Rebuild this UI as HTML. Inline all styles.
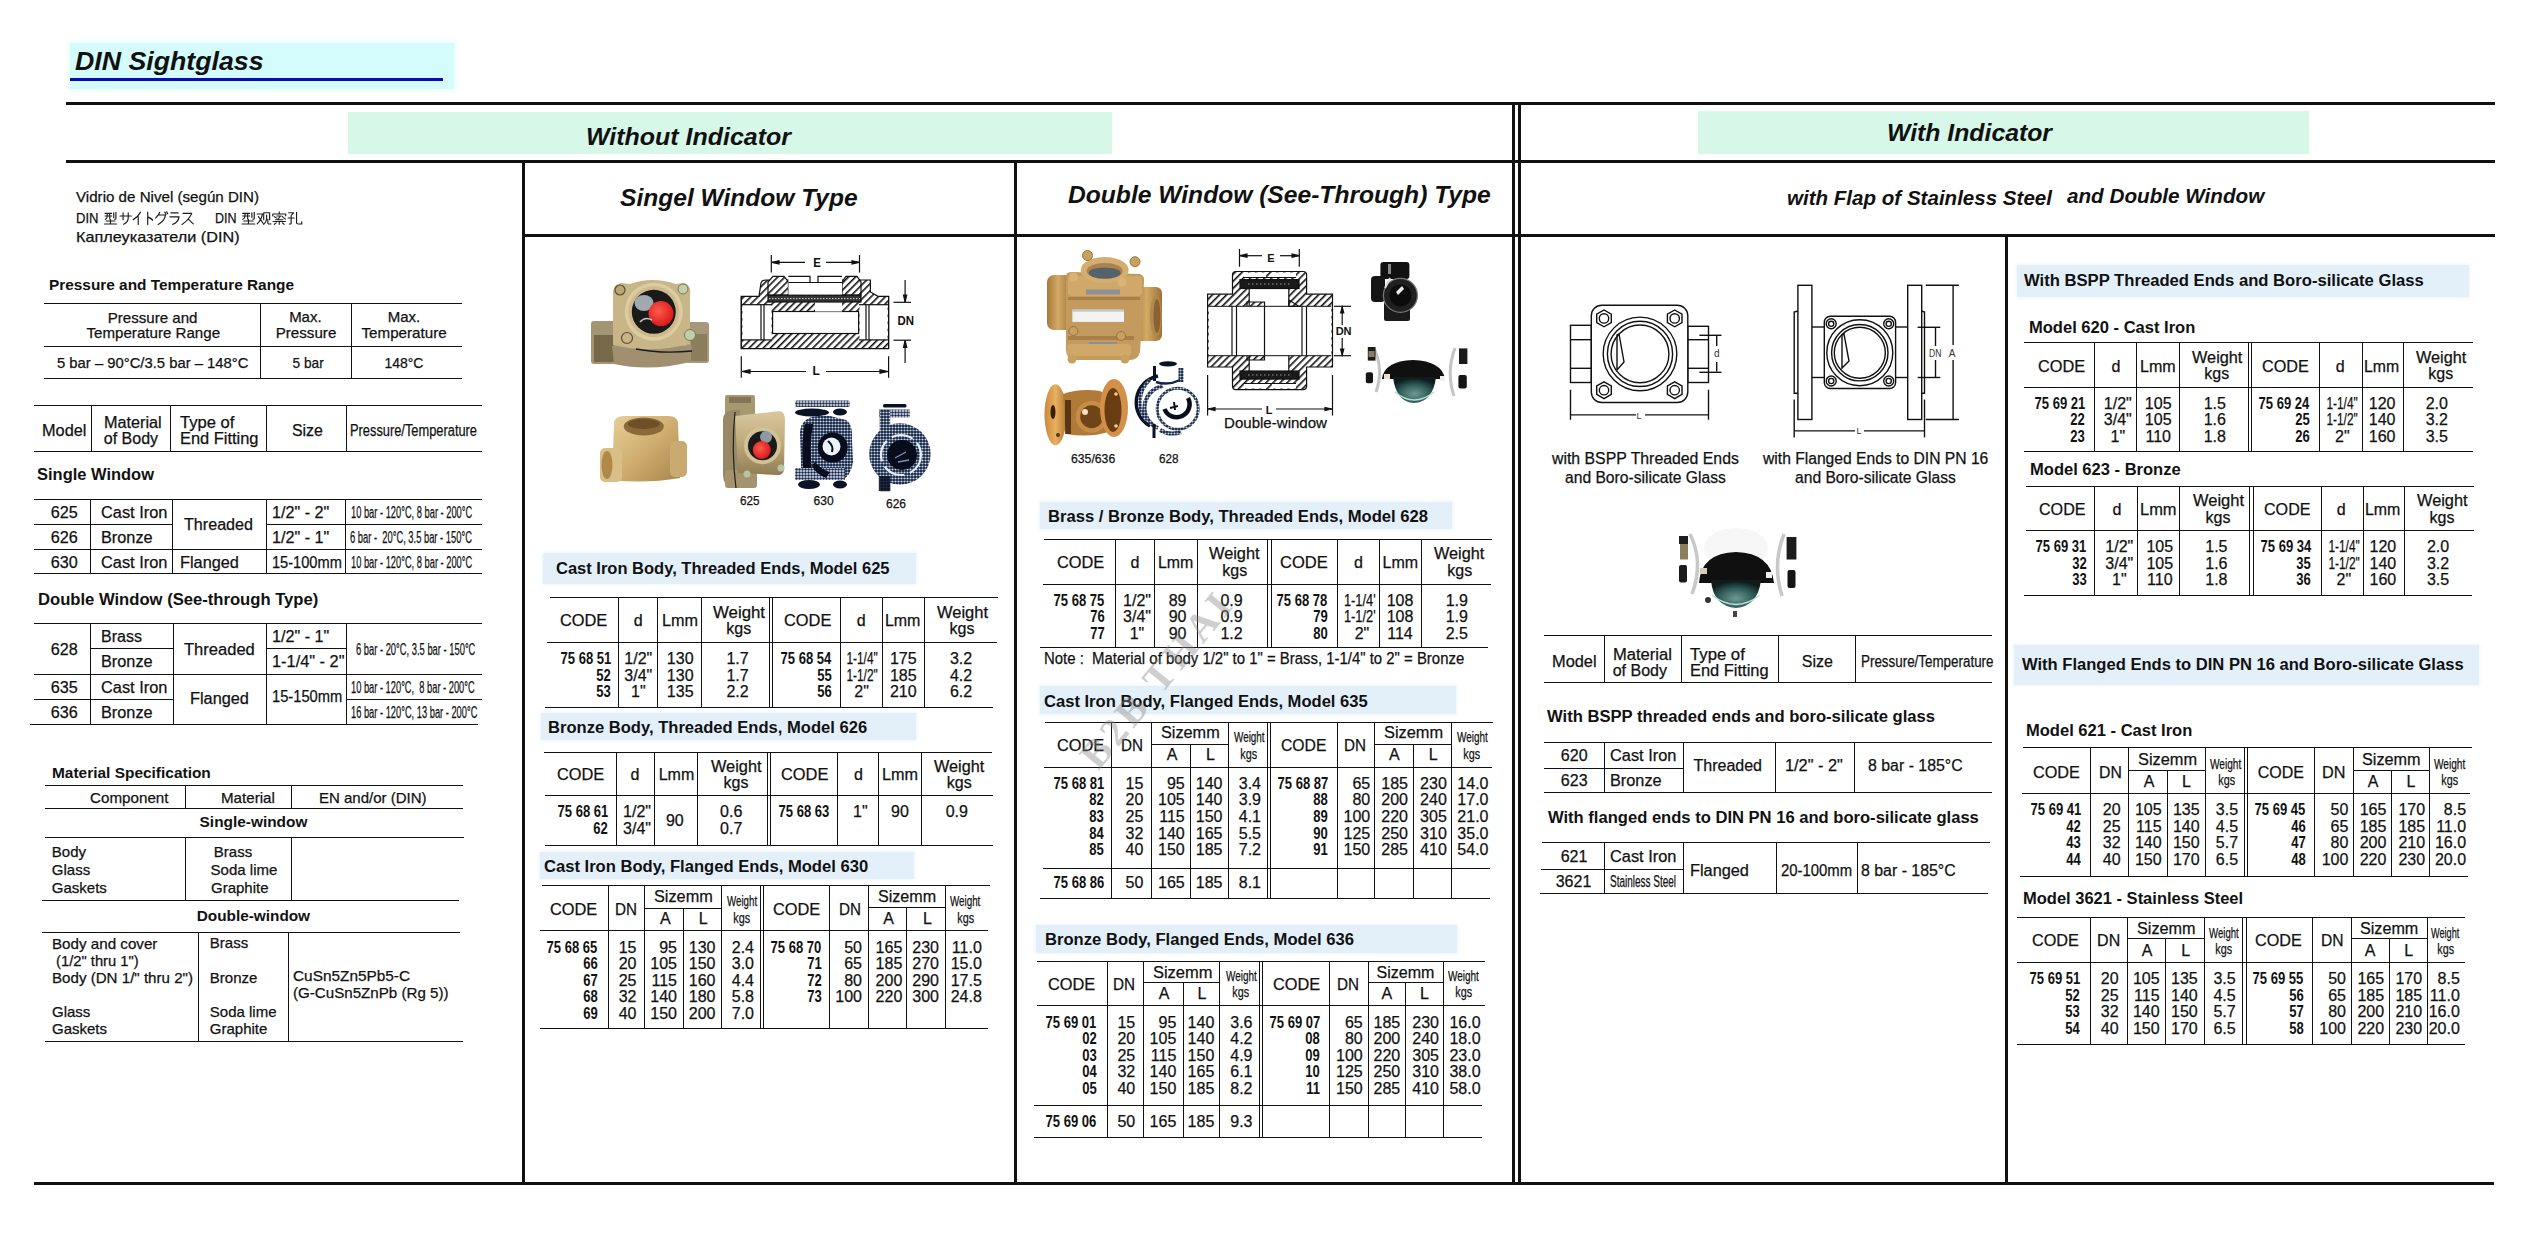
<!DOCTYPE html>
<html><head><meta charset="utf-8"><title>DIN Sightglass</title>
<style>
html,body{margin:0;padding:0;background:#fff;}
body{width:2536px;height:1236px;position:relative;overflow:hidden;font-family:'Liberation Sans',sans-serif;}
#pg div{position:absolute;white-space:pre;}
#pg i{position:absolute;display:block;}

</style></head><body><div id="pg">
<i style="left:70.00px;top:43.00px;width:384.00px;height:46.00px;background:#d5fcfc;box-shadow:0 0 4px 2px #e8fdfd;"></i><i style="left:70.00px;top:77.50px;width:373.00px;height:3.50px;background:#0a0ab4;"></i><i style="left:348.00px;top:112.00px;width:763.50px;height:42.00px;background:#d7f8e8;"></i><i style="left:1698.00px;top:110.50px;width:611.00px;height:43.00px;background:#d7f8e8;"></i><i style="left:542.90px;top:553.00px;width:373.20px;height:31.40px;background:#e3f0fa;box-shadow:0 0 3px 1px #eef6fc;"></i><i style="left:541.40px;top:712.60px;width:374.60px;height:27.40px;background:#e3f0fa;box-shadow:0 0 3px 1px #eef6fc;"></i><i style="left:539.50px;top:852.20px;width:374.80px;height:26.50px;background:#e3f0fa;box-shadow:0 0 3px 1px #eef6fc;"></i><i style="left:1039.80px;top:502.20px;width:412.20px;height:26.50px;background:#e3f0fa;box-shadow:0 0 3px 1px #eef6fc;"></i><i style="left:1039.80px;top:686.00px;width:416.10px;height:28.00px;background:#e3f0fa;box-shadow:0 0 3px 1px #eef6fc;"></i><i style="left:1036.00px;top:924.50px;width:421.00px;height:28.40px;background:#e3f0fa;box-shadow:0 0 3px 1px #eef6fc;"></i><i style="left:2016.70px;top:265.40px;width:451.90px;height:31.60px;background:#e3f0fa;box-shadow:0 0 3px 1px #eef6fc;"></i><i style="left:2014.10px;top:644.60px;width:465.30px;height:40.10px;background:#e3f0fa;box-shadow:0 0 3px 1px #eef6fc;"></i>

<svg width='2536' height='1236' viewBox='0 0 2536 1236' style='position:absolute;left:0;top:0'><g><path transform='translate(104,211.8) scale(1.083,1.050)' d='M1 1.5 H7 M1 4 H7 M3 1.5 V4 Q3 6.5 1.2 7.2 M5.3 1.5 V6.8 M9 1 V5.5 M11 0.5 V6.3 Q11 7.3 9.8 7 M2 8.8 H10 M6 7.3 V11.5 M0.5 11.6 H11.5' stroke='#1a1a1a' stroke-width='1.062' fill='none' stroke-linecap='round' stroke-linejoin='round'/><path transform='translate(119.5,211.8) scale(1.025,1.050)' d='M0.5 4 H11.5 M3.5 1 V7.5 M8.5 1 V6 Q8.5 10 4 11.8' stroke='#1a1a1a' stroke-width='1.122' fill='none' stroke-linecap='round' stroke-linejoin='round'/><path transform='translate(132.8,211.8) scale(0.900,1.050)' d='M8.5 0.5 Q5.5 5 0.5 7.5 M6 4.5 V12' stroke='#1a1a1a' stroke-width='1.278' fill='none' stroke-linecap='round' stroke-linejoin='round'/><path transform='translate(145.5,211.8) scale(0.742,1.050)' d='M3 0.5 V12 M3 5 Q7 6 9.5 7.8' stroke='#1a1a1a' stroke-width='1.551' fill='none' stroke-linecap='round' stroke-linejoin='round'/><path transform='translate(155,211.8) scale(1.058,1.050)' d='M4.5 0.5 Q3 4 0.5 6 M4 3 H10 Q9 9 3 12 M9.3 0.3 L10.4 2.3 M11 0 L12 1.9' stroke='#1a1a1a' stroke-width='1.087' fill='none' stroke-linecap='round' stroke-linejoin='round'/><path transform='translate(169,211.8) scale(0.917,1.050)' d='M2 1 H10 M1 4.8 H11 Q10 10 4 12' stroke='#1a1a1a' stroke-width='1.255' fill='none' stroke-linecap='round' stroke-linejoin='round'/><path transform='translate(181.5,211.8) scale(1.025,1.050)' d='M1.5 1.5 H10 Q7 8 0.5 12 M6.5 7 L11.5 11.5' stroke='#1a1a1a' stroke-width='1.122' fill='none' stroke-linecap='round' stroke-linejoin='round'/><path transform='translate(241.5,211.8) scale(1.158,1.050)' d='M1 1.5 H7 M1 4 H7 M3 1.5 V4 Q3 6.5 1.2 7.2 M5.3 1.5 V6.8 M9 1 V5.5 M11 0.5 V6.3 Q11 7.3 9.8 7 M2 8.8 H10 M6 7.3 V11.5 M0.5 11.6 H11.5' stroke='#1a1a1a' stroke-width='0.993' fill='none' stroke-linecap='round' stroke-linejoin='round'/><path transform='translate(256.6,211.8) scale(1.183,1.050)' d='M0.5 2 H5 Q4 8 0.5 11.5 M1.5 4.5 L5.5 11 M6 1 H11 V7.5 M6 1 V7.5 M8.5 3 V7 Q8 10 6 12 M9.5 7 V11 Q9.5 12 12 11.5' stroke='#1a1a1a' stroke-width='0.972' fill='none' stroke-linecap='round' stroke-linejoin='round'/><path transform='translate(271.8,211.8) scale(1.242,1.050)' d='M6 0 V1.5 M0.8 4 V2 H11.2 V4 M2 4.5 L4 6 M4 4 H7 L5 7 M8 4 L11 7 M3 7.5 H9 M1 9.2 H11 M6 9.2 V12 M3.5 10.5 L2 12 M8.5 10.5 L10 12' stroke='#1a1a1a' stroke-width='0.926' fill='none' stroke-linecap='round' stroke-linejoin='round'/><path transform='translate(287.5,211.8) scale(1.208,1.050)' d='M1 1 H5 L3 3.5 M3 3.5 V11.2 Q3 12 1.5 11.6 M0.5 6 H5.5 M7.5 0.5 V10.5 Q7.5 11.6 9 11.6 H11.8 V9.5' stroke='#1a1a1a' stroke-width='0.952' fill='none' stroke-linecap='round' stroke-linejoin='round'/></g>
<defs>
<linearGradient id="brass" x1="0" y1="0" x2="0" y2="1">
 <stop offset="0" stop-color="#d9c9a0"/><stop offset="0.5" stop-color="#bfa978"/><stop offset="1" stop-color="#8f7d55"/>
</linearGradient>
<linearGradient id="brassH" x1="0" y1="0" x2="1" y2="0">
 <stop offset="0" stop-color="#8a7650"/><stop offset="0.5" stop-color="#c9b483"/><stop offset="1" stop-color="#8f7b52"/>
</linearGradient>
<linearGradient id="gold" x1="0" y1="0" x2="1" y2="1">
 <stop offset="0" stop-color="#e8cf98"/><stop offset="0.5" stop-color="#cfae70"/><stop offset="1" stop-color="#a9844c"/>
</linearGradient>
<linearGradient id="bronze" x1="0" y1="0" x2="1" y2="0">
 <stop offset="0" stop-color="#a57a3c"/><stop offset="0.45" stop-color="#d4aa66"/><stop offset="1" stop-color="#9c7236"/>
</linearGradient>
<linearGradient id="copper" x1="0" y1="0" x2="1" y2="0">
 <stop offset="0" stop-color="#c88a3a"/><stop offset="0.5" stop-color="#e8b060"/><stop offset="1" stop-color="#b27a30"/>
</linearGradient>
<linearGradient id="chrome" x1="0" y1="0" x2="1" y2="0">
 <stop offset="0" stop-color="#f4f4f4"/><stop offset="0.5" stop-color="#ffffff"/><stop offset="1" stop-color="#e6e6e6"/>
</linearGradient>
<radialGradient id="teal" cx="0.5" cy="0.65" r="0.6">
 <stop offset="0" stop-color="#6f9a92"/><stop offset="0.6" stop-color="#2d5a55"/><stop offset="1" stop-color="#0e1c1c"/>
</radialGradient>
<radialGradient id="redball" cx="0.4" cy="0.4" r="0.6">
 <stop offset="0" stop-color="#ff5a4a"/><stop offset="1" stop-color="#d81c1c"/>
</radialGradient>
<pattern id="ht" width="3" height="3" patternUnits="userSpaceOnUse">
 <rect width="3" height="3" fill="#0d1d3c"/><circle cx="1.5" cy="1.5" r="1.1" fill="#c8d4e6"/>
</pattern>
<pattern id="ht2" width="3" height="3" patternUnits="userSpaceOnUse">
 <rect width="3" height="3" fill="#ffffff"/><circle cx="1.5" cy="1.5" r="1.0" fill="#5a6c8c"/>
</pattern>
<pattern id="ht3" width="3" height="3" patternUnits="userSpaceOnUse">
 <rect width="3" height="3" fill="#e9eff7"/><circle cx="1.5" cy="1.5" r="1.25" fill="#15244a"/>
</pattern>
<pattern id="hatch" width="5" height="5" patternUnits="userSpaceOnUse" patternTransform="rotate(45)">
 <rect width="5" height="5" fill="#fff"/><rect width="1.6" height="5" fill="#111"/>
</pattern>
<pattern id="hatch2" width="4" height="4" patternUnits="userSpaceOnUse" patternTransform="rotate(-45)">
 <rect width="4" height="4" fill="#fff"/><rect width="1.4" height="4" fill="#111"/>
</pattern>
</defs>

<g>
 <rect x="591" y="321" width="27" height="43" rx="3" fill="#a39473"/>
 <rect x="594" y="335" width="20" height="27" fill="#6d5d40" opacity="0.8"/>
 <rect x="686" y="322" width="23" height="41" rx="3" fill="#a8987a"/>
 <rect x="691" y="334" width="16" height="27" fill="#7a6a4a" opacity="0.6"/>
 <path d="M612 346 Q650 340 692 346 L690 362 Q650 372 614 364 Z" fill="#a09070"/>
 <path d="M613 296 Q612 284 622 283 L630 284 Q652 276 676 284 L684 283 Q692 285 690 296 L690 344 Q650 354 613 345 Z" fill="#c9b688"/>
 <circle cx="653.8" cy="311.8" r="29" fill="#dccca2"/>
 <circle cx="653.8" cy="311.8" r="25.5" fill="#cdb98c"/>
 <circle cx="653.8" cy="311.8" r="22" fill="#1a1a1a"/>
 <ellipse cx="644" cy="303" rx="9.5" ry="8" fill="#a0a8b0"/>
 <circle cx="661" cy="313.6" r="12.5" fill="url(#redball)"/>
 <path d="M640 322 Q645 316 652 320" stroke="#c8c8c8" stroke-width="1.5" fill="none"/>
 <circle cx="620" cy="290" r="5" fill="#b8a57a" stroke="#5d4d30" stroke-width="1.2"/>
 <circle cx="683" cy="289" r="5" fill="#c2cfa8" stroke="#7a7a55" stroke-width="1"/>
 <circle cx="627" cy="338" r="5.5" fill="#c8b587" stroke="#5d4d30" stroke-width="1.2"/>
 <circle cx="690" cy="335" r="5.5" fill="#bfd0a8" stroke="#7a7a55" stroke-width="1"/>
 <path d="M636 349 Q662 354 692 351" stroke="#1a1a1a" stroke-width="1.4" fill="none"/>
</g>
<g>
 <path d="M614 424 Q614 416 624 416 L668 416 Q678 416 678 424 L680 478 Q645 484 612 480 Z" fill="url(#gold)"/>
 <ellipse cx="643.8" cy="426.4" rx="20" ry="9" fill="#8c6a38"/>
 <ellipse cx="643.8" cy="424" rx="16" ry="5" fill="#6e5028"/>
 <rect x="600" y="448" width="22" height="34" rx="5" fill="#d9be88"/>
 <ellipse cx="607" cy="465" rx="5.5" ry="14" fill="#b08848"/>
 <rect x="670" y="441" width="17" height="36" rx="5" fill="#c9ab72"/>
</g>
<g>
 <rect x="725" y="395" width="30" height="22" rx="2" fill="#a89870"/>
 <rect x="729" y="397" width="22" height="6" fill="#6b5f44" opacity="0.6"/>
 <path d="M723 420 Q723 410 735 410 L740 410 L740 488 L733 488 Q723 486 723 475 Z" fill="#978866"/>
 <rect x="725" y="470" width="32" height="18" rx="3" fill="#a4936c"/>
 <path d="M735 416 L780 411 Q785 412 785 420 L784 470 Q783 476 776 475 L738 473 Z" fill="url(#brass)"/>
 <circle cx="762.5" cy="445.7" r="18.5" fill="#d2c196"/>
 <circle cx="762.5" cy="445.7" r="14.5" fill="#1a1a1a"/>
 <ellipse cx="766" cy="437" rx="6" ry="6" fill="#8d99a3"/>
 <circle cx="761.8" cy="450" r="9" fill="url(#redball)"/>
 <circle cx="781" cy="468" r="3.5" fill="#b6c6a0"/>
 <circle cx="747" cy="474" r="3.5" fill="#b6c6a0"/>
 <path d="M735 412 Q731 450 736 488" stroke="#222" stroke-width="1.2" fill="none"/>
</g>
<g>
 <rect x="795" y="400.5" width="55" height="6.5" rx="2" fill="url(#ht3)"/>
 <ellipse cx="812" cy="412.5" rx="17" ry="4" fill="#0b1226"/>
 <ellipse cx="840" cy="412" rx="7" ry="3.5" fill="#0b1226"/>
 <path d="M806 420 Q812 415 830 416 L846 420 Q853 424 852 440 L853 462 Q851 476 842 480 L808 480 Q800 476 801 462 L800 432 Q801 423 806 420 Z" fill="url(#ht)"/>
 <path d="M805 424 Q801 440 803 470 L812 472 Q809 446 813 424 Z" fill="#070d1c"/>
 <rect x="795" y="468" width="50" height="12" fill="url(#ht3)"/>
 <circle cx="832.7" cy="447.6" r="15" fill="#070d1c"/>
 <circle cx="831.5" cy="446.5" r="9" fill="#eef3fa"/>
 <path d="M828 441 Q834 446 832 452" stroke="#070d1c" stroke-width="2" fill="none"/>
 <ellipse cx="809" cy="484.5" rx="11" ry="4.5" fill="#0b1226"/>
 <ellipse cx="840" cy="484.5" rx="7" ry="4" fill="#0b1226"/>
 <path d="M815 462 Q822 470 830 472 L826 478 Q816 474 812 466 Z" fill="#070d1c"/>
</g>
<g>
 <rect x="883" y="403.9" width="23.5" height="3.5" rx="1.5" fill="#0b1226"/>
 <rect x="879" y="409.5" width="31" height="8" fill="url(#ht3)"/>
 <rect x="879.7" y="409.6" width="10.5" height="81.7" fill="url(#ht)"/>
 <circle cx="899.9" cy="454" r="30.7" fill="url(#ht)"/>
 <circle cx="901" cy="455" r="20" fill="none" stroke="#e8eef8" stroke-width="2.2" stroke-dasharray="22 6"/>
 <circle cx="902" cy="455" r="15" fill="#070d1c"/>
 <path d="M895 458 L906 452 M898 462 L909 460" stroke="#8090b0" stroke-width="1.4"/>
 <rect x="878.8" y="476" width="11.4" height="15" fill="#0b1226" opacity="0.85"/>
</g>
<g stroke="#111" stroke-width="1.2" fill="none">
 <line x1="771.3" y1="255" x2="771.3" y2="272.6"/><line x1="859.5" y1="255" x2="859.5" y2="272.6"/>
 <line x1="772" y1="262.4" x2="805" y2="262.4"/><line x1="826" y1="262.4" x2="859" y2="262.4"/>
 <path d="M772 262.4 l7 -1.6 v3.2 z M859 262.4 l-7 -1.6 v3.2 z" fill="#111"/>
 <path d="M741.3 296.3 H759 L761 283 Q762 280 766 280 H870.4 V292 L878 296.3 H888.6 V348.6 H741.3 Z" fill="url(#hatch)"/>
 <path d="M768 295 V282 L773 276.3 H784 L788.4 282 V295 Z" fill="url(#hatch)"/>
 <path d="M842 295 V282 L846 276.3 H857 L861 282 V295 Z" fill="url(#hatch)"/>
 <rect x="788.4" y="276.3" width="53.6" height="18.7" fill="#fff" stroke="none"/>
 <path d="M788.4 276.3 H810 V282.5 M818 282.5 V276.3 H842 M788.4 282.5 H842"/>
 <rect x="742.5" y="304.7" width="29" height="35.2" fill="#fff" stroke="none"/>
 <rect x="859.5" y="304.7" width="28" height="35.2" fill="#fff" stroke="none"/>
 <rect x="772.6" y="311.5" width="86" height="22" fill="#fff"/>
 <rect x="815" y="302" width="27" height="9.5" fill="#fff" stroke="none"/>
 <rect x="768" y="295.2" width="93" height="6.8" fill="#333"/>
 <line x1="769" y1="298.6" x2="860" y2="298.6" stroke="#ddd" stroke-width="1" stroke-dasharray="1.5 1.5"/>
 <line x1="741.3" y1="304.7" x2="772" y2="304.7"/><line x1="859" y1="304.7" x2="888.6" y2="304.7"/>
 <line x1="741.3" y1="339.9" x2="772" y2="339.9"/><line x1="859" y1="339.9" x2="888.6" y2="339.9"/>
 <line x1="761" y1="304.7" x2="761" y2="339.9"/><line x1="764" y1="304.7" x2="764" y2="339.9"/>
 <line x1="866" y1="304.7" x2="866" y2="339.9"/><line x1="869" y1="304.7" x2="869" y2="339.9"/>
 <line x1="741.3" y1="296.3" x2="741.3" y2="348.6"/><line x1="888.6" y1="296.3" x2="888.6" y2="348.6"/>
 <line x1="893.5" y1="302.3" x2="911" y2="302.3"/><line x1="893.5" y1="340.2" x2="911" y2="340.2"/>
 <line x1="905.1" y1="280" x2="905.1" y2="302"/><line x1="905.1" y1="340.5" x2="905.1" y2="363"/>
 <path d="M905.1 302 l-1.6 -7 h3.2 z M905.1 340.5 l-1.6 7 h3.2 z" fill="#111"/>
 <line x1="741.3" y1="356.2" x2="741.3" y2="377.8"/><line x1="888.6" y1="356.2" x2="888.6" y2="377.8"/>
 <line x1="742" y1="371.5" x2="806" y2="371.5"/><line x1="826" y1="371.5" x2="888" y2="371.5"/>
 <path d="M742 371.5 l8 -1.8 v3.6 z M888 371.5 l-8 -1.8 v3.6 z" fill="#111"/>
</g>
<g>
 <rect x="1047" y="275" width="25" height="55" rx="7" fill="url(#bronze)"/>
 <rect x="1134" y="287" width="28" height="54" rx="6" fill="url(#bronze)"/>
 <ellipse cx="1156" cy="316" rx="6" ry="20" fill="#b08850"/>
 <ellipse cx="1157" cy="316" rx="3.5" ry="17" fill="#8a6430"/>
 <path d="M1066 276 Q1066 272 1072 272 L1140 274 Q1145 276 1144 282 L1140 352 Q1138 360 1130 360 L1074 360 Q1066 358 1066 350 Z" fill="#c49a5e"/>
 <rect x="1068" y="276" width="74" height="20" rx="4" fill="#d0a86a"/>
 <ellipse cx="1104.7" cy="270" rx="24" ry="13" fill="#d4ae70"/>
 <ellipse cx="1104.7" cy="271" rx="18" ry="8" fill="#a88250"/>
 <ellipse cx="1104.7" cy="273" rx="16" ry="5.5" fill="#55626a"/>
 <rect x="1086" y="289.5" width="34" height="5" fill="#8d9196"/>
 <rect x="1068" y="297" width="72" height="3" fill="#9a7440" opacity="0.7"/>
 <rect x="1072.4" y="309.7" width="51.6" height="12.2" fill="#f2f3f4"/>
 <rect x="1072.4" y="309.7" width="51.6" height="2" fill="#c8c8c8"/>
 <rect x="1068" y="336" width="66" height="4" fill="#9a7440" opacity="0.7"/>
 <rect x="1088.6" y="342" width="28.4" height="5" fill="#8d9196"/>
 <rect x="1067" y="344" width="64" height="12" rx="3" fill="#d0a86a"/>
 <circle cx="1087.5" cy="255.5" r="5" fill="#c8a060" stroke="#9a7440" stroke-width="1"/>
 <circle cx="1135" cy="261.7" r="5" fill="#c8a060" stroke="#9a7440" stroke-width="1"/>
 <circle cx="1073.5" cy="277" r="4.5" fill="#d8b478"/>
 <circle cx="1122" cy="282" r="4.5" fill="#d8b478"/>
 <circle cx="1073.4" cy="331" r="4.5" fill="#c8a060" stroke="#9a7440" stroke-width="1"/>
 <circle cx="1121" cy="336" r="4.5" fill="#c8a060" stroke="#9a7440" stroke-width="1"/>
 <circle cx="1072" cy="359" r="4.5" fill="#c8a060"/>
 <circle cx="1125" cy="359" r="4.5" fill="#c8a060"/>
</g>
<g>
 <ellipse cx="1055.5" cy="414.7" rx="11" ry="30.5" fill="url(#copper)"/>
 <ellipse cx="1053" cy="412" rx="2.5" ry="7" fill="#3a200a"/>
 <circle cx="1058" cy="435" r="2" fill="#5a3a14"/>
 <path d="M1063 394 Q1080 388 1100 391 L1108 396 L1108 432 Q1090 438 1066 434 Z" fill="#b07a38"/>
 <rect x="1065" y="400" width="6" height="34" fill="#3a2208" opacity="0.75"/>
 <circle cx="1091.7" cy="416.7" r="16" fill="#c88c44"/>
 <circle cx="1091.7" cy="416.7" r="11.5" fill="#6e4418"/>
 <circle cx="1085" cy="412" r="3" fill="#f4e0c0"/>
 <ellipse cx="1114" cy="408" rx="14" ry="29" fill="#d49048"/>
 <ellipse cx="1113" cy="410" rx="8.5" ry="22" fill="#6a3c12"/>
 <circle cx="1116" cy="394" r="1.8" fill="#f0d0a0"/><circle cx="1116" cy="426" r="1.8" fill="#f0d0a0"/>
</g>
<g fill="none">
 <ellipse cx="1168" cy="363.8" rx="9" ry="2.6" fill="#0b1226"/>
 <path d="M1154.5 366 V381" stroke="#0b1226" stroke-width="3"/>
 <path d="M1181 368 V382" stroke="url(#ht)" stroke-width="5"/>
 <path d="M1156 382 Q1168 386 1180 380" stroke="#15244a" stroke-width="2.5"/>
 <path d="M1158 376 A27 27 0 0 0 1150 426" stroke="#0b1226" stroke-width="3.5"/>
 <path d="M1150 380 A26 28 0 0 0 1146 420" stroke="url(#ht)" stroke-width="3.5"/>
 <path d="M1163 386 A22 22 0 0 0 1158 428" stroke="url(#ht)" stroke-width="4"/>
 <circle cx="1177.7" cy="408.8" r="20.5" stroke="url(#ht)" stroke-width="3"/>
 <path d="M1188 398 A13 13 0 1 1 1164.5 409" stroke="#070d1c" stroke-width="4.5"/>
 <path d="M1170 408 L1178 406 M1174 402 L1175 410" stroke="#0b1226" stroke-width="2"/>
 <path d="M1154 424 V438" stroke="#0b1226" stroke-width="3"/>
 <path d="M1160 430 Q1170 436 1181 432" stroke="url(#ht)" stroke-width="4"/>
</g>
<g stroke="#111" stroke-width="1.2" fill="none">
 <line x1="1239.5" y1="248.9" x2="1239.5" y2="266.7"/><line x1="1299.3" y1="248.9" x2="1299.3" y2="266.7"/>
 <line x1="1240" y1="255.7" x2="1262" y2="255.7"/><line x1="1280" y1="255.7" x2="1299" y2="255.7"/>
 <path d="M1240 255.7 l7 -1.6 v3.2 z M1299 255.7 l-7 -1.6 v3.2 z" fill="#111"/>
 <path d="M1207.6 294.2 H1232.5 V275 Q1232.5 271.5 1236 271.5 H1303 Q1306.6 271.5 1306.6 275 V294.2 H1332.5 V367 H1306.6 V386 Q1306.6 389.6 1303 389.6 H1236 Q1232.5 389.6 1232.5 386 V367 H1207.6 Z" fill="url(#hatch)"/>
 <rect x="1208.8" y="306.3" width="122.5" height="49.4" fill="#fff" stroke="none"/>
 <rect x="1249.2" y="288.5" width="39.6" height="82.5" fill="#fff" stroke="none"/>
 <rect x="1244" y="272.5" width="22" height="5" fill="#fff" stroke="none"/><rect x="1272" y="272.5" width="24" height="5" fill="#fff" stroke="none"/>
 <rect x="1244" y="383.5" width="22" height="5" fill="#fff" stroke="none"/><rect x="1272" y="383.5" width="24" height="5" fill="#fff" stroke="none"/>
 <line x1="1244" y1="277.5" x2="1296" y2="277.5"/><line x1="1244" y1="383.5" x2="1296" y2="383.5"/>
 <rect x="1240" y="279.6" width="59" height="8.9" fill="#1a1a1a"/>
 <rect x="1240" y="371" width="59" height="8.1" fill="#1a1a1a"/>
 <line x1="1248" y1="284" x2="1291" y2="284" stroke="#999" stroke-width="1" stroke-dasharray="1.5 2.5"/>
 <line x1="1248" y1="375" x2="1291" y2="375" stroke="#999" stroke-width="1" stroke-dasharray="1.5 2.5"/>
 <path d="M1247 306.3 V302 H1264.5 V306.3" fill="url(#hatch)"/>
 <path d="M1247 355.7 V360 H1264.5 V355.7" fill="url(#hatch)"/>
 <path d="M1289 306.3 L1289 300 L1299 306.3 Z" fill="url(#hatch)"/>
 <line x1="1264.5" y1="306.3" x2="1264.5" y2="355.7"/>
 <line x1="1232" y1="306.3" x2="1232" y2="355.7"/><line x1="1236.5" y1="306.3" x2="1236.5" y2="355.7"/>
 <line x1="1302" y1="306.3" x2="1302" y2="355.7"/><line x1="1306.5" y1="306.3" x2="1306.5" y2="355.7"/>
 <line x1="1208.8" y1="306.3" x2="1331.3" y2="306.3" stroke-width="1"/>
 <line x1="1208.8" y1="355.7" x2="1331.3" y2="355.7" stroke-width="1"/>
 <line x1="1249.2" y1="288.5" x2="1249.2" y2="306.3"/><line x1="1288.8" y1="288.5" x2="1288.8" y2="306.3"/>
 <line x1="1249.2" y1="355.7" x2="1249.2" y2="371"/><line x1="1288.8" y1="355.7" x2="1288.8" y2="371"/>
 <line x1="1334" y1="306.3" x2="1351" y2="306.3"/><line x1="1334" y1="355.7" x2="1351" y2="355.7"/>
 <line x1="1342.2" y1="307" x2="1342.2" y2="325"/><line x1="1342.2" y1="338" x2="1342.2" y2="355"/>
 <path d="M1342.2 307 l-1.6 6 h3.2 z M1342.2 355 l-1.6 -6 h3.2 z" fill="#111"/>
 <line x1="1207.6" y1="375" x2="1207.6" y2="415.5"/><line x1="1332.5" y1="375" x2="1332.5" y2="415.5"/>
 <line x1="1208" y1="409" x2="1262" y2="409"/><line x1="1276" y1="409" x2="1332" y2="409"/>
 <path d="M1208 409 l7 -1.6 v3.2 z M1332 409 l-7 -1.6 v3.2 z" fill="#111"/>
</g>
<g>
 <rect x="1380.4" y="262" width="29" height="17" rx="3" fill="#111"/>
 <rect x="1388" y="264" width="3" height="10" fill="#888"/>
 <rect x="1371" y="276" width="14" height="26" rx="4" fill="#151515"/>
 <rect x="1384" y="302" width="26" height="19" rx="2" fill="#1a1a1a"/>
 <circle cx="1400.4" cy="295.4" r="17" fill="#202020" stroke="#777" stroke-width="1.2"/>
 <circle cx="1400.4" cy="295.4" r="11" fill="#0c0c0c"/>
 <path d="M1396 292 l6 -6 l2 3 l-6 6z" fill="#eee"/>
 <path d="M1385 288 l5 -10" stroke="#ddd" stroke-width="2"/>
</g>
<g>
 <path d="M1374 348 Q1384 370 1376 392" stroke="#c4c4c4" stroke-width="3" fill="none"/>
 <path d="M1455 348 Q1446 372 1454 396" stroke="#c4c4c4" stroke-width="3" fill="none"/>
 <rect x="1367.8" y="347" width="7.7" height="13.6" fill="#1c1c1c"/>
 <rect x="1368.5" y="351" width="6" height="6" fill="#8a8060"/>
 <rect x="1365.8" y="372.3" width="7.2" height="11" rx="2" fill="#151515"/>
 <rect x="1459" y="348.4" width="8.4" height="15.6" fill="#1a1a1a"/>
 <rect x="1458.4" y="375" width="8.4" height="13.5" rx="2" fill="#151515"/>
 <path d="M1382 379 Q1384 361 1413 360 Q1442 361 1445 379 Z" fill="#101010"/>
 <path d="M1393 377 Q1396 402 1414 403 Q1433 402 1436 377 Z" fill="url(#teal)"/>
 <path d="M1395 392 Q1414 408 1434 392" stroke="#b8dcd8" stroke-width="1.4" fill="none"/>
 <rect x="1384" y="374" width="6" height="5" fill="#e8e0c8"/>
 <rect x="1440" y="376" width="5" height="5" fill="#eee"/>
</g>
<g stroke="#111" stroke-width="1.4" fill="none">
 <rect x="1570.5" y="325.3" width="20.8" height="57.2"/>
 <line x1="1570.5" y1="339.7" x2="1591.3" y2="339.7"/><line x1="1570.5" y1="368.3" x2="1591.3" y2="368.3"/>
 <rect x="1687.8" y="326.3" width="20.7" height="56.2"/>
 <line x1="1687.8" y1="339.7" x2="1708.5" y2="339.7"/><line x1="1687.8" y1="368.3" x2="1708.5" y2="368.3"/>
 <rect x="1591.3" y="305.2" width="96.5" height="97.3" rx="10.5" fill="#fff"/>
 <circle cx="1640" cy="353.9" r="36.8"/><circle cx="1640" cy="353.9" r="32.6"/><circle cx="1640" cy="353.9" r="28.9"/>
 <path d="M1617 335 L1619 334 L1624 362 L1617 370 Z"/>
 <polygon points="1604,310 1611.3,314.2 1611.3,322.6 1604,326.8 1596.7,322.6 1596.7,314.2"/>
 <circle cx="1604" cy="318.4" r="4.7"/>
 <polygon points="1674.7,310 1682,314.2 1682,322.6 1674.7,326.8 1667.4,322.6 1667.4,314.2"/>
 <circle cx="1674.7" cy="318.4" r="4.7"/>
 <polygon points="1604,381.8 1611.3,386 1611.3,394.4 1604,398.6 1596.7,394.4 1596.7,386"/>
 <circle cx="1604" cy="390.2" r="4.7"/>
 <polygon points="1674.7,381.8 1682,386 1682,394.4 1674.7,398.6 1667.4,394.4 1667.4,386"/>
 <circle cx="1674.7" cy="390.2" r="4.7"/>
 <line x1="1699.4" y1="335.3" x2="1721.5" y2="335.3"/><line x1="1699.4" y1="372.3" x2="1721.5" y2="372.3"/>
 <line x1="1716.7" y1="336" x2="1716.7" y2="346"/><line x1="1716.7" y1="362" x2="1716.7" y2="371.5"/>
 <line x1="1570.5" y1="389.7" x2="1570.5" y2="419.7"/><line x1="1708.5" y1="389.7" x2="1708.5" y2="419.7"/>
 <line x1="1571" y1="414.9" x2="1636" y2="414.9"/><line x1="1645" y1="414.9" x2="1708" y2="414.9"/>
</g>
<g stroke="#111" stroke-width="1.4" fill="none">
 <rect x="1797.9" y="285.3" width="14" height="134.2"/>
 <polyline points="1797.9,311 1794.2,312 1794.2,393.3 1797.9,393.3"/>
 <rect x="1907.7" y="285.3" width="14" height="134.2"/>
 <polyline points="1921.7,311 1924.5,312 1924.5,393.3 1921.7,393.3"/>
 <line x1="1811.9" y1="327" x2="1824.3" y2="327"/><line x1="1811.9" y1="377.5" x2="1824.3" y2="377.5"/>
 <line x1="1895.6" y1="327" x2="1907.7" y2="327"/><line x1="1895.6" y1="377.5" x2="1907.7" y2="377.5"/>
 <rect x="1824.3" y="316.3" width="71.3" height="72.2" rx="6" fill="#fff"/>
 <circle cx="1859.8" cy="352.7" r="33"/><circle cx="1859.8" cy="352.7" r="28.2"/><circle cx="1859.8" cy="352.7" r="25.5"/>
 <path d="M1842 335 L1844 334 L1849 361 L1842 368 Z"/>
 <circle cx="1831.2" cy="323.8" r="5"/><circle cx="1831.2" cy="323.8" r="2.6"/>
 <circle cx="1888.7" cy="323.8" r="5"/><circle cx="1888.7" cy="323.8" r="2.6"/>
 <circle cx="1831.2" cy="381" r="5"/><circle cx="1831.2" cy="381" r="2.6"/>
 <circle cx="1888.7" cy="381" r="5"/><circle cx="1888.7" cy="381" r="2.6"/>
 <line x1="1917.6" y1="327.3" x2="1940.3" y2="327.3"/><line x1="1917.6" y1="377.5" x2="1940.3" y2="377.5"/>
 <line x1="1935.5" y1="328" x2="1935.5" y2="346"/><line x1="1935.5" y1="360" x2="1935.5" y2="377"/>
 <line x1="1925.8" y1="285.3" x2="1958.9" y2="285.3"/><line x1="1925.8" y1="419.5" x2="1958.9" y2="419.5"/>
 <line x1="1953.1" y1="286" x2="1953.1" y2="345"/><line x1="1953.1" y1="360" x2="1953.1" y2="419"/>
 <line x1="1794.2" y1="399.5" x2="1794.2" y2="437.4"/><line x1="1924.5" y1="399.5" x2="1924.5" y2="437.4"/>
 <line x1="1795" y1="430.9" x2="1855" y2="430.9"/><line x1="1864" y1="430.9" x2="1924" y2="430.9"/>
</g>
<g>
 <ellipse cx="1736" cy="548" rx="32" ry="20" fill="#f7f7f7"/>
 <path d="M1690 534 Q1704 562 1692 594" stroke="#c8c8c8" stroke-width="3.5" fill="none"/>
 <path d="M1784 534 Q1772 564 1782 596" stroke="#c8c8c8" stroke-width="3.5" fill="none"/>
 <rect x="1679" y="536" width="9" height="8" fill="#1e1e1e"/>
 <rect x="1680" y="544" width="8" height="15.5" fill="#8a8060"/>
 <rect x="1679" y="565" width="8" height="17.6" rx="2" fill="#1a1a1a"/>
 <rect x="1786.6" y="537" width="9.8" height="22.5" fill="#1c1c1c"/>
 <rect x="1787.5" y="570" width="8" height="18" rx="2" fill="#151515"/>
 <path d="M1699 583 Q1701 553 1736 552 Q1771 553 1774 583 Z" fill="#101010"/>
 <path d="M1711 580 Q1713 606 1736 608 Q1758 606 1761 580 Z" fill="url(#teal)"/>
 <path d="M1712 595 Q1736 614 1760 595" stroke="#bfe0dc" stroke-width="1.5" fill="none"/>
 <rect x="1700" y="568" width="7" height="6" fill="#d6cfb4"/>
 <rect x="1766" y="572" width="6" height="6" fill="#eee"/>
 <circle cx="1708" cy="600" r="3" fill="#333"/>
 <rect x="1733" y="611" width="4" height="6" fill="#444"/>
</g><g shape-rendering='crispEdges'><line x1='66' y1='103.5' x2='2495' y2='103.5' stroke='#111' stroke-width='3'/><line x1='66' y1='161.5' x2='2495' y2='161.5' stroke='#111' stroke-width='3'/><line x1='523' y1='235.5' x2='2495' y2='235.5' stroke='#111' stroke-width='3'/><line x1='34' y1='1183.5' x2='2494' y2='1183.5' stroke='#111' stroke-width='3'/><line x1='523.5' y1='160' x2='523.5' y2='1185' stroke='#111' stroke-width='3'/><line x1='1015.5' y1='160' x2='1015.5' y2='1185' stroke='#111' stroke-width='3'/><line x1='1513.5' y1='102' x2='1513.5' y2='1185' stroke='#111' stroke-width='3'/><line x1='1519.5' y1='102' x2='1519.5' y2='1185' stroke='#111' stroke-width='3'/><line x1='2006.5' y1='234' x2='2006.5' y2='1185' stroke='#111' stroke-width='3'/><line x1='44' y1='303.5' x2='462' y2='303.5' stroke='#111' stroke-width='1'/><line x1='44' y1='346.5' x2='462' y2='346.5' stroke='#111' stroke-width='1'/><line x1='44' y1='378.5' x2='462' y2='378.5' stroke='#111' stroke-width='1'/><line x1='260.5' y1='303' x2='260.5' y2='378' stroke='#111' stroke-width='1'/><line x1='351.5' y1='303' x2='351.5' y2='378' stroke='#111' stroke-width='1'/><line x1='34' y1='405.5' x2='482' y2='405.5' stroke='#111' stroke-width='1'/><line x1='34' y1='451.5' x2='482' y2='451.5' stroke='#111' stroke-width='1'/><line x1='91.5' y1='406' x2='91.5' y2='451' stroke='#111' stroke-width='1'/><line x1='170.5' y1='406' x2='170.5' y2='451' stroke='#111' stroke-width='1'/><line x1='266.5' y1='406' x2='266.5' y2='451' stroke='#111' stroke-width='1'/><line x1='346.5' y1='406' x2='346.5' y2='451' stroke='#111' stroke-width='1'/><line x1='34' y1='499.5' x2='482' y2='499.5' stroke='#111' stroke-width='1'/><line x1='34' y1='524.5' x2='172' y2='524.5' stroke='#111' stroke-width='1'/><line x1='266' y1='524.5' x2='482' y2='524.5' stroke='#111' stroke-width='1'/><line x1='34' y1='549.5' x2='482' y2='549.5' stroke='#111' stroke-width='1'/><line x1='34' y1='573.5' x2='482' y2='573.5' stroke='#111' stroke-width='1'/><line x1='90.5' y1='500' x2='90.5' y2='573' stroke='#111' stroke-width='1'/><line x1='172.5' y1='500' x2='172.5' y2='573' stroke='#111' stroke-width='1'/><line x1='266.5' y1='500' x2='266.5' y2='573' stroke='#111' stroke-width='1'/><line x1='345.5' y1='500' x2='345.5' y2='573' stroke='#111' stroke-width='1'/><line x1='34' y1='623.5' x2='482' y2='623.5' stroke='#111' stroke-width='1'/><line x1='90' y1='648.5' x2='174' y2='648.5' stroke='#111' stroke-width='1'/><line x1='266' y1='648.5' x2='346' y2='648.5' stroke='#111' stroke-width='1'/><line x1='34' y1='674.5' x2='482' y2='674.5' stroke='#111' stroke-width='1'/><line x1='34' y1='699.5' x2='174' y2='699.5' stroke='#111' stroke-width='1'/><line x1='346' y1='699.5' x2='482' y2='699.5' stroke='#111' stroke-width='1'/><line x1='30' y1='724.5' x2='478' y2='724.5' stroke='#111' stroke-width='1'/><line x1='90.5' y1='624' x2='90.5' y2='724' stroke='#111' stroke-width='1'/><line x1='173.5' y1='624' x2='173.5' y2='724' stroke='#111' stroke-width='1'/><line x1='266.5' y1='624' x2='266.5' y2='724' stroke='#111' stroke-width='1'/><line x1='346.5' y1='624' x2='346.5' y2='724' stroke='#111' stroke-width='1'/><line x1='45' y1='785.5' x2='463' y2='785.5' stroke='#111' stroke-width='1'/><line x1='45' y1='808.5' x2='463' y2='808.5' stroke='#111' stroke-width='1'/><line x1='45' y1='837.5' x2='464' y2='837.5' stroke='#111' stroke-width='1'/><line x1='42' y1='900.5' x2='459' y2='900.5' stroke='#111' stroke-width='1'/><line x1='42' y1='932.5' x2='460' y2='932.5' stroke='#111' stroke-width='1'/><line x1='45' y1='1041.5' x2='463' y2='1041.5' stroke='#111' stroke-width='1'/><line x1='185.5' y1='786' x2='185.5' y2='808' stroke='#111' stroke-width='1'/><line x1='185.5' y1='838' x2='185.5' y2='900' stroke='#111' stroke-width='1'/><line x1='291.5' y1='786' x2='291.5' y2='808' stroke='#111' stroke-width='1'/><line x1='291.5' y1='838' x2='291.5' y2='900' stroke='#111' stroke-width='1'/><line x1='198.5' y1='932' x2='198.5' y2='1041' stroke='#111' stroke-width='1'/><line x1='288.5' y1='932' x2='288.5' y2='1041' stroke='#111' stroke-width='1'/><line x1='550' y1='597.5' x2='998' y2='597.5' stroke='#111' stroke-width='1'/><line x1='547' y1='642.5' x2='997' y2='642.5' stroke='#111' stroke-width='1'/><line x1='545' y1='707.5' x2='993' y2='707.5' stroke='#111' stroke-width='1'/><line x1='618.5' y1='598' x2='618.5' y2='707' stroke='#111' stroke-width='1'/><line x1='657.5' y1='598' x2='657.5' y2='707' stroke='#111' stroke-width='1'/><line x1='701.5' y1='598' x2='701.5' y2='707' stroke='#111' stroke-width='1'/><line x1='769.5' y1='598' x2='769.5' y2='707' stroke='#111' stroke-width='1'/><line x1='772.5' y1='598' x2='772.5' y2='707' stroke='#111' stroke-width='1'/><line x1='840.5' y1='598' x2='840.5' y2='707' stroke='#111' stroke-width='1'/><line x1='882.5' y1='598' x2='882.5' y2='707' stroke='#111' stroke-width='1'/><line x1='924.5' y1='598' x2='924.5' y2='707' stroke='#111' stroke-width='1'/><line x1='544' y1='752.5' x2='992' y2='752.5' stroke='#111' stroke-width='1'/><line x1='545' y1='795.5' x2='993' y2='795.5' stroke='#111' stroke-width='1'/><line x1='545' y1='845.5' x2='993' y2='845.5' stroke='#111' stroke-width='1'/><line x1='616.5' y1='752' x2='616.5' y2='846' stroke='#111' stroke-width='1'/><line x1='654.5' y1='752' x2='654.5' y2='846' stroke='#111' stroke-width='1'/><line x1='697.5' y1='752' x2='697.5' y2='846' stroke='#111' stroke-width='1'/><line x1='767.5' y1='752' x2='767.5' y2='846' stroke='#111' stroke-width='1'/><line x1='770.5' y1='752' x2='770.5' y2='846' stroke='#111' stroke-width='1'/><line x1='837.5' y1='752' x2='837.5' y2='846' stroke='#111' stroke-width='1'/><line x1='878.5' y1='752' x2='878.5' y2='846' stroke='#111' stroke-width='1'/><line x1='921.5' y1='752' x2='921.5' y2='846' stroke='#111' stroke-width='1'/><line x1='542' y1='885.5' x2='990' y2='885.5' stroke='#111' stroke-width='1'/><line x1='644' y1='908.5' x2='721' y2='908.5' stroke='#111' stroke-width='1'/><line x1='869' y1='907.5' x2='946' y2='907.5' stroke='#111' stroke-width='1'/><line x1='540' y1='930.5' x2='988' y2='930.5' stroke='#111' stroke-width='1'/><line x1='540' y1='1028.5' x2='988' y2='1028.5' stroke='#111' stroke-width='1'/><line x1='608.5' y1='886' x2='608.5' y2='1028' stroke='#111' stroke-width='1'/><line x1='644.5' y1='886' x2='644.5' y2='1028' stroke='#111' stroke-width='1'/><line x1='721.5' y1='886' x2='721.5' y2='1028' stroke='#111' stroke-width='1'/><line x1='760.5' y1='886' x2='760.5' y2='1028' stroke='#111' stroke-width='1'/><line x1='763.5' y1='886' x2='763.5' y2='1028' stroke='#111' stroke-width='1'/><line x1='829.5' y1='886' x2='829.5' y2='1028' stroke='#111' stroke-width='1'/><line x1='868.5' y1='886' x2='868.5' y2='1028' stroke='#111' stroke-width='1'/><line x1='945.5' y1='886' x2='945.5' y2='1028' stroke='#111' stroke-width='1'/><line x1='683.5' y1='908' x2='683.5' y2='1028' stroke='#111' stroke-width='1'/><line x1='906.5' y1='908' x2='906.5' y2='1028' stroke='#111' stroke-width='1'/><line x1='1044' y1='539.5' x2='1492' y2='539.5' stroke='#111' stroke-width='1'/><line x1='1043' y1='584.5' x2='1491' y2='584.5' stroke='#111' stroke-width='1'/><line x1='1040' y1='647.5' x2='1488' y2='647.5' stroke='#111' stroke-width='1'/><line x1='1115.5' y1='540' x2='1115.5' y2='647' stroke='#111' stroke-width='1'/><line x1='1154.5' y1='540' x2='1154.5' y2='647' stroke='#111' stroke-width='1'/><line x1='1197.5' y1='540' x2='1197.5' y2='647' stroke='#111' stroke-width='1'/><line x1='1267.5' y1='540' x2='1267.5' y2='647' stroke='#111' stroke-width='1'/><line x1='1271.5' y1='540' x2='1271.5' y2='647' stroke='#111' stroke-width='1'/><line x1='1337.5' y1='540' x2='1337.5' y2='647' stroke='#111' stroke-width='1'/><line x1='1379.5' y1='540' x2='1379.5' y2='647' stroke='#111' stroke-width='1'/><line x1='1421.5' y1='540' x2='1421.5' y2='647' stroke='#111' stroke-width='1'/><line x1='1045' y1='722.5' x2='1493' y2='722.5' stroke='#111' stroke-width='1'/><line x1='1152' y1='744.5' x2='1228' y2='744.5' stroke='#111' stroke-width='1'/><line x1='1375' y1='744.5' x2='1451' y2='744.5' stroke='#111' stroke-width='1'/><line x1='1044' y1='767.5' x2='1492' y2='767.5' stroke='#111' stroke-width='1'/><line x1='1043' y1='868.5' x2='1490' y2='868.5' stroke='#111' stroke-width='1'/><line x1='1040' y1='898.5' x2='1490' y2='898.5' stroke='#111' stroke-width='1'/><line x1='1111.5' y1='723' x2='1111.5' y2='898' stroke='#111' stroke-width='1'/><line x1='1151.5' y1='723' x2='1151.5' y2='898' stroke='#111' stroke-width='1'/><line x1='1228.5' y1='723' x2='1228.5' y2='898' stroke='#111' stroke-width='1'/><line x1='1267.5' y1='723' x2='1267.5' y2='898' stroke='#111' stroke-width='1'/><line x1='1270.5' y1='723' x2='1270.5' y2='898' stroke='#111' stroke-width='1'/><line x1='1337.5' y1='723' x2='1337.5' y2='898' stroke='#111' stroke-width='1'/><line x1='1374.5' y1='723' x2='1374.5' y2='898' stroke='#111' stroke-width='1'/><line x1='1451.5' y1='723' x2='1451.5' y2='898' stroke='#111' stroke-width='1'/><line x1='1190.5' y1='744' x2='1190.5' y2='898' stroke='#111' stroke-width='1'/><line x1='1413.5' y1='744' x2='1413.5' y2='898' stroke='#111' stroke-width='1'/><line x1='1037' y1='961.5' x2='1485' y2='961.5' stroke='#111' stroke-width='1'/><line x1='1144' y1='982.5' x2='1219' y2='982.5' stroke='#111' stroke-width='1'/><line x1='1368' y1='982.5' x2='1443' y2='982.5' stroke='#111' stroke-width='1'/><line x1='1037' y1='1005.5' x2='1485' y2='1005.5' stroke='#111' stroke-width='1'/><line x1='1034' y1='1105.5' x2='1482' y2='1105.5' stroke='#111' stroke-width='1'/><line x1='1034' y1='1137.5' x2='1482' y2='1137.5' stroke='#111' stroke-width='1'/><line x1='1107.5' y1='961' x2='1107.5' y2='1137' stroke='#111' stroke-width='1'/><line x1='1143.5' y1='961' x2='1143.5' y2='1137' stroke='#111' stroke-width='1'/><line x1='1219.5' y1='961' x2='1219.5' y2='1137' stroke='#111' stroke-width='1'/><line x1='1259.5' y1='961' x2='1259.5' y2='1137' stroke='#111' stroke-width='1'/><line x1='1262.5' y1='961' x2='1262.5' y2='1137' stroke='#111' stroke-width='1'/><line x1='1329.5' y1='961' x2='1329.5' y2='1137' stroke='#111' stroke-width='1'/><line x1='1368.5' y1='961' x2='1368.5' y2='1137' stroke='#111' stroke-width='1'/><line x1='1443.5' y1='961' x2='1443.5' y2='1137' stroke='#111' stroke-width='1'/><line x1='1183.5' y1='983' x2='1183.5' y2='1137' stroke='#111' stroke-width='1'/><line x1='1405.5' y1='983' x2='1405.5' y2='1137' stroke='#111' stroke-width='1'/><line x1='1544' y1='635.5' x2='1992' y2='635.5' stroke='#111' stroke-width='1'/><line x1='1544' y1='682.5' x2='1992' y2='682.5' stroke='#111' stroke-width='1'/><line x1='1604.5' y1='635' x2='1604.5' y2='682' stroke='#111' stroke-width='1'/><line x1='1681.5' y1='635' x2='1681.5' y2='682' stroke='#111' stroke-width='1'/><line x1='1778.5' y1='635' x2='1778.5' y2='682' stroke='#111' stroke-width='1'/><line x1='1855.5' y1='635' x2='1855.5' y2='682' stroke='#111' stroke-width='1'/><line x1='1544' y1='742.5' x2='1992' y2='742.5' stroke='#111' stroke-width='1'/><line x1='1544' y1='768.5' x2='1683' y2='768.5' stroke='#111' stroke-width='1'/><line x1='1544' y1='792.5' x2='1992' y2='792.5' stroke='#111' stroke-width='1'/><line x1='1604.5' y1='743' x2='1604.5' y2='792' stroke='#111' stroke-width='1'/><line x1='1683.5' y1='743' x2='1683.5' y2='792' stroke='#111' stroke-width='1'/><line x1='1775.5' y1='743' x2='1775.5' y2='792' stroke='#111' stroke-width='1'/><line x1='1854.5' y1='743' x2='1854.5' y2='792' stroke='#111' stroke-width='1'/><line x1='1542' y1='842.5' x2='1990' y2='842.5' stroke='#111' stroke-width='1'/><line x1='1541' y1='869.5' x2='1683' y2='869.5' stroke='#111' stroke-width='1'/><line x1='1540' y1='893.5' x2='1988' y2='893.5' stroke='#111' stroke-width='1'/><line x1='1604.5' y1='842' x2='1604.5' y2='893' stroke='#111' stroke-width='1'/><line x1='1683.5' y1='842' x2='1683.5' y2='893' stroke='#111' stroke-width='1'/><line x1='1776.5' y1='842' x2='1776.5' y2='893' stroke='#111' stroke-width='1'/><line x1='1857.5' y1='842' x2='1857.5' y2='893' stroke='#111' stroke-width='1'/><line x1='2024' y1='342.5' x2='2473' y2='342.5' stroke='#111' stroke-width='1'/><line x1='2024' y1='387.5' x2='2473' y2='387.5' stroke='#111' stroke-width='1'/><line x1='2024' y1='451.5' x2='2473' y2='451.5' stroke='#111' stroke-width='1'/><line x1='2094.5' y1='342' x2='2094.5' y2='451' stroke='#111' stroke-width='1'/><line x1='2136.5' y1='342' x2='2136.5' y2='451' stroke='#111' stroke-width='1'/><line x1='2179.5' y1='342' x2='2179.5' y2='451' stroke='#111' stroke-width='1'/><line x1='2248.5' y1='342' x2='2248.5' y2='451' stroke='#111' stroke-width='1'/><line x1='2251.5' y1='342' x2='2251.5' y2='451' stroke='#111' stroke-width='1'/><line x1='2319.5' y1='342' x2='2319.5' y2='451' stroke='#111' stroke-width='1'/><line x1='2362.5' y1='342' x2='2362.5' y2='451' stroke='#111' stroke-width='1'/><line x1='2403.5' y1='342' x2='2403.5' y2='451' stroke='#111' stroke-width='1'/><line x1='2026' y1='486.5' x2='2474' y2='486.5' stroke='#111' stroke-width='1'/><line x1='2026' y1='530.5' x2='2474' y2='530.5' stroke='#111' stroke-width='1'/><line x1='2024' y1='595.5' x2='2472' y2='595.5' stroke='#111' stroke-width='1'/><line x1='2094.5' y1='486' x2='2094.5' y2='595' stroke='#111' stroke-width='1'/><line x1='2137.5' y1='486' x2='2137.5' y2='595' stroke='#111' stroke-width='1'/><line x1='2179.5' y1='486' x2='2179.5' y2='595' stroke='#111' stroke-width='1'/><line x1='2249.5' y1='486' x2='2249.5' y2='595' stroke='#111' stroke-width='1'/><line x1='2253.5' y1='486' x2='2253.5' y2='595' stroke='#111' stroke-width='1'/><line x1='2321.5' y1='486' x2='2321.5' y2='595' stroke='#111' stroke-width='1'/><line x1='2363.5' y1='486' x2='2363.5' y2='595' stroke='#111' stroke-width='1'/><line x1='2404.5' y1='486' x2='2404.5' y2='595' stroke='#111' stroke-width='1'/><line x1='2023' y1='747.5' x2='2472' y2='747.5' stroke='#111' stroke-width='1'/><line x1='2128' y1='770.5' x2='2205' y2='770.5' stroke='#111' stroke-width='1'/><line x1='2353' y1='770.5' x2='2429' y2='770.5' stroke='#111' stroke-width='1'/><line x1='2022' y1='793.5' x2='2470' y2='793.5' stroke='#111' stroke-width='1'/><line x1='2020' y1='876.5' x2='2468' y2='876.5' stroke='#111' stroke-width='1'/><line x1='2090.5' y1='747' x2='2090.5' y2='876' stroke='#111' stroke-width='1'/><line x1='2128.5' y1='747' x2='2128.5' y2='876' stroke='#111' stroke-width='1'/><line x1='2205.5' y1='747' x2='2205.5' y2='876' stroke='#111' stroke-width='1'/><line x1='2244.5' y1='747' x2='2244.5' y2='876' stroke='#111' stroke-width='1'/><line x1='2247.5' y1='747' x2='2247.5' y2='876' stroke='#111' stroke-width='1'/><line x1='2314.5' y1='747' x2='2314.5' y2='876' stroke='#111' stroke-width='1'/><line x1='2353.5' y1='747' x2='2353.5' y2='876' stroke='#111' stroke-width='1'/><line x1='2429.5' y1='747' x2='2429.5' y2='876' stroke='#111' stroke-width='1'/><line x1='2167.5' y1='770' x2='2167.5' y2='876' stroke='#111' stroke-width='1'/><line x1='2391.5' y1='770' x2='2391.5' y2='876' stroke='#111' stroke-width='1'/><line x1='2017' y1='917.5' x2='2465' y2='917.5' stroke='#111' stroke-width='1'/><line x1='2128' y1='938.5' x2='2204' y2='938.5' stroke='#111' stroke-width='1'/><line x1='2352' y1='938.5' x2='2427' y2='938.5' stroke='#111' stroke-width='1'/><line x1='2017' y1='962.5' x2='2465' y2='962.5' stroke='#111' stroke-width='1'/><line x1='2017' y1='1044.5' x2='2465' y2='1044.5' stroke='#111' stroke-width='1'/><line x1='2090.5' y1='917' x2='2090.5' y2='1044' stroke='#111' stroke-width='1'/><line x1='2127.5' y1='917' x2='2127.5' y2='1044' stroke='#111' stroke-width='1'/><line x1='2204.5' y1='917' x2='2204.5' y2='1044' stroke='#111' stroke-width='1'/><line x1='2242.5' y1='917' x2='2242.5' y2='1044' stroke='#111' stroke-width='1'/><line x1='2246.5' y1='917' x2='2246.5' y2='1044' stroke='#111' stroke-width='1'/><line x1='2312.5' y1='917' x2='2312.5' y2='1044' stroke='#111' stroke-width='1'/><line x1='2351.5' y1='917' x2='2351.5' y2='1044' stroke='#111' stroke-width='1'/><line x1='2427.5' y1='917' x2='2427.5' y2='1044' stroke='#111' stroke-width='1'/><line x1='2165.5' y1='939' x2='2165.5' y2='1044' stroke='#111' stroke-width='1'/><line x1='2389.5' y1='939' x2='2389.5' y2='1044' stroke='#111' stroke-width='1'/></g></svg>
<div style="left:75.00px;top:48.00px;line-height:26px;font-family:'Liberation Sans';font-size:26px;font-weight:bold;font-style:italic;letter-spacing:0px;color:#111;transform:scaleX(1.0279);transform-origin:left 50%;">DIN Sightglass</div><div style="left:586.00px;top:125.00px;line-height:24px;font-family:'Liberation Sans';font-size:24px;font-weight:bold;font-style:italic;letter-spacing:0px;color:#111;transform:scaleX(1.0401);transform-origin:left 50%;">Without Indicator</div><div style="left:1887.30px;top:121.00px;line-height:24px;font-family:'Liberation Sans';font-size:24px;font-weight:bold;font-style:italic;letter-spacing:0px;color:#111;transform:scaleX(1.0327);transform-origin:left 50%;">With Indicator</div><div style="left:619.70px;top:186.00px;line-height:24px;font-family:'Liberation Sans';font-size:24px;font-weight:bold;font-style:italic;letter-spacing:0px;color:#111;transform:scaleX(1.0235);transform-origin:left 50%;">Singel Window Type</div><div style="left:1068.30px;top:183.00px;line-height:24px;font-family:'Liberation Sans';font-size:24px;font-weight:bold;font-style:italic;letter-spacing:0px;color:#111;transform:scaleX(1.0255);transform-origin:left 50%;">Double Window (See-Through) Type</div><div style="left:1787.20px;top:188.00px;line-height:20px;font-family:'Liberation Sans';font-size:20px;font-weight:bold;font-style:italic;letter-spacing:0px;color:#111;transform:scaleX(1.0278);transform-origin:left 50%;">with Flap of Stainless Steel</div><div style="left:2066.60px;top:186.00px;line-height:20px;font-family:'Liberation Sans';font-size:20px;font-weight:bold;font-style:italic;letter-spacing:0px;color:#111;transform:scaleX(1.0334);transform-origin:left 50%;">and Double Window</div><div style="left:75.90px;top:189.00px;line-height:15px;font-family:'Liberation Sans';font-size:15px;font-weight:normal;font-style:normal;letter-spacing:0px;color:#111;-webkit-text-stroke:0.25px #111;transform:scaleX(1.0084);transform-origin:left 50%;">Vidrio de Nivel (según DIN)</div><div style="left:76.00px;top:229.00px;line-height:15px;font-family:'Liberation Sans';font-size:15px;font-weight:normal;font-style:normal;letter-spacing:0px;color:#111;-webkit-text-stroke:0.25px #111;transform:scaleX(1.0815);transform-origin:left 50%;">Каплеуказатели (DIN)</div><div style="left:49.20px;top:277.00px;line-height:15px;font-family:'Liberation Sans';font-size:15px;font-weight:bold;font-style:normal;letter-spacing:0px;color:#111;transform:scaleX(1.0252);transform-origin:left 50%;">Pressure and Temperature Range</div><div style="left:107.89px;top:310.00px;line-height:15px;font-family:'Liberation Sans';font-size:15px;font-weight:normal;font-style:normal;letter-spacing:0px;color:#111;-webkit-text-stroke:0.25px #111;transform:scaleX(1.0054);transform-origin:center 50%;">Pressure and</div><div style="left:86.51px;top:325.00px;line-height:15px;font-family:'Liberation Sans';font-size:15px;font-weight:normal;font-style:normal;letter-spacing:0px;color:#111;-webkit-text-stroke:0.25px #111;transform:scaleX(1.0070);transform-origin:center 50%;">Temperature Range</div><div style="left:289.14px;top:309.00px;line-height:15px;font-family:'Liberation Sans';font-size:15px;font-weight:normal;font-style:normal;letter-spacing:0px;color:#111;-webkit-text-stroke:0.25px #111;">Max.</div><div style="left:275.58px;top:325.00px;line-height:15px;font-family:'Liberation Sans';font-size:15px;font-weight:normal;font-style:normal;letter-spacing:0px;color:#111;-webkit-text-stroke:0.25px #111;transform:scaleX(1.0095);transform-origin:center 50%;">Pressure</div><div style="left:387.74px;top:309.00px;line-height:15px;font-family:'Liberation Sans';font-size:15px;font-weight:normal;font-style:normal;letter-spacing:0px;color:#111;-webkit-text-stroke:0.25px #111;">Max.</div><div style="left:362.19px;top:325.00px;line-height:15px;font-family:'Liberation Sans';font-size:15px;font-weight:normal;font-style:normal;letter-spacing:0px;color:#111;-webkit-text-stroke:0.25px #111;transform:scaleX(1.0117);transform-origin:center 50%;">Temperature</div><div style="left:56.90px;top:355.00px;line-height:15px;font-family:'Liberation Sans';font-size:15px;font-weight:normal;font-style:normal;letter-spacing:0px;color:#111;-webkit-text-stroke:0.25px #111;transform:scaleX(0.9876);transform-origin:left 50%;">5 bar – 90°C/3.5 bar – 148°C</div><div style="left:290.50px;top:355.00px;line-height:15px;font-family:'Liberation Sans';font-size:15px;font-weight:normal;font-style:normal;letter-spacing:0px;color:#111;-webkit-text-stroke:0.25px #111;transform:scaleX(0.9122);transform-origin:center 50%;">5 bar</div><div style="left:383.27px;top:355.00px;line-height:15px;font-family:'Liberation Sans';font-size:15px;font-weight:normal;font-style:normal;letter-spacing:0px;color:#111;-webkit-text-stroke:0.25px #111;transform:scaleX(0.9317);transform-origin:center 50%;">148°C</div><div style="left:42.00px;top:423.00px;line-height:16px;font-family:'Liberation Sans';font-size:16px;font-weight:normal;font-style:normal;letter-spacing:0px;color:#111;-webkit-text-stroke:0.25px #111;transform:scaleX(1.0189);transform-origin:left 50%;">Model</div><div style="left:103.80px;top:415.00px;line-height:16px;font-family:'Liberation Sans';font-size:16px;font-weight:normal;font-style:normal;letter-spacing:0px;color:#111;-webkit-text-stroke:0.25px #111;transform:scaleX(1.0122);transform-origin:left 50%;">Material</div><div style="left:103.80px;top:431.00px;line-height:16px;font-family:'Liberation Sans';font-size:16px;font-weight:normal;font-style:normal;letter-spacing:0px;color:#111;-webkit-text-stroke:0.25px #111;">of Body</div><div style="left:180.10px;top:415.00px;line-height:16px;font-family:'Liberation Sans';font-size:16px;font-weight:normal;font-style:normal;letter-spacing:0px;color:#111;-webkit-text-stroke:0.25px #111;transform:scaleX(1.0365);transform-origin:left 50%;">Type of</div><div style="left:180.10px;top:431.00px;line-height:16px;font-family:'Liberation Sans';font-size:16px;font-weight:normal;font-style:normal;letter-spacing:0px;color:#111;-webkit-text-stroke:0.25px #111;transform:scaleX(1.0264);transform-origin:left 50%;">End Fitting</div><div style="left:291.70px;top:423.00px;line-height:16px;font-family:'Liberation Sans';font-size:16px;font-weight:normal;font-style:normal;letter-spacing:0px;color:#111;-webkit-text-stroke:0.25px #111;transform:scaleX(0.9928);transform-origin:left 50%;">Size</div><div style="left:350.00px;top:423.00px;line-height:16px;font-family:'Liberation Sans';font-size:16px;font-weight:normal;font-style:normal;letter-spacing:0px;color:#111;-webkit-text-stroke:0.25px #111;transform:scaleX(0.8023);transform-origin:left 50%;">Pressure/Temperature</div><div style="left:37.00px;top:467.00px;line-height:16px;font-family:'Liberation Sans';font-size:16px;font-weight:bold;font-style:normal;letter-spacing:0px;color:#111;transform:scaleX(1.0297);transform-origin:left 50%;">Single Window</div><div style="left:51.15px;top:505.00px;line-height:16px;font-family:'Liberation Sans';font-size:16px;font-weight:normal;font-style:normal;letter-spacing:0px;color:#111;-webkit-text-stroke:0.25px #111;transform:scaleX(1.0111);transform-origin:center 50%;">625</div><div style="left:100.90px;top:505.00px;line-height:16px;font-family:'Liberation Sans';font-size:16px;font-weight:normal;font-style:normal;letter-spacing:0px;color:#111;-webkit-text-stroke:0.25px #111;transform:scaleX(1.0228);transform-origin:left 50%;">Cast Iron</div><div style="left:51.15px;top:530.00px;line-height:16px;font-family:'Liberation Sans';font-size:16px;font-weight:normal;font-style:normal;letter-spacing:0px;color:#111;-webkit-text-stroke:0.25px #111;transform:scaleX(1.0111);transform-origin:center 50%;">626</div><div style="left:100.90px;top:530.00px;line-height:16px;font-family:'Liberation Sans';font-size:16px;font-weight:normal;font-style:normal;letter-spacing:0px;color:#111;-webkit-text-stroke:0.25px #111;transform:scaleX(1.0177);transform-origin:left 50%;">Bronze</div><div style="left:51.15px;top:555.00px;line-height:16px;font-family:'Liberation Sans';font-size:16px;font-weight:normal;font-style:normal;letter-spacing:0px;color:#111;-webkit-text-stroke:0.25px #111;transform:scaleX(1.0111);transform-origin:center 50%;">630</div><div style="left:100.90px;top:555.00px;line-height:16px;font-family:'Liberation Sans';font-size:16px;font-weight:normal;font-style:normal;letter-spacing:0px;color:#111;-webkit-text-stroke:0.25px #111;transform:scaleX(1.0228);transform-origin:left 50%;">Cast Iron</div><div style="left:184.20px;top:517.00px;line-height:16px;font-family:'Liberation Sans';font-size:16px;font-weight:normal;font-style:normal;letter-spacing:0px;color:#111;-webkit-text-stroke:0.25px #111;transform:scaleX(1.0073);transform-origin:left 50%;">Threaded</div><div style="left:180.40px;top:555.00px;line-height:16px;font-family:'Liberation Sans';font-size:16px;font-weight:normal;font-style:normal;letter-spacing:0px;color:#111;-webkit-text-stroke:0.25px #111;transform:scaleX(1.0185);transform-origin:left 50%;">Flanged</div><div style="left:271.90px;top:505.00px;line-height:16px;font-family:'Liberation Sans';font-size:16px;font-weight:normal;font-style:normal;letter-spacing:0px;color:#111;-webkit-text-stroke:0.25px #111;transform:scaleX(1.0102);transform-origin:left 50%;">1/2&quot; - 2&quot;</div><div style="left:271.90px;top:530.00px;line-height:16px;font-family:'Liberation Sans';font-size:16px;font-weight:normal;font-style:normal;letter-spacing:0px;color:#111;-webkit-text-stroke:0.25px #111;transform:scaleX(1.0102);transform-origin:left 50%;">1/2&quot; - 1&quot;</div><div style="left:271.90px;top:555.00px;line-height:16px;font-family:'Liberation Sans';font-size:16px;font-weight:normal;font-style:normal;letter-spacing:0px;color:#111;-webkit-text-stroke:0.25px #111;transform:scaleX(0.9126);transform-origin:left 50%;">15-100mm</div><div style="left:350.80px;top:505.00px;line-height:16px;font-family:'Liberation Sans';font-size:16px;font-weight:normal;font-style:normal;letter-spacing:0px;color:#111;-webkit-text-stroke:0.25px #111;transform:scaleX(0.5814);transform-origin:left 50%;">10 bar - 120°C, 8 bar - 200°C</div><div style="left:350.10px;top:530.00px;line-height:16px;font-family:'Liberation Sans';font-size:16px;font-weight:normal;font-style:normal;letter-spacing:0px;color:#111;-webkit-text-stroke:0.25px #111;transform:scaleX(0.5848);transform-origin:left 50%;">6 bar -  20°C, 3.5 bar - 150°C</div><div style="left:350.80px;top:555.00px;line-height:16px;font-family:'Liberation Sans';font-size:16px;font-weight:normal;font-style:normal;letter-spacing:0px;color:#111;-webkit-text-stroke:0.25px #111;transform:scaleX(0.5814);transform-origin:left 50%;">10 bar - 120°C, 8 bar - 200°C</div><div style="left:37.70px;top:592.00px;line-height:16px;font-family:'Liberation Sans';font-size:16px;font-weight:bold;font-style:normal;letter-spacing:0px;color:#111;transform:scaleX(1.0391);transform-origin:left 50%;">Double Window (See-through Type)</div><div style="left:51.15px;top:642.00px;line-height:16px;font-family:'Liberation Sans';font-size:16px;font-weight:normal;font-style:normal;letter-spacing:0px;color:#111;-webkit-text-stroke:0.25px #111;transform:scaleX(1.0111);transform-origin:center 50%;">628</div><div style="left:101.10px;top:629.00px;line-height:16px;font-family:'Liberation Sans';font-size:16px;font-weight:normal;font-style:normal;letter-spacing:0px;color:#111;-webkit-text-stroke:0.25px #111;">Brass</div><div style="left:101.10px;top:654.00px;line-height:16px;font-family:'Liberation Sans';font-size:16px;font-weight:normal;font-style:normal;letter-spacing:0px;color:#111;-webkit-text-stroke:0.25px #111;transform:scaleX(1.0177);transform-origin:left 50%;">Bronze</div><div style="left:184.20px;top:642.00px;line-height:16px;font-family:'Liberation Sans';font-size:16px;font-weight:normal;font-style:normal;letter-spacing:0px;color:#111;-webkit-text-stroke:0.25px #111;transform:scaleX(1.0336);transform-origin:left 50%;">Threaded</div><div style="left:271.90px;top:629.00px;line-height:16px;font-family:'Liberation Sans';font-size:16px;font-weight:normal;font-style:normal;letter-spacing:0px;color:#111;-webkit-text-stroke:0.25px #111;transform:scaleX(1.0102);transform-origin:left 50%;">1/2&quot; - 1&quot;</div><div style="left:271.90px;top:654.00px;line-height:16px;font-family:'Liberation Sans';font-size:16px;font-weight:normal;font-style:normal;letter-spacing:0px;color:#111;-webkit-text-stroke:0.25px #111;transform:scaleX(1.0218);transform-origin:left 50%;">1-1/4&quot; - 2&quot;</div><div style="left:356.40px;top:642.00px;line-height:16px;font-family:'Liberation Sans';font-size:16px;font-weight:normal;font-style:normal;letter-spacing:0px;color:#111;-webkit-text-stroke:0.25px #111;transform:scaleX(0.5852);transform-origin:left 50%;">6 bar - 20°C, 3.5 bar - 150°C</div><div style="left:51.15px;top:680.00px;line-height:16px;font-family:'Liberation Sans';font-size:16px;font-weight:normal;font-style:normal;letter-spacing:0px;color:#111;-webkit-text-stroke:0.25px #111;transform:scaleX(1.0111);transform-origin:center 50%;">635</div><div style="left:51.15px;top:705.00px;line-height:16px;font-family:'Liberation Sans';font-size:16px;font-weight:normal;font-style:normal;letter-spacing:0px;color:#111;-webkit-text-stroke:0.25px #111;transform:scaleX(1.0111);transform-origin:center 50%;">636</div><div style="left:101.10px;top:680.00px;line-height:16px;font-family:'Liberation Sans';font-size:16px;font-weight:normal;font-style:normal;letter-spacing:0px;color:#111;-webkit-text-stroke:0.25px #111;transform:scaleX(1.0228);transform-origin:left 50%;">Cast Iron</div><div style="left:101.10px;top:705.00px;line-height:16px;font-family:'Liberation Sans';font-size:16px;font-weight:normal;font-style:normal;letter-spacing:0px;color:#111;-webkit-text-stroke:0.25px #111;transform:scaleX(1.0177);transform-origin:left 50%;">Bronze</div><div style="left:189.90px;top:691.00px;line-height:16px;font-family:'Liberation Sans';font-size:16px;font-weight:normal;font-style:normal;letter-spacing:0px;color:#111;-webkit-text-stroke:0.25px #111;transform:scaleX(1.0185);transform-origin:left 50%;">Flanged</div><div style="left:271.90px;top:689.00px;line-height:16px;font-family:'Liberation Sans';font-size:16px;font-weight:normal;font-style:normal;letter-spacing:0px;color:#111;-webkit-text-stroke:0.25px #111;transform:scaleX(0.9191);transform-origin:left 50%;">15-150mm</div><div style="left:351.20px;top:680.00px;line-height:16px;font-family:'Liberation Sans';font-size:16px;font-weight:normal;font-style:normal;letter-spacing:0px;color:#111;-webkit-text-stroke:0.25px #111;transform:scaleX(0.5810);transform-origin:left 50%;">10 bar - 120°C,  8 bar - 200°C</div><div style="left:351.20px;top:705.00px;line-height:16px;font-family:'Liberation Sans';font-size:16px;font-weight:normal;font-style:normal;letter-spacing:0px;color:#111;-webkit-text-stroke:0.25px #111;transform:scaleX(0.5815);transform-origin:left 50%;">16 bar - 120°C, 13 bar - 200°C</div><div style="left:51.80px;top:765.00px;line-height:15px;font-family:'Liberation Sans';font-size:15px;font-weight:bold;font-style:normal;letter-spacing:0px;color:#111;transform:scaleX(1.0297);transform-origin:left 50%;">Material Specification</div><div style="left:90.20px;top:790.00px;line-height:15px;font-family:'Liberation Sans';font-size:15px;font-weight:normal;font-style:normal;letter-spacing:0px;color:#111;-webkit-text-stroke:0.25px #111;transform:scaleX(1.0121);transform-origin:left 50%;">Component</div><div style="left:221.40px;top:790.00px;line-height:15px;font-family:'Liberation Sans';font-size:15px;font-weight:normal;font-style:normal;letter-spacing:0px;color:#111;-webkit-text-stroke:0.25px #111;transform:scaleX(1.0101);transform-origin:left 50%;">Material</div><div style="left:319.00px;top:790.00px;line-height:15px;font-family:'Liberation Sans';font-size:15px;font-weight:normal;font-style:normal;letter-spacing:0px;color:#111;-webkit-text-stroke:0.25px #111;">EN and/or (DIN)</div><div style="left:200.70px;top:814.00px;line-height:15px;font-family:'Liberation Sans';font-size:15px;font-weight:bold;font-style:normal;letter-spacing:0px;color:#111;transform:scaleX(1.0267);transform-origin:center 50%;">Single-window</div><div style="left:51.80px;top:844.00px;line-height:15px;font-family:'Liberation Sans';font-size:15px;font-weight:normal;font-style:normal;letter-spacing:0px;color:#111;-webkit-text-stroke:0.25px #111;">Body</div><div style="left:51.80px;top:862.00px;line-height:15px;font-family:'Liberation Sans';font-size:15px;font-weight:normal;font-style:normal;letter-spacing:0px;color:#111;-webkit-text-stroke:0.25px #111;">Glass</div><div style="left:51.80px;top:880.00px;line-height:15px;font-family:'Liberation Sans';font-size:15px;font-weight:normal;font-style:normal;letter-spacing:0px;color:#111;-webkit-text-stroke:0.25px #111;">Gaskets</div><div style="left:213.80px;top:844.00px;line-height:15px;font-family:'Liberation Sans';font-size:15px;font-weight:normal;font-style:normal;letter-spacing:0px;color:#111;-webkit-text-stroke:0.25px #111;">Brass</div><div style="left:210.60px;top:862.00px;line-height:15px;font-family:'Liberation Sans';font-size:15px;font-weight:normal;font-style:normal;letter-spacing:0px;color:#111;-webkit-text-stroke:0.25px #111;">Soda lime</div><div style="left:211.00px;top:880.00px;line-height:15px;font-family:'Liberation Sans';font-size:15px;font-weight:normal;font-style:normal;letter-spacing:0px;color:#111;-webkit-text-stroke:0.25px #111;">Graphite</div><div style="left:197.99px;top:908.00px;line-height:15px;font-family:'Liberation Sans';font-size:15px;font-weight:bold;font-style:normal;letter-spacing:0px;color:#111;transform:scaleX(1.0223);transform-origin:center 50%;">Double-window</div><div style="left:52.00px;top:936.00px;line-height:15px;font-family:'Liberation Sans';font-size:15px;font-weight:normal;font-style:normal;letter-spacing:0px;color:#111;-webkit-text-stroke:0.25px #111;transform:scaleX(1.0112);transform-origin:left 50%;">Body and cover</div><div style="left:56.40px;top:953.00px;line-height:15px;font-family:'Liberation Sans';font-size:15px;font-weight:normal;font-style:normal;letter-spacing:0px;color:#111;-webkit-text-stroke:0.25px #111;transform:scaleX(0.9842);transform-origin:left 50%;">(1/2&quot; thru 1&quot;)</div><div style="left:52.00px;top:970.00px;line-height:15px;font-family:'Liberation Sans';font-size:15px;font-weight:normal;font-style:normal;letter-spacing:0px;color:#111;-webkit-text-stroke:0.25px #111;transform:scaleX(1.0080);transform-origin:left 50%;">Body (DN 1/&quot; thru 2&quot;)</div><div style="left:52.00px;top:1004.00px;line-height:15px;font-family:'Liberation Sans';font-size:15px;font-weight:normal;font-style:normal;letter-spacing:0px;color:#111;-webkit-text-stroke:0.25px #111;">Glass</div><div style="left:52.00px;top:1021.00px;line-height:15px;font-family:'Liberation Sans';font-size:15px;font-weight:normal;font-style:normal;letter-spacing:0px;color:#111;-webkit-text-stroke:0.25px #111;">Gaskets</div><div style="left:209.80px;top:935.00px;line-height:15px;font-family:'Liberation Sans';font-size:15px;font-weight:normal;font-style:normal;letter-spacing:0px;color:#111;-webkit-text-stroke:0.25px #111;">Brass</div><div style="left:209.80px;top:970.00px;line-height:15px;font-family:'Liberation Sans';font-size:15px;font-weight:normal;font-style:normal;letter-spacing:0px;color:#111;-webkit-text-stroke:0.25px #111;">Bronze</div><div style="left:209.80px;top:1004.00px;line-height:15px;font-family:'Liberation Sans';font-size:15px;font-weight:normal;font-style:normal;letter-spacing:0px;color:#111;-webkit-text-stroke:0.25px #111;">Soda lime</div><div style="left:209.80px;top:1021.00px;line-height:15px;font-family:'Liberation Sans';font-size:15px;font-weight:normal;font-style:normal;letter-spacing:0px;color:#111;-webkit-text-stroke:0.25px #111;">Graphite</div><div style="left:292.80px;top:968.00px;line-height:15px;font-family:'Liberation Sans';font-size:15px;font-weight:normal;font-style:normal;letter-spacing:0px;color:#111;-webkit-text-stroke:0.25px #111;transform:scaleX(1.0251);transform-origin:left 50%;">CuSn5Zn5Pb5-C</div><div style="left:292.80px;top:985.00px;line-height:15px;font-family:'Liberation Sans';font-size:15px;font-weight:normal;font-style:normal;letter-spacing:0px;color:#111;-webkit-text-stroke:0.25px #111;transform:scaleX(1.0083);transform-origin:left 50%;">(G-CuSn5ZnPb (Rg 5))</div><div style="left:75.90px;top:210.00px;line-height:15px;font-family:'Liberation Sans';font-size:15px;font-weight:normal;font-style:normal;letter-spacing:0px;color:#111;-webkit-text-stroke:0.25px #111;transform:scaleX(0.8745);transform-origin:left 50%;">DIN</div><div style="left:214.90px;top:210.00px;line-height:15px;font-family:'Liberation Sans';font-size:15px;font-weight:normal;font-style:normal;letter-spacing:0px;color:#111;-webkit-text-stroke:0.25px #111;transform:scaleX(0.8319);transform-origin:left 50%;">DIN</div><div style="left:555.50px;top:561.00px;line-height:16px;font-family:'Liberation Sans';font-size:16px;font-weight:bold;font-style:normal;letter-spacing:0px;color:#111;transform:scaleX(1.0315);transform-origin:left 50%;">Cast Iron Body, Threaded Ends, Model 625</div><div style="left:560.30px;top:613.00px;line-height:16px;font-family:'Liberation Sans';font-size:16px;font-weight:normal;font-style:normal;letter-spacing:0px;color:#111;-webkit-text-stroke:0.25px #111;transform:scaleX(1.0230);transform-origin:left 50%;">CODE</div><div style="left:633.85px;top:613.00px;line-height:16px;font-family:'Liberation Sans';font-size:16px;font-weight:normal;font-style:normal;letter-spacing:0px;color:#111;-webkit-text-stroke:0.25px #111;">d</div><div style="left:661.50px;top:613.00px;line-height:16px;font-family:'Liberation Sans';font-size:16px;font-weight:normal;font-style:normal;letter-spacing:0px;color:#111;-webkit-text-stroke:0.25px #111;transform:scaleX(1.0123);transform-origin:left 50%;">Lmm</div><div style="left:712.70px;top:605.00px;line-height:16px;font-family:'Liberation Sans';font-size:16px;font-weight:normal;font-style:normal;letter-spacing:0px;color:#111;-webkit-text-stroke:0.25px #111;transform:scaleX(1.0502);transform-origin:left 50%;">Weight</div><div style="left:726.35px;top:621.00px;line-height:16px;font-family:'Liberation Sans';font-size:16px;font-weight:normal;font-style:normal;letter-spacing:0px;color:#111;-webkit-text-stroke:0.25px #111;">kgs</div><div style="left:783.60px;top:613.00px;line-height:16px;font-family:'Liberation Sans';font-size:16px;font-weight:normal;font-style:normal;letter-spacing:0px;color:#111;-webkit-text-stroke:0.25px #111;transform:scaleX(1.0252);transform-origin:left 50%;">CODE</div><div style="left:856.85px;top:613.00px;line-height:16px;font-family:'Liberation Sans';font-size:16px;font-weight:normal;font-style:normal;letter-spacing:0px;color:#111;-webkit-text-stroke:0.25px #111;">d</div><div style="left:884.90px;top:613.00px;line-height:16px;font-family:'Liberation Sans';font-size:16px;font-weight:normal;font-style:normal;letter-spacing:0px;color:#111;-webkit-text-stroke:0.25px #111;">Lmm</div><div style="left:937.00px;top:605.00px;line-height:16px;font-family:'Liberation Sans';font-size:16px;font-weight:normal;font-style:normal;letter-spacing:0px;color:#111;-webkit-text-stroke:0.25px #111;transform:scaleX(1.0300);transform-origin:left 50%;">Weight</div><div style="left:949.55px;top:621.00px;line-height:16px;font-family:'Liberation Sans';font-size:16px;font-weight:normal;font-style:normal;letter-spacing:0px;color:#111;-webkit-text-stroke:0.25px #111;">kgs</div><div style="left:548.72px;top:651.00px;line-height:16px;font-family:'Liberation Sans';font-size:16px;font-weight:bold;font-style:normal;letter-spacing:0px;color:#111;transform:scaleX(0.8140);transform-origin:right 50%;">75 68 51</div><div style="left:593.20px;top:668.00px;line-height:16px;font-family:'Liberation Sans';font-size:16px;font-weight:bold;font-style:normal;letter-spacing:0px;color:#111;transform:scaleX(0.8140);transform-origin:right 50%;">52</div><div style="left:593.20px;top:684.00px;line-height:16px;font-family:'Liberation Sans';font-size:16px;font-weight:bold;font-style:normal;letter-spacing:0px;color:#111;transform:scaleX(0.8140);transform-origin:right 50%;">53</div><div style="left:624.34px;top:651.00px;line-height:16px;font-family:'Liberation Sans';font-size:16px;font-weight:normal;font-style:normal;letter-spacing:0px;color:#111;-webkit-text-stroke:0.25px #111;">1/2&quot;</div><div style="left:624.34px;top:668.00px;line-height:16px;font-family:'Liberation Sans';font-size:16px;font-weight:normal;font-style:normal;letter-spacing:0px;color:#111;-webkit-text-stroke:0.25px #111;">3/4&quot;</div><div style="left:631.01px;top:684.00px;line-height:16px;font-family:'Liberation Sans';font-size:16px;font-weight:normal;font-style:normal;letter-spacing:0px;color:#111;-webkit-text-stroke:0.25px #111;">1&quot;</div><div style="left:666.85px;top:651.00px;line-height:16px;font-family:'Liberation Sans';font-size:16px;font-weight:normal;font-style:normal;letter-spacing:0px;color:#111;-webkit-text-stroke:0.25px #111;">130</div><div style="left:666.85px;top:668.00px;line-height:16px;font-family:'Liberation Sans';font-size:16px;font-weight:normal;font-style:normal;letter-spacing:0px;color:#111;-webkit-text-stroke:0.25px #111;">130</div><div style="left:666.85px;top:684.00px;line-height:16px;font-family:'Liberation Sans';font-size:16px;font-weight:normal;font-style:normal;letter-spacing:0px;color:#111;-webkit-text-stroke:0.25px #111;">135</div><div style="left:726.38px;top:651.00px;line-height:16px;font-family:'Liberation Sans';font-size:16px;font-weight:normal;font-style:normal;letter-spacing:0px;color:#111;-webkit-text-stroke:0.25px #111;">1.7</div><div style="left:726.38px;top:668.00px;line-height:16px;font-family:'Liberation Sans';font-size:16px;font-weight:normal;font-style:normal;letter-spacing:0px;color:#111;-webkit-text-stroke:0.25px #111;">1.7</div><div style="left:726.38px;top:684.00px;line-height:16px;font-family:'Liberation Sans';font-size:16px;font-weight:normal;font-style:normal;letter-spacing:0px;color:#111;-webkit-text-stroke:0.25px #111;">2.2</div><div style="left:769.22px;top:651.00px;line-height:16px;font-family:'Liberation Sans';font-size:16px;font-weight:bold;font-style:normal;letter-spacing:0px;color:#111;transform:scaleX(0.8140);transform-origin:right 50%;">75 68 54</div><div style="left:813.70px;top:668.00px;line-height:16px;font-family:'Liberation Sans';font-size:16px;font-weight:bold;font-style:normal;letter-spacing:0px;color:#111;transform:scaleX(0.8140);transform-origin:right 50%;">55</div><div style="left:813.70px;top:684.00px;line-height:16px;font-family:'Liberation Sans';font-size:16px;font-weight:bold;font-style:normal;letter-spacing:0px;color:#111;transform:scaleX(0.8140);transform-origin:right 50%;">56</div><div style="left:840.52px;top:651.00px;line-height:16px;font-family:'Liberation Sans';font-size:16px;font-weight:normal;font-style:normal;letter-spacing:0px;color:#111;-webkit-text-stroke:0.25px #111;transform:scaleX(0.7400);transform-origin:center 50%;">1-1/4&quot;</div><div style="left:840.52px;top:668.00px;line-height:16px;font-family:'Liberation Sans';font-size:16px;font-weight:normal;font-style:normal;letter-spacing:0px;color:#111;-webkit-text-stroke:0.25px #111;transform:scaleX(0.7400);transform-origin:center 50%;">1-1/2&quot;</div><div style="left:854.31px;top:684.00px;line-height:16px;font-family:'Liberation Sans';font-size:16px;font-weight:normal;font-style:normal;letter-spacing:0px;color:#111;-webkit-text-stroke:0.25px #111;">2&quot;</div><div style="left:889.95px;top:651.00px;line-height:16px;font-family:'Liberation Sans';font-size:16px;font-weight:normal;font-style:normal;letter-spacing:0px;color:#111;-webkit-text-stroke:0.25px #111;">175</div><div style="left:889.95px;top:668.00px;line-height:16px;font-family:'Liberation Sans';font-size:16px;font-weight:normal;font-style:normal;letter-spacing:0px;color:#111;-webkit-text-stroke:0.25px #111;">185</div><div style="left:889.95px;top:684.00px;line-height:16px;font-family:'Liberation Sans';font-size:16px;font-weight:normal;font-style:normal;letter-spacing:0px;color:#111;-webkit-text-stroke:0.25px #111;">210</div><div style="left:949.88px;top:651.00px;line-height:16px;font-family:'Liberation Sans';font-size:16px;font-weight:normal;font-style:normal;letter-spacing:0px;color:#111;-webkit-text-stroke:0.25px #111;">3.2</div><div style="left:949.88px;top:668.00px;line-height:16px;font-family:'Liberation Sans';font-size:16px;font-weight:normal;font-style:normal;letter-spacing:0px;color:#111;-webkit-text-stroke:0.25px #111;">4.2</div><div style="left:949.88px;top:684.00px;line-height:16px;font-family:'Liberation Sans';font-size:16px;font-weight:normal;font-style:normal;letter-spacing:0px;color:#111;-webkit-text-stroke:0.25px #111;">6.2</div><div style="left:548.40px;top:720.00px;line-height:16px;font-family:'Liberation Sans';font-size:16px;font-weight:bold;font-style:normal;letter-spacing:0px;color:#111;transform:scaleX(1.0354);transform-origin:left 50%;">Bronze Body, Threaded Ends, Model 626</div><div style="left:557.40px;top:767.00px;line-height:16px;font-family:'Liberation Sans';font-size:16px;font-weight:normal;font-style:normal;letter-spacing:0px;color:#111;-webkit-text-stroke:0.25px #111;transform:scaleX(1.0230);transform-origin:left 50%;">CODE</div><div style="left:630.55px;top:767.00px;line-height:16px;font-family:'Liberation Sans';font-size:16px;font-weight:normal;font-style:normal;letter-spacing:0px;color:#111;-webkit-text-stroke:0.25px #111;">d</div><div style="left:658.70px;top:767.00px;line-height:16px;font-family:'Liberation Sans';font-size:16px;font-weight:normal;font-style:normal;letter-spacing:0px;color:#111;-webkit-text-stroke:0.25px #111;">Lmm</div><div style="left:710.80px;top:759.00px;line-height:16px;font-family:'Liberation Sans';font-size:16px;font-weight:normal;font-style:normal;letter-spacing:0px;color:#111;-webkit-text-stroke:0.25px #111;transform:scaleX(1.0199);transform-origin:left 50%;">Weight</div><div style="left:723.55px;top:775.00px;line-height:16px;font-family:'Liberation Sans';font-size:16px;font-weight:normal;font-style:normal;letter-spacing:0px;color:#111;-webkit-text-stroke:0.25px #111;">kgs</div><div style="left:780.80px;top:767.00px;line-height:16px;font-family:'Liberation Sans';font-size:16px;font-weight:normal;font-style:normal;letter-spacing:0px;color:#111;-webkit-text-stroke:0.25px #111;transform:scaleX(1.0252);transform-origin:left 50%;">CODE</div><div style="left:853.95px;top:767.00px;line-height:16px;font-family:'Liberation Sans';font-size:16px;font-weight:normal;font-style:normal;letter-spacing:0px;color:#111;-webkit-text-stroke:0.25px #111;">d</div><div style="left:882.00px;top:767.00px;line-height:16px;font-family:'Liberation Sans';font-size:16px;font-weight:normal;font-style:normal;letter-spacing:0px;color:#111;-webkit-text-stroke:0.25px #111;transform:scaleX(1.0123);transform-origin:left 50%;">Lmm</div><div style="left:934.10px;top:759.00px;line-height:16px;font-family:'Liberation Sans';font-size:16px;font-weight:normal;font-style:normal;letter-spacing:0px;color:#111;-webkit-text-stroke:0.25px #111;transform:scaleX(1.0138);transform-origin:left 50%;">Weight</div><div style="left:946.85px;top:775.00px;line-height:16px;font-family:'Liberation Sans';font-size:16px;font-weight:normal;font-style:normal;letter-spacing:0px;color:#111;-webkit-text-stroke:0.25px #111;">kgs</div><div style="left:545.92px;top:804.00px;line-height:16px;font-family:'Liberation Sans';font-size:16px;font-weight:bold;font-style:normal;letter-spacing:0px;color:#111;transform:scaleX(0.8140);transform-origin:right 50%;">75 68 61</div><div style="left:590.40px;top:821.00px;line-height:16px;font-family:'Liberation Sans';font-size:16px;font-weight:bold;font-style:normal;letter-spacing:0px;color:#111;transform:scaleX(0.8140);transform-origin:right 50%;">62</div><div style="left:623.04px;top:804.00px;line-height:16px;font-family:'Liberation Sans';font-size:16px;font-weight:normal;font-style:normal;letter-spacing:0px;color:#111;-webkit-text-stroke:0.25px #111;">1/2&quot;</div><div style="left:623.04px;top:821.00px;line-height:16px;font-family:'Liberation Sans';font-size:16px;font-weight:normal;font-style:normal;letter-spacing:0px;color:#111;-webkit-text-stroke:0.25px #111;">3/4&quot;</div><div style="left:665.90px;top:813.00px;line-height:16px;font-family:'Liberation Sans';font-size:16px;font-weight:normal;font-style:normal;letter-spacing:0px;color:#111;-webkit-text-stroke:0.25px #111;">90</div><div style="left:720.08px;top:804.00px;line-height:16px;font-family:'Liberation Sans';font-size:16px;font-weight:normal;font-style:normal;letter-spacing:0px;color:#111;-webkit-text-stroke:0.25px #111;">0.6</div><div style="left:720.08px;top:821.00px;line-height:16px;font-family:'Liberation Sans';font-size:16px;font-weight:normal;font-style:normal;letter-spacing:0px;color:#111;-webkit-text-stroke:0.25px #111;">0.7</div><div style="left:766.72px;top:804.00px;line-height:16px;font-family:'Liberation Sans';font-size:16px;font-weight:bold;font-style:normal;letter-spacing:0px;color:#111;transform:scaleX(0.8140);transform-origin:right 50%;">75 68 63</div><div style="left:853.01px;top:804.00px;line-height:16px;font-family:'Liberation Sans';font-size:16px;font-weight:normal;font-style:normal;letter-spacing:0px;color:#111;-webkit-text-stroke:0.25px #111;">1&quot;</div><div style="left:891.10px;top:804.00px;line-height:16px;font-family:'Liberation Sans';font-size:16px;font-weight:normal;font-style:normal;letter-spacing:0px;color:#111;-webkit-text-stroke:0.25px #111;">90</div><div style="left:945.67px;top:804.00px;line-height:16px;font-family:'Liberation Sans';font-size:16px;font-weight:normal;font-style:normal;letter-spacing:0px;color:#111;-webkit-text-stroke:0.25px #111;">0.9</div><div style="left:544.20px;top:859.00px;line-height:16px;font-family:'Liberation Sans';font-size:16px;font-weight:bold;font-style:normal;letter-spacing:0px;color:#111;transform:scaleX(1.0367);transform-origin:left 50%;">Cast Iron Body, Flanged Ends, Model 630</div><div style="left:549.90px;top:902.00px;line-height:16px;font-family:'Liberation Sans';font-size:16px;font-weight:normal;font-style:normal;letter-spacing:0px;color:#111;-webkit-text-stroke:0.25px #111;transform:scaleX(1.0230);transform-origin:left 50%;">CODE</div><div style="left:615.20px;top:902.00px;line-height:16px;font-family:'Liberation Sans';font-size:16px;font-weight:normal;font-style:normal;letter-spacing:0px;color:#111;-webkit-text-stroke:0.25px #111;transform:scaleX(0.9520);transform-origin:left 50%;">DN</div><div style="left:654.40px;top:889.00px;line-height:16px;font-family:'Liberation Sans';font-size:16px;font-weight:normal;font-style:normal;letter-spacing:0px;color:#111;-webkit-text-stroke:0.25px #111;transform:scaleX(1.0176);transform-origin:left 50%;">Sizemm</div><div style="left:659.96px;top:911.00px;line-height:16px;font-family:'Liberation Sans';font-size:16px;font-weight:normal;font-style:normal;letter-spacing:0px;color:#111;-webkit-text-stroke:0.25px #111;">A</div><div style="left:698.75px;top:911.00px;line-height:16px;font-family:'Liberation Sans';font-size:16px;font-weight:normal;font-style:normal;letter-spacing:0px;color:#111;-webkit-text-stroke:0.25px #111;">L</div><div style="left:726.90px;top:893.00px;line-height:15px;font-family:'Liberation Sans';font-size:15px;font-weight:normal;font-style:normal;letter-spacing:0px;color:#111;-webkit-text-stroke:0.25px #111;transform:scaleX(0.6484);transform-origin:left 50%;">Weight</div><div style="left:730.33px;top:910.00px;line-height:15px;font-family:'Liberation Sans';font-size:15px;font-weight:normal;font-style:normal;letter-spacing:0px;color:#111;-webkit-text-stroke:0.25px #111;transform:scaleX(0.7200);transform-origin:center 50%;">kgs</div><div style="left:773.20px;top:902.00px;line-height:16px;font-family:'Liberation Sans';font-size:16px;font-weight:normal;font-style:normal;letter-spacing:0px;color:#111;-webkit-text-stroke:0.25px #111;transform:scaleX(1.0230);transform-origin:left 50%;">CODE</div><div style="left:838.50px;top:902.00px;line-height:16px;font-family:'Liberation Sans';font-size:16px;font-weight:normal;font-style:normal;letter-spacing:0px;color:#111;-webkit-text-stroke:0.25px #111;transform:scaleX(0.9520);transform-origin:left 50%;">DN</div><div style="left:877.90px;top:889.00px;line-height:16px;font-family:'Liberation Sans';font-size:16px;font-weight:normal;font-style:normal;letter-spacing:0px;color:#111;-webkit-text-stroke:0.25px #111;transform:scaleX(1.0055);transform-origin:left 50%;">Sizemm</div><div style="left:883.36px;top:911.00px;line-height:16px;font-family:'Liberation Sans';font-size:16px;font-weight:normal;font-style:normal;letter-spacing:0px;color:#111;-webkit-text-stroke:0.25px #111;">A</div><div style="left:923.05px;top:911.00px;line-height:16px;font-family:'Liberation Sans';font-size:16px;font-weight:normal;font-style:normal;letter-spacing:0px;color:#111;-webkit-text-stroke:0.25px #111;">L</div><div style="left:950.20px;top:893.00px;line-height:15px;font-family:'Liberation Sans';font-size:15px;font-weight:normal;font-style:normal;letter-spacing:0px;color:#111;-webkit-text-stroke:0.25px #111;transform:scaleX(0.6527);transform-origin:left 50%;">Weight</div><div style="left:953.73px;top:910.00px;line-height:15px;font-family:'Liberation Sans';font-size:15px;font-weight:normal;font-style:normal;letter-spacing:0px;color:#111;-webkit-text-stroke:0.25px #111;transform:scaleX(0.7200);transform-origin:center 50%;">kgs</div><div style="left:535.22px;top:940.00px;line-height:16px;font-family:'Liberation Sans';font-size:16px;font-weight:bold;font-style:normal;letter-spacing:0px;color:#111;transform:scaleX(0.8140);transform-origin:right 50%;">75 68 65</div><div style="left:579.70px;top:956.00px;line-height:16px;font-family:'Liberation Sans';font-size:16px;font-weight:bold;font-style:normal;letter-spacing:0px;color:#111;transform:scaleX(0.8140);transform-origin:right 50%;">66</div><div style="left:579.70px;top:973.00px;line-height:16px;font-family:'Liberation Sans';font-size:16px;font-weight:bold;font-style:normal;letter-spacing:0px;color:#111;transform:scaleX(0.8140);transform-origin:right 50%;">67</div><div style="left:579.70px;top:989.00px;line-height:16px;font-family:'Liberation Sans';font-size:16px;font-weight:bold;font-style:normal;letter-spacing:0px;color:#111;transform:scaleX(0.8140);transform-origin:right 50%;">68</div><div style="left:579.70px;top:1006.00px;line-height:16px;font-family:'Liberation Sans';font-size:16px;font-weight:bold;font-style:normal;letter-spacing:0px;color:#111;transform:scaleX(0.8140);transform-origin:right 50%;">69</div><div style="left:618.70px;top:940.00px;line-height:16px;font-family:'Liberation Sans';font-size:16px;font-weight:normal;font-style:normal;letter-spacing:0px;color:#111;-webkit-text-stroke:0.25px #111;">15</div><div style="left:618.70px;top:956.00px;line-height:16px;font-family:'Liberation Sans';font-size:16px;font-weight:normal;font-style:normal;letter-spacing:0px;color:#111;-webkit-text-stroke:0.25px #111;">20</div><div style="left:618.70px;top:973.00px;line-height:16px;font-family:'Liberation Sans';font-size:16px;font-weight:normal;font-style:normal;letter-spacing:0px;color:#111;-webkit-text-stroke:0.25px #111;">25</div><div style="left:618.70px;top:989.00px;line-height:16px;font-family:'Liberation Sans';font-size:16px;font-weight:normal;font-style:normal;letter-spacing:0px;color:#111;-webkit-text-stroke:0.25px #111;">32</div><div style="left:618.70px;top:1006.00px;line-height:16px;font-family:'Liberation Sans';font-size:16px;font-weight:normal;font-style:normal;letter-spacing:0px;color:#111;-webkit-text-stroke:0.25px #111;">40</div><div style="left:659.20px;top:940.00px;line-height:16px;font-family:'Liberation Sans';font-size:16px;font-weight:normal;font-style:normal;letter-spacing:0px;color:#111;-webkit-text-stroke:0.25px #111;">95</div><div style="left:650.30px;top:956.00px;line-height:16px;font-family:'Liberation Sans';font-size:16px;font-weight:normal;font-style:normal;letter-spacing:0px;color:#111;-webkit-text-stroke:0.25px #111;">105</div><div style="left:651.48px;top:973.00px;line-height:16px;font-family:'Liberation Sans';font-size:16px;font-weight:normal;font-style:normal;letter-spacing:0px;color:#111;-webkit-text-stroke:0.25px #111;">115</div><div style="left:650.30px;top:989.00px;line-height:16px;font-family:'Liberation Sans';font-size:16px;font-weight:normal;font-style:normal;letter-spacing:0px;color:#111;-webkit-text-stroke:0.25px #111;">140</div><div style="left:650.30px;top:1006.00px;line-height:16px;font-family:'Liberation Sans';font-size:16px;font-weight:normal;font-style:normal;letter-spacing:0px;color:#111;-webkit-text-stroke:0.25px #111;">150</div><div style="left:688.80px;top:940.00px;line-height:16px;font-family:'Liberation Sans';font-size:16px;font-weight:normal;font-style:normal;letter-spacing:0px;color:#111;-webkit-text-stroke:0.25px #111;">130</div><div style="left:688.80px;top:956.00px;line-height:16px;font-family:'Liberation Sans';font-size:16px;font-weight:normal;font-style:normal;letter-spacing:0px;color:#111;-webkit-text-stroke:0.25px #111;">150</div><div style="left:688.80px;top:973.00px;line-height:16px;font-family:'Liberation Sans';font-size:16px;font-weight:normal;font-style:normal;letter-spacing:0px;color:#111;-webkit-text-stroke:0.25px #111;">160</div><div style="left:688.80px;top:989.00px;line-height:16px;font-family:'Liberation Sans';font-size:16px;font-weight:normal;font-style:normal;letter-spacing:0px;color:#111;-webkit-text-stroke:0.25px #111;">180</div><div style="left:688.80px;top:1006.00px;line-height:16px;font-family:'Liberation Sans';font-size:16px;font-weight:normal;font-style:normal;letter-spacing:0px;color:#111;-webkit-text-stroke:0.25px #111;">200</div><div style="left:731.75px;top:940.00px;line-height:16px;font-family:'Liberation Sans';font-size:16px;font-weight:normal;font-style:normal;letter-spacing:0px;color:#111;-webkit-text-stroke:0.25px #111;">2.4</div><div style="left:731.75px;top:956.00px;line-height:16px;font-family:'Liberation Sans';font-size:16px;font-weight:normal;font-style:normal;letter-spacing:0px;color:#111;-webkit-text-stroke:0.25px #111;">3.0</div><div style="left:731.75px;top:973.00px;line-height:16px;font-family:'Liberation Sans';font-size:16px;font-weight:normal;font-style:normal;letter-spacing:0px;color:#111;-webkit-text-stroke:0.25px #111;">4.4</div><div style="left:731.75px;top:989.00px;line-height:16px;font-family:'Liberation Sans';font-size:16px;font-weight:normal;font-style:normal;letter-spacing:0px;color:#111;-webkit-text-stroke:0.25px #111;">5.8</div><div style="left:731.75px;top:1006.00px;line-height:16px;font-family:'Liberation Sans';font-size:16px;font-weight:normal;font-style:normal;letter-spacing:0px;color:#111;-webkit-text-stroke:0.25px #111;">7.0</div><div style="left:759.22px;top:940.00px;line-height:16px;font-family:'Liberation Sans';font-size:16px;font-weight:bold;font-style:normal;letter-spacing:0px;color:#111;transform:scaleX(0.8140);transform-origin:right 50%;">75 68 70</div><div style="left:803.70px;top:956.00px;line-height:16px;font-family:'Liberation Sans';font-size:16px;font-weight:bold;font-style:normal;letter-spacing:0px;color:#111;transform:scaleX(0.8140);transform-origin:right 50%;">71</div><div style="left:803.70px;top:973.00px;line-height:16px;font-family:'Liberation Sans';font-size:16px;font-weight:bold;font-style:normal;letter-spacing:0px;color:#111;transform:scaleX(0.8140);transform-origin:right 50%;">72</div><div style="left:803.70px;top:989.00px;line-height:16px;font-family:'Liberation Sans';font-size:16px;font-weight:bold;font-style:normal;letter-spacing:0px;color:#111;transform:scaleX(0.8140);transform-origin:right 50%;">73</div><div style="left:844.20px;top:940.00px;line-height:16px;font-family:'Liberation Sans';font-size:16px;font-weight:normal;font-style:normal;letter-spacing:0px;color:#111;-webkit-text-stroke:0.25px #111;">50</div><div style="left:844.20px;top:956.00px;line-height:16px;font-family:'Liberation Sans';font-size:16px;font-weight:normal;font-style:normal;letter-spacing:0px;color:#111;-webkit-text-stroke:0.25px #111;">65</div><div style="left:844.20px;top:973.00px;line-height:16px;font-family:'Liberation Sans';font-size:16px;font-weight:normal;font-style:normal;letter-spacing:0px;color:#111;-webkit-text-stroke:0.25px #111;">80</div><div style="left:835.30px;top:989.00px;line-height:16px;font-family:'Liberation Sans';font-size:16px;font-weight:normal;font-style:normal;letter-spacing:0px;color:#111;-webkit-text-stroke:0.25px #111;">100</div><div style="left:875.60px;top:940.00px;line-height:16px;font-family:'Liberation Sans';font-size:16px;font-weight:normal;font-style:normal;letter-spacing:0px;color:#111;-webkit-text-stroke:0.25px #111;">165</div><div style="left:875.60px;top:956.00px;line-height:16px;font-family:'Liberation Sans';font-size:16px;font-weight:normal;font-style:normal;letter-spacing:0px;color:#111;-webkit-text-stroke:0.25px #111;">185</div><div style="left:875.60px;top:973.00px;line-height:16px;font-family:'Liberation Sans';font-size:16px;font-weight:normal;font-style:normal;letter-spacing:0px;color:#111;-webkit-text-stroke:0.25px #111;">200</div><div style="left:875.60px;top:989.00px;line-height:16px;font-family:'Liberation Sans';font-size:16px;font-weight:normal;font-style:normal;letter-spacing:0px;color:#111;-webkit-text-stroke:0.25px #111;">220</div><div style="left:912.30px;top:940.00px;line-height:16px;font-family:'Liberation Sans';font-size:16px;font-weight:normal;font-style:normal;letter-spacing:0px;color:#111;-webkit-text-stroke:0.25px #111;">230</div><div style="left:912.30px;top:956.00px;line-height:16px;font-family:'Liberation Sans';font-size:16px;font-weight:normal;font-style:normal;letter-spacing:0px;color:#111;-webkit-text-stroke:0.25px #111;">270</div><div style="left:912.30px;top:973.00px;line-height:16px;font-family:'Liberation Sans';font-size:16px;font-weight:normal;font-style:normal;letter-spacing:0px;color:#111;-webkit-text-stroke:0.25px #111;">290</div><div style="left:912.30px;top:989.00px;line-height:16px;font-family:'Liberation Sans';font-size:16px;font-weight:normal;font-style:normal;letter-spacing:0px;color:#111;-webkit-text-stroke:0.25px #111;">300</div><div style="left:951.85px;top:940.00px;line-height:16px;font-family:'Liberation Sans';font-size:16px;font-weight:normal;font-style:normal;letter-spacing:0px;color:#111;-webkit-text-stroke:0.25px #111;">11.0</div><div style="left:950.66px;top:956.00px;line-height:16px;font-family:'Liberation Sans';font-size:16px;font-weight:normal;font-style:normal;letter-spacing:0px;color:#111;-webkit-text-stroke:0.25px #111;">15.0</div><div style="left:950.66px;top:973.00px;line-height:16px;font-family:'Liberation Sans';font-size:16px;font-weight:normal;font-style:normal;letter-spacing:0px;color:#111;-webkit-text-stroke:0.25px #111;">17.5</div><div style="left:950.66px;top:989.00px;line-height:16px;font-family:'Liberation Sans';font-size:16px;font-weight:normal;font-style:normal;letter-spacing:0px;color:#111;-webkit-text-stroke:0.25px #111;">24.8</div><div style="left:1048.40px;top:509.00px;line-height:16px;font-family:'Liberation Sans';font-size:16px;font-weight:bold;font-style:normal;letter-spacing:0px;color:#111;transform:scaleX(1.0382);transform-origin:left 50%;">Brass / Bronze Body, Threaded Ends, Model 628</div><div style="left:1056.90px;top:555.00px;line-height:16px;font-family:'Liberation Sans';font-size:16px;font-weight:normal;font-style:normal;letter-spacing:0px;color:#111;-webkit-text-stroke:0.25px #111;transform:scaleX(1.0230);transform-origin:left 50%;">CODE</div><div style="left:1130.55px;top:555.00px;line-height:16px;font-family:'Liberation Sans';font-size:16px;font-weight:normal;font-style:normal;letter-spacing:0px;color:#111;-webkit-text-stroke:0.25px #111;">d</div><div style="left:1158.30px;top:555.00px;line-height:16px;font-family:'Liberation Sans';font-size:16px;font-weight:normal;font-style:normal;letter-spacing:0px;color:#111;-webkit-text-stroke:0.25px #111;transform:scaleX(0.9954);transform-origin:left 50%;">Lmm</div><div style="left:1209.40px;top:546.00px;line-height:16px;font-family:'Liberation Sans';font-size:16px;font-weight:normal;font-style:normal;letter-spacing:0px;color:#111;-webkit-text-stroke:0.25px #111;transform:scaleX(1.0219);transform-origin:left 50%;">Weight</div><div style="left:1222.35px;top:563.00px;line-height:16px;font-family:'Liberation Sans';font-size:16px;font-weight:normal;font-style:normal;letter-spacing:0px;color:#111;-webkit-text-stroke:0.25px #111;">kgs</div><div style="left:1279.90px;top:555.00px;line-height:16px;font-family:'Liberation Sans';font-size:16px;font-weight:normal;font-style:normal;letter-spacing:0px;color:#111;-webkit-text-stroke:0.25px #111;transform:scaleX(1.0317);transform-origin:left 50%;">CODE</div><div style="left:1353.95px;top:555.00px;line-height:16px;font-family:'Liberation Sans';font-size:16px;font-weight:normal;font-style:normal;letter-spacing:0px;color:#111;-webkit-text-stroke:0.25px #111;">d</div><div style="left:1382.50px;top:555.00px;line-height:16px;font-family:'Liberation Sans';font-size:16px;font-weight:normal;font-style:normal;letter-spacing:0px;color:#111;-webkit-text-stroke:0.25px #111;">Lmm</div><div style="left:1434.10px;top:546.00px;line-height:16px;font-family:'Liberation Sans';font-size:16px;font-weight:normal;font-style:normal;letter-spacing:0px;color:#111;-webkit-text-stroke:0.25px #111;transform:scaleX(1.0138);transform-origin:left 50%;">Weight</div><div style="left:1447.25px;top:563.00px;line-height:16px;font-family:'Liberation Sans';font-size:16px;font-weight:normal;font-style:normal;letter-spacing:0px;color:#111;-webkit-text-stroke:0.25px #111;">kgs</div><div style="left:1042.32px;top:593.00px;line-height:16px;font-family:'Liberation Sans';font-size:16px;font-weight:bold;font-style:normal;letter-spacing:0px;color:#111;transform:scaleX(0.8140);transform-origin:right 50%;">75 68 75</div><div style="left:1086.80px;top:609.00px;line-height:16px;font-family:'Liberation Sans';font-size:16px;font-weight:bold;font-style:normal;letter-spacing:0px;color:#111;transform:scaleX(0.8140);transform-origin:right 50%;">76</div><div style="left:1086.80px;top:626.00px;line-height:16px;font-family:'Liberation Sans';font-size:16px;font-weight:bold;font-style:normal;letter-spacing:0px;color:#111;transform:scaleX(0.8140);transform-origin:right 50%;">77</div><div style="left:1123.04px;top:593.00px;line-height:16px;font-family:'Liberation Sans';font-size:16px;font-weight:normal;font-style:normal;letter-spacing:0px;color:#111;-webkit-text-stroke:0.25px #111;">1/2&quot;</div><div style="left:1123.04px;top:609.00px;line-height:16px;font-family:'Liberation Sans';font-size:16px;font-weight:normal;font-style:normal;letter-spacing:0px;color:#111;-webkit-text-stroke:0.25px #111;">3/4&quot;</div><div style="left:1129.71px;top:626.00px;line-height:16px;font-family:'Liberation Sans';font-size:16px;font-weight:normal;font-style:normal;letter-spacing:0px;color:#111;-webkit-text-stroke:0.25px #111;">1&quot;</div><div style="left:1168.70px;top:593.00px;line-height:16px;font-family:'Liberation Sans';font-size:16px;font-weight:normal;font-style:normal;letter-spacing:0px;color:#111;-webkit-text-stroke:0.25px #111;">89</div><div style="left:1168.70px;top:609.00px;line-height:16px;font-family:'Liberation Sans';font-size:16px;font-weight:normal;font-style:normal;letter-spacing:0px;color:#111;-webkit-text-stroke:0.25px #111;">90</div><div style="left:1168.70px;top:626.00px;line-height:16px;font-family:'Liberation Sans';font-size:16px;font-weight:normal;font-style:normal;letter-spacing:0px;color:#111;-webkit-text-stroke:0.25px #111;">90</div><div style="left:1220.47px;top:593.00px;line-height:16px;font-family:'Liberation Sans';font-size:16px;font-weight:normal;font-style:normal;letter-spacing:0px;color:#111;-webkit-text-stroke:0.25px #111;">0.9</div><div style="left:1220.47px;top:609.00px;line-height:16px;font-family:'Liberation Sans';font-size:16px;font-weight:normal;font-style:normal;letter-spacing:0px;color:#111;-webkit-text-stroke:0.25px #111;">0.9</div><div style="left:1220.47px;top:626.00px;line-height:16px;font-family:'Liberation Sans';font-size:16px;font-weight:normal;font-style:normal;letter-spacing:0px;color:#111;-webkit-text-stroke:0.25px #111;">1.2</div><div style="left:1265.32px;top:593.00px;line-height:16px;font-family:'Liberation Sans';font-size:16px;font-weight:bold;font-style:normal;letter-spacing:0px;color:#111;transform:scaleX(0.8140);transform-origin:right 50%;">75 68 78</div><div style="left:1309.80px;top:609.00px;line-height:16px;font-family:'Liberation Sans';font-size:16px;font-weight:bold;font-style:normal;letter-spacing:0px;color:#111;transform:scaleX(0.8140);transform-origin:right 50%;">79</div><div style="left:1309.80px;top:626.00px;line-height:16px;font-family:'Liberation Sans';font-size:16px;font-weight:bold;font-style:normal;letter-spacing:0px;color:#111;transform:scaleX(0.8140);transform-origin:right 50%;">80</div><div style="left:1339.63px;top:593.00px;line-height:16px;font-family:'Liberation Sans';font-size:16px;font-weight:normal;font-style:normal;letter-spacing:0px;color:#111;-webkit-text-stroke:0.25px #111;transform:scaleX(0.8000);transform-origin:center 50%;">1-1/4&#x27;</div><div style="left:1339.63px;top:609.00px;line-height:16px;font-family:'Liberation Sans';font-size:16px;font-weight:normal;font-style:normal;letter-spacing:0px;color:#111;-webkit-text-stroke:0.25px #111;transform:scaleX(0.8000);transform-origin:center 50%;">1-1/2&#x27;</div><div style="left:1354.71px;top:626.00px;line-height:16px;font-family:'Liberation Sans';font-size:16px;font-weight:normal;font-style:normal;letter-spacing:0px;color:#111;-webkit-text-stroke:0.25px #111;">2&quot;</div><div style="left:1386.65px;top:593.00px;line-height:16px;font-family:'Liberation Sans';font-size:16px;font-weight:normal;font-style:normal;letter-spacing:0px;color:#111;-webkit-text-stroke:0.25px #111;">108</div><div style="left:1386.65px;top:609.00px;line-height:16px;font-family:'Liberation Sans';font-size:16px;font-weight:normal;font-style:normal;letter-spacing:0px;color:#111;-webkit-text-stroke:0.25px #111;">108</div><div style="left:1387.24px;top:626.00px;line-height:16px;font-family:'Liberation Sans';font-size:16px;font-weight:normal;font-style:normal;letter-spacing:0px;color:#111;-webkit-text-stroke:0.25px #111;">114</div><div style="left:1445.67px;top:593.00px;line-height:16px;font-family:'Liberation Sans';font-size:16px;font-weight:normal;font-style:normal;letter-spacing:0px;color:#111;-webkit-text-stroke:0.25px #111;">1.9</div><div style="left:1445.67px;top:609.00px;line-height:16px;font-family:'Liberation Sans';font-size:16px;font-weight:normal;font-style:normal;letter-spacing:0px;color:#111;-webkit-text-stroke:0.25px #111;">1.9</div><div style="left:1445.67px;top:626.00px;line-height:16px;font-family:'Liberation Sans';font-size:16px;font-weight:normal;font-style:normal;letter-spacing:0px;color:#111;-webkit-text-stroke:0.25px #111;">2.5</div><div style="left:1044.20px;top:651.00px;line-height:16px;font-family:'Liberation Sans';font-size:16px;font-weight:normal;font-style:normal;letter-spacing:0px;color:#111;-webkit-text-stroke:0.25px #111;transform:scaleX(0.9327);transform-origin:left 50%;">Note :  Material of body 1/2&quot; to 1&quot; = Brass, 1-1/4&quot; to 2&quot; = Bronze</div><div style="left:1044.20px;top:694.00px;line-height:16px;font-family:'Liberation Sans';font-size:16px;font-weight:bold;font-style:normal;letter-spacing:0px;color:#111;transform:scaleX(1.0354);transform-origin:left 50%;">Cast Iron Body, Flanged Ends, Model 635</div><div style="left:1056.50px;top:738.00px;line-height:16px;font-family:'Liberation Sans';font-size:16px;font-weight:normal;font-style:normal;letter-spacing:0px;color:#111;-webkit-text-stroke:0.25px #111;transform:scaleX(1.0230);transform-origin:left 50%;">CODE</div><div style="left:1121.40px;top:738.00px;line-height:16px;font-family:'Liberation Sans';font-size:16px;font-weight:normal;font-style:normal;letter-spacing:0px;color:#111;-webkit-text-stroke:0.25px #111;transform:scaleX(0.9520);transform-origin:left 50%;">DN</div><div style="left:1161.20px;top:725.00px;line-height:16px;font-family:'Liberation Sans';font-size:16px;font-weight:normal;font-style:normal;letter-spacing:0px;color:#111;-webkit-text-stroke:0.25px #111;transform:scaleX(1.0159);transform-origin:left 50%;">Sizemm</div><div style="left:1166.66px;top:747.00px;line-height:16px;font-family:'Liberation Sans';font-size:16px;font-weight:normal;font-style:normal;letter-spacing:0px;color:#111;-webkit-text-stroke:0.25px #111;">A</div><div style="left:1205.95px;top:747.00px;line-height:16px;font-family:'Liberation Sans';font-size:16px;font-weight:normal;font-style:normal;letter-spacing:0px;color:#111;-webkit-text-stroke:0.25px #111;">L</div><div style="left:1233.50px;top:729.00px;line-height:15px;font-family:'Liberation Sans';font-size:15px;font-weight:normal;font-style:normal;letter-spacing:0px;color:#111;-webkit-text-stroke:0.25px #111;transform:scaleX(0.6592);transform-origin:left 50%;">Weight</div><div style="left:1236.93px;top:746.00px;line-height:15px;font-family:'Liberation Sans';font-size:15px;font-weight:normal;font-style:normal;letter-spacing:0px;color:#111;-webkit-text-stroke:0.25px #111;transform:scaleX(0.7200);transform-origin:center 50%;">kgs</div><div style="left:1280.80px;top:738.00px;line-height:16px;font-family:'Liberation Sans';font-size:16px;font-weight:normal;font-style:normal;letter-spacing:0px;color:#111;-webkit-text-stroke:0.25px #111;transform:scaleX(0.9820);transform-origin:left 50%;">CODE</div><div style="left:1344.20px;top:738.00px;line-height:16px;font-family:'Liberation Sans';font-size:16px;font-weight:normal;font-style:normal;letter-spacing:0px;color:#111;-webkit-text-stroke:0.25px #111;transform:scaleX(0.9520);transform-origin:left 50%;">DN</div><div style="left:1383.60px;top:725.00px;line-height:16px;font-family:'Liberation Sans';font-size:16px;font-weight:normal;font-style:normal;letter-spacing:0px;color:#111;-webkit-text-stroke:0.25px #111;transform:scaleX(1.0228);transform-origin:left 50%;">Sizemm</div><div style="left:1389.06px;top:747.00px;line-height:16px;font-family:'Liberation Sans';font-size:16px;font-weight:normal;font-style:normal;letter-spacing:0px;color:#111;-webkit-text-stroke:0.25px #111;">A</div><div style="left:1428.75px;top:747.00px;line-height:16px;font-family:'Liberation Sans';font-size:16px;font-weight:normal;font-style:normal;letter-spacing:0px;color:#111;-webkit-text-stroke:0.25px #111;">L</div><div style="left:1456.80px;top:729.00px;line-height:15px;font-family:'Liberation Sans';font-size:15px;font-weight:normal;font-style:normal;letter-spacing:0px;color:#111;-webkit-text-stroke:0.25px #111;transform:scaleX(0.6656);transform-origin:left 50%;">Weight</div><div style="left:1460.33px;top:746.00px;line-height:15px;font-family:'Liberation Sans';font-size:15px;font-weight:normal;font-style:normal;letter-spacing:0px;color:#111;-webkit-text-stroke:0.25px #111;transform:scaleX(0.7200);transform-origin:center 50%;">kgs</div><div style="left:1041.92px;top:776.00px;line-height:16px;font-family:'Liberation Sans';font-size:16px;font-weight:bold;font-style:normal;letter-spacing:0px;color:#111;transform:scaleX(0.8140);transform-origin:right 50%;">75 68 81</div><div style="left:1086.40px;top:792.00px;line-height:16px;font-family:'Liberation Sans';font-size:16px;font-weight:bold;font-style:normal;letter-spacing:0px;color:#111;transform:scaleX(0.8140);transform-origin:right 50%;">82</div><div style="left:1086.40px;top:809.00px;line-height:16px;font-family:'Liberation Sans';font-size:16px;font-weight:bold;font-style:normal;letter-spacing:0px;color:#111;transform:scaleX(0.8140);transform-origin:right 50%;">83</div><div style="left:1086.40px;top:826.00px;line-height:16px;font-family:'Liberation Sans';font-size:16px;font-weight:bold;font-style:normal;letter-spacing:0px;color:#111;transform:scaleX(0.8140);transform-origin:right 50%;">84</div><div style="left:1086.40px;top:842.00px;line-height:16px;font-family:'Liberation Sans';font-size:16px;font-weight:bold;font-style:normal;letter-spacing:0px;color:#111;transform:scaleX(0.8140);transform-origin:right 50%;">85</div><div style="left:1125.60px;top:776.00px;line-height:16px;font-family:'Liberation Sans';font-size:16px;font-weight:normal;font-style:normal;letter-spacing:0px;color:#111;-webkit-text-stroke:0.25px #111;">15</div><div style="left:1125.60px;top:792.00px;line-height:16px;font-family:'Liberation Sans';font-size:16px;font-weight:normal;font-style:normal;letter-spacing:0px;color:#111;-webkit-text-stroke:0.25px #111;">20</div><div style="left:1125.60px;top:809.00px;line-height:16px;font-family:'Liberation Sans';font-size:16px;font-weight:normal;font-style:normal;letter-spacing:0px;color:#111;-webkit-text-stroke:0.25px #111;">25</div><div style="left:1125.60px;top:826.00px;line-height:16px;font-family:'Liberation Sans';font-size:16px;font-weight:normal;font-style:normal;letter-spacing:0px;color:#111;-webkit-text-stroke:0.25px #111;">32</div><div style="left:1125.60px;top:842.00px;line-height:16px;font-family:'Liberation Sans';font-size:16px;font-weight:normal;font-style:normal;letter-spacing:0px;color:#111;-webkit-text-stroke:0.25px #111;">40</div><div style="left:1166.90px;top:776.00px;line-height:16px;font-family:'Liberation Sans';font-size:16px;font-weight:normal;font-style:normal;letter-spacing:0px;color:#111;-webkit-text-stroke:0.25px #111;">95</div><div style="left:1158.00px;top:792.00px;line-height:16px;font-family:'Liberation Sans';font-size:16px;font-weight:normal;font-style:normal;letter-spacing:0px;color:#111;-webkit-text-stroke:0.25px #111;">105</div><div style="left:1159.18px;top:809.00px;line-height:16px;font-family:'Liberation Sans';font-size:16px;font-weight:normal;font-style:normal;letter-spacing:0px;color:#111;-webkit-text-stroke:0.25px #111;">115</div><div style="left:1158.00px;top:826.00px;line-height:16px;font-family:'Liberation Sans';font-size:16px;font-weight:normal;font-style:normal;letter-spacing:0px;color:#111;-webkit-text-stroke:0.25px #111;">140</div><div style="left:1158.00px;top:842.00px;line-height:16px;font-family:'Liberation Sans';font-size:16px;font-weight:normal;font-style:normal;letter-spacing:0px;color:#111;-webkit-text-stroke:0.25px #111;">150</div><div style="left:1195.80px;top:776.00px;line-height:16px;font-family:'Liberation Sans';font-size:16px;font-weight:normal;font-style:normal;letter-spacing:0px;color:#111;-webkit-text-stroke:0.25px #111;">140</div><div style="left:1195.80px;top:792.00px;line-height:16px;font-family:'Liberation Sans';font-size:16px;font-weight:normal;font-style:normal;letter-spacing:0px;color:#111;-webkit-text-stroke:0.25px #111;">140</div><div style="left:1195.80px;top:809.00px;line-height:16px;font-family:'Liberation Sans';font-size:16px;font-weight:normal;font-style:normal;letter-spacing:0px;color:#111;-webkit-text-stroke:0.25px #111;">150</div><div style="left:1195.80px;top:826.00px;line-height:16px;font-family:'Liberation Sans';font-size:16px;font-weight:normal;font-style:normal;letter-spacing:0px;color:#111;-webkit-text-stroke:0.25px #111;">165</div><div style="left:1195.80px;top:842.00px;line-height:16px;font-family:'Liberation Sans';font-size:16px;font-weight:normal;font-style:normal;letter-spacing:0px;color:#111;-webkit-text-stroke:0.25px #111;">185</div><div style="left:1238.75px;top:776.00px;line-height:16px;font-family:'Liberation Sans';font-size:16px;font-weight:normal;font-style:normal;letter-spacing:0px;color:#111;-webkit-text-stroke:0.25px #111;">3.4</div><div style="left:1238.75px;top:792.00px;line-height:16px;font-family:'Liberation Sans';font-size:16px;font-weight:normal;font-style:normal;letter-spacing:0px;color:#111;-webkit-text-stroke:0.25px #111;">3.9</div><div style="left:1238.75px;top:809.00px;line-height:16px;font-family:'Liberation Sans';font-size:16px;font-weight:normal;font-style:normal;letter-spacing:0px;color:#111;-webkit-text-stroke:0.25px #111;">4.1</div><div style="left:1238.75px;top:826.00px;line-height:16px;font-family:'Liberation Sans';font-size:16px;font-weight:normal;font-style:normal;letter-spacing:0px;color:#111;-webkit-text-stroke:0.25px #111;">5.5</div><div style="left:1238.75px;top:842.00px;line-height:16px;font-family:'Liberation Sans';font-size:16px;font-weight:normal;font-style:normal;letter-spacing:0px;color:#111;-webkit-text-stroke:0.25px #111;">7.2</div><div style="left:1265.72px;top:776.00px;line-height:16px;font-family:'Liberation Sans';font-size:16px;font-weight:bold;font-style:normal;letter-spacing:0px;color:#111;transform:scaleX(0.8140);transform-origin:right 50%;">75 68 87</div><div style="left:1310.20px;top:792.00px;line-height:16px;font-family:'Liberation Sans';font-size:16px;font-weight:bold;font-style:normal;letter-spacing:0px;color:#111;transform:scaleX(0.8140);transform-origin:right 50%;">88</div><div style="left:1310.20px;top:809.00px;line-height:16px;font-family:'Liberation Sans';font-size:16px;font-weight:bold;font-style:normal;letter-spacing:0px;color:#111;transform:scaleX(0.8140);transform-origin:right 50%;">89</div><div style="left:1310.20px;top:826.00px;line-height:16px;font-family:'Liberation Sans';font-size:16px;font-weight:bold;font-style:normal;letter-spacing:0px;color:#111;transform:scaleX(0.8140);transform-origin:right 50%;">90</div><div style="left:1310.20px;top:842.00px;line-height:16px;font-family:'Liberation Sans';font-size:16px;font-weight:bold;font-style:normal;letter-spacing:0px;color:#111;transform:scaleX(0.8140);transform-origin:right 50%;">91</div><div style="left:1352.40px;top:776.00px;line-height:16px;font-family:'Liberation Sans';font-size:16px;font-weight:normal;font-style:normal;letter-spacing:0px;color:#111;-webkit-text-stroke:0.25px #111;">65</div><div style="left:1352.40px;top:792.00px;line-height:16px;font-family:'Liberation Sans';font-size:16px;font-weight:normal;font-style:normal;letter-spacing:0px;color:#111;-webkit-text-stroke:0.25px #111;">80</div><div style="left:1343.50px;top:809.00px;line-height:16px;font-family:'Liberation Sans';font-size:16px;font-weight:normal;font-style:normal;letter-spacing:0px;color:#111;-webkit-text-stroke:0.25px #111;">100</div><div style="left:1343.50px;top:826.00px;line-height:16px;font-family:'Liberation Sans';font-size:16px;font-weight:normal;font-style:normal;letter-spacing:0px;color:#111;-webkit-text-stroke:0.25px #111;">125</div><div style="left:1343.50px;top:842.00px;line-height:16px;font-family:'Liberation Sans';font-size:16px;font-weight:normal;font-style:normal;letter-spacing:0px;color:#111;-webkit-text-stroke:0.25px #111;">150</div><div style="left:1381.30px;top:776.00px;line-height:16px;font-family:'Liberation Sans';font-size:16px;font-weight:normal;font-style:normal;letter-spacing:0px;color:#111;-webkit-text-stroke:0.25px #111;">185</div><div style="left:1381.30px;top:792.00px;line-height:16px;font-family:'Liberation Sans';font-size:16px;font-weight:normal;font-style:normal;letter-spacing:0px;color:#111;-webkit-text-stroke:0.25px #111;">200</div><div style="left:1381.30px;top:809.00px;line-height:16px;font-family:'Liberation Sans';font-size:16px;font-weight:normal;font-style:normal;letter-spacing:0px;color:#111;-webkit-text-stroke:0.25px #111;">220</div><div style="left:1381.30px;top:826.00px;line-height:16px;font-family:'Liberation Sans';font-size:16px;font-weight:normal;font-style:normal;letter-spacing:0px;color:#111;-webkit-text-stroke:0.25px #111;">250</div><div style="left:1381.30px;top:842.00px;line-height:16px;font-family:'Liberation Sans';font-size:16px;font-weight:normal;font-style:normal;letter-spacing:0px;color:#111;-webkit-text-stroke:0.25px #111;">285</div><div style="left:1420.10px;top:776.00px;line-height:16px;font-family:'Liberation Sans';font-size:16px;font-weight:normal;font-style:normal;letter-spacing:0px;color:#111;-webkit-text-stroke:0.25px #111;">230</div><div style="left:1420.10px;top:792.00px;line-height:16px;font-family:'Liberation Sans';font-size:16px;font-weight:normal;font-style:normal;letter-spacing:0px;color:#111;-webkit-text-stroke:0.25px #111;">240</div><div style="left:1420.10px;top:809.00px;line-height:16px;font-family:'Liberation Sans';font-size:16px;font-weight:normal;font-style:normal;letter-spacing:0px;color:#111;-webkit-text-stroke:0.25px #111;">305</div><div style="left:1420.10px;top:826.00px;line-height:16px;font-family:'Liberation Sans';font-size:16px;font-weight:normal;font-style:normal;letter-spacing:0px;color:#111;-webkit-text-stroke:0.25px #111;">310</div><div style="left:1420.10px;top:842.00px;line-height:16px;font-family:'Liberation Sans';font-size:16px;font-weight:normal;font-style:normal;letter-spacing:0px;color:#111;-webkit-text-stroke:0.25px #111;">410</div><div style="left:1457.36px;top:776.00px;line-height:16px;font-family:'Liberation Sans';font-size:16px;font-weight:normal;font-style:normal;letter-spacing:0px;color:#111;-webkit-text-stroke:0.25px #111;">14.0</div><div style="left:1457.36px;top:792.00px;line-height:16px;font-family:'Liberation Sans';font-size:16px;font-weight:normal;font-style:normal;letter-spacing:0px;color:#111;-webkit-text-stroke:0.25px #111;">17.0</div><div style="left:1457.36px;top:809.00px;line-height:16px;font-family:'Liberation Sans';font-size:16px;font-weight:normal;font-style:normal;letter-spacing:0px;color:#111;-webkit-text-stroke:0.25px #111;">21.0</div><div style="left:1457.36px;top:826.00px;line-height:16px;font-family:'Liberation Sans';font-size:16px;font-weight:normal;font-style:normal;letter-spacing:0px;color:#111;-webkit-text-stroke:0.25px #111;">35.0</div><div style="left:1457.36px;top:842.00px;line-height:16px;font-family:'Liberation Sans';font-size:16px;font-weight:normal;font-style:normal;letter-spacing:0px;color:#111;-webkit-text-stroke:0.25px #111;">54.0</div><div style="left:1041.92px;top:875.00px;line-height:16px;font-family:'Liberation Sans';font-size:16px;font-weight:bold;font-style:normal;letter-spacing:0px;color:#111;transform:scaleX(0.8140);transform-origin:right 50%;">75 68 86</div><div style="left:1125.60px;top:875.00px;line-height:16px;font-family:'Liberation Sans';font-size:16px;font-weight:normal;font-style:normal;letter-spacing:0px;color:#111;-webkit-text-stroke:0.25px #111;">50</div><div style="left:1158.00px;top:875.00px;line-height:16px;font-family:'Liberation Sans';font-size:16px;font-weight:normal;font-style:normal;letter-spacing:0px;color:#111;-webkit-text-stroke:0.25px #111;">165</div><div style="left:1195.80px;top:875.00px;line-height:16px;font-family:'Liberation Sans';font-size:16px;font-weight:normal;font-style:normal;letter-spacing:0px;color:#111;-webkit-text-stroke:0.25px #111;">185</div><div style="left:1238.75px;top:875.00px;line-height:16px;font-family:'Liberation Sans';font-size:16px;font-weight:normal;font-style:normal;letter-spacing:0px;color:#111;-webkit-text-stroke:0.25px #111;">8.1</div><div style="left:1044.50px;top:932.00px;line-height:16px;font-family:'Liberation Sans';font-size:16px;font-weight:bold;font-style:normal;letter-spacing:0px;color:#111;transform:scaleX(1.0382);transform-origin:left 50%;">Bronze Body, Flanged Ends, Model 636</div><div style="left:1048.30px;top:977.00px;line-height:16px;font-family:'Liberation Sans';font-size:16px;font-weight:normal;font-style:normal;letter-spacing:0px;color:#111;-webkit-text-stroke:0.25px #111;transform:scaleX(1.0230);transform-origin:left 50%;">CODE</div><div style="left:1113.20px;top:977.00px;line-height:16px;font-family:'Liberation Sans';font-size:16px;font-weight:normal;font-style:normal;letter-spacing:0px;color:#111;-webkit-text-stroke:0.25px #111;transform:scaleX(0.9520);transform-origin:left 50%;">DN</div><div style="left:1153.00px;top:965.00px;line-height:16px;font-family:'Liberation Sans';font-size:16px;font-weight:normal;font-style:normal;letter-spacing:0px;color:#111;-webkit-text-stroke:0.25px #111;transform:scaleX(1.0280);transform-origin:left 50%;">Sizemm</div><div style="left:1158.76px;top:986.00px;line-height:16px;font-family:'Liberation Sans';font-size:16px;font-weight:normal;font-style:normal;letter-spacing:0px;color:#111;-webkit-text-stroke:0.25px #111;">A</div><div style="left:1197.55px;top:986.00px;line-height:16px;font-family:'Liberation Sans';font-size:16px;font-weight:normal;font-style:normal;letter-spacing:0px;color:#111;-webkit-text-stroke:0.25px #111;">L</div><div style="left:1225.60px;top:968.00px;line-height:15px;font-family:'Liberation Sans';font-size:15px;font-weight:normal;font-style:normal;letter-spacing:0px;color:#111;-webkit-text-stroke:0.25px #111;transform:scaleX(0.6613);transform-origin:left 50%;">Weight</div><div style="left:1229.13px;top:984.00px;line-height:15px;font-family:'Liberation Sans';font-size:15px;font-weight:normal;font-style:normal;letter-spacing:0px;color:#111;-webkit-text-stroke:0.25px #111;transform:scaleX(0.7200);transform-origin:center 50%;">kgs</div><div style="left:1272.60px;top:977.00px;line-height:16px;font-family:'Liberation Sans';font-size:16px;font-weight:normal;font-style:normal;letter-spacing:0px;color:#111;-webkit-text-stroke:0.25px #111;transform:scaleX(1.0187);transform-origin:left 50%;">CODE</div><div style="left:1337.30px;top:977.00px;line-height:16px;font-family:'Liberation Sans';font-size:16px;font-weight:normal;font-style:normal;letter-spacing:0px;color:#111;-webkit-text-stroke:0.25px #111;transform:scaleX(0.9520);transform-origin:left 50%;">DN</div><div style="left:1376.50px;top:965.00px;line-height:16px;font-family:'Liberation Sans';font-size:16px;font-weight:normal;font-style:normal;letter-spacing:0px;color:#111;-webkit-text-stroke:0.25px #111;">Sizemm</div><div style="left:1381.56px;top:986.00px;line-height:16px;font-family:'Liberation Sans';font-size:16px;font-weight:normal;font-style:normal;letter-spacing:0px;color:#111;-webkit-text-stroke:0.25px #111;">A</div><div style="left:1419.95px;top:986.00px;line-height:16px;font-family:'Liberation Sans';font-size:16px;font-weight:normal;font-style:normal;letter-spacing:0px;color:#111;-webkit-text-stroke:0.25px #111;">L</div><div style="left:1448.40px;top:968.00px;line-height:15px;font-family:'Liberation Sans';font-size:15px;font-weight:normal;font-style:normal;letter-spacing:0px;color:#111;-webkit-text-stroke:0.25px #111;transform:scaleX(0.6656);transform-origin:left 50%;">Weight</div><div style="left:1452.13px;top:984.00px;line-height:15px;font-family:'Liberation Sans';font-size:15px;font-weight:normal;font-style:normal;letter-spacing:0px;color:#111;-webkit-text-stroke:0.25px #111;transform:scaleX(0.7200);transform-origin:center 50%;">kgs</div><div style="left:1034.12px;top:1015.00px;line-height:16px;font-family:'Liberation Sans';font-size:16px;font-weight:bold;font-style:normal;letter-spacing:0px;color:#111;transform:scaleX(0.8140);transform-origin:right 50%;">75 69 01</div><div style="left:1078.60px;top:1031.00px;line-height:16px;font-family:'Liberation Sans';font-size:16px;font-weight:bold;font-style:normal;letter-spacing:0px;color:#111;transform:scaleX(0.8140);transform-origin:right 50%;">02</div><div style="left:1078.60px;top:1048.00px;line-height:16px;font-family:'Liberation Sans';font-size:16px;font-weight:bold;font-style:normal;letter-spacing:0px;color:#111;transform:scaleX(0.8140);transform-origin:right 50%;">03</div><div style="left:1078.60px;top:1064.00px;line-height:16px;font-family:'Liberation Sans';font-size:16px;font-weight:bold;font-style:normal;letter-spacing:0px;color:#111;transform:scaleX(0.8140);transform-origin:right 50%;">04</div><div style="left:1078.60px;top:1081.00px;line-height:16px;font-family:'Liberation Sans';font-size:16px;font-weight:bold;font-style:normal;letter-spacing:0px;color:#111;transform:scaleX(0.8140);transform-origin:right 50%;">05</div><div style="left:1117.40px;top:1015.00px;line-height:16px;font-family:'Liberation Sans';font-size:16px;font-weight:normal;font-style:normal;letter-spacing:0px;color:#111;-webkit-text-stroke:0.25px #111;">15</div><div style="left:1117.40px;top:1031.00px;line-height:16px;font-family:'Liberation Sans';font-size:16px;font-weight:normal;font-style:normal;letter-spacing:0px;color:#111;-webkit-text-stroke:0.25px #111;">20</div><div style="left:1117.40px;top:1048.00px;line-height:16px;font-family:'Liberation Sans';font-size:16px;font-weight:normal;font-style:normal;letter-spacing:0px;color:#111;-webkit-text-stroke:0.25px #111;">25</div><div style="left:1117.40px;top:1064.00px;line-height:16px;font-family:'Liberation Sans';font-size:16px;font-weight:normal;font-style:normal;letter-spacing:0px;color:#111;-webkit-text-stroke:0.25px #111;">32</div><div style="left:1117.40px;top:1081.00px;line-height:16px;font-family:'Liberation Sans';font-size:16px;font-weight:normal;font-style:normal;letter-spacing:0px;color:#111;-webkit-text-stroke:0.25px #111;">40</div><div style="left:1158.50px;top:1015.00px;line-height:16px;font-family:'Liberation Sans';font-size:16px;font-weight:normal;font-style:normal;letter-spacing:0px;color:#111;-webkit-text-stroke:0.25px #111;">95</div><div style="left:1149.60px;top:1031.00px;line-height:16px;font-family:'Liberation Sans';font-size:16px;font-weight:normal;font-style:normal;letter-spacing:0px;color:#111;-webkit-text-stroke:0.25px #111;">105</div><div style="left:1150.78px;top:1048.00px;line-height:16px;font-family:'Liberation Sans';font-size:16px;font-weight:normal;font-style:normal;letter-spacing:0px;color:#111;-webkit-text-stroke:0.25px #111;">115</div><div style="left:1149.60px;top:1064.00px;line-height:16px;font-family:'Liberation Sans';font-size:16px;font-weight:normal;font-style:normal;letter-spacing:0px;color:#111;-webkit-text-stroke:0.25px #111;">140</div><div style="left:1149.60px;top:1081.00px;line-height:16px;font-family:'Liberation Sans';font-size:16px;font-weight:normal;font-style:normal;letter-spacing:0px;color:#111;-webkit-text-stroke:0.25px #111;">150</div><div style="left:1187.60px;top:1015.00px;line-height:16px;font-family:'Liberation Sans';font-size:16px;font-weight:normal;font-style:normal;letter-spacing:0px;color:#111;-webkit-text-stroke:0.25px #111;">140</div><div style="left:1187.60px;top:1031.00px;line-height:16px;font-family:'Liberation Sans';font-size:16px;font-weight:normal;font-style:normal;letter-spacing:0px;color:#111;-webkit-text-stroke:0.25px #111;">140</div><div style="left:1187.60px;top:1048.00px;line-height:16px;font-family:'Liberation Sans';font-size:16px;font-weight:normal;font-style:normal;letter-spacing:0px;color:#111;-webkit-text-stroke:0.25px #111;">150</div><div style="left:1187.60px;top:1064.00px;line-height:16px;font-family:'Liberation Sans';font-size:16px;font-weight:normal;font-style:normal;letter-spacing:0px;color:#111;-webkit-text-stroke:0.25px #111;">165</div><div style="left:1187.60px;top:1081.00px;line-height:16px;font-family:'Liberation Sans';font-size:16px;font-weight:normal;font-style:normal;letter-spacing:0px;color:#111;-webkit-text-stroke:0.25px #111;">185</div><div style="left:1230.25px;top:1015.00px;line-height:16px;font-family:'Liberation Sans';font-size:16px;font-weight:normal;font-style:normal;letter-spacing:0px;color:#111;-webkit-text-stroke:0.25px #111;">3.6</div><div style="left:1230.25px;top:1031.00px;line-height:16px;font-family:'Liberation Sans';font-size:16px;font-weight:normal;font-style:normal;letter-spacing:0px;color:#111;-webkit-text-stroke:0.25px #111;">4.2</div><div style="left:1230.25px;top:1048.00px;line-height:16px;font-family:'Liberation Sans';font-size:16px;font-weight:normal;font-style:normal;letter-spacing:0px;color:#111;-webkit-text-stroke:0.25px #111;">4.9</div><div style="left:1230.25px;top:1064.00px;line-height:16px;font-family:'Liberation Sans';font-size:16px;font-weight:normal;font-style:normal;letter-spacing:0px;color:#111;-webkit-text-stroke:0.25px #111;">6.1</div><div style="left:1230.25px;top:1081.00px;line-height:16px;font-family:'Liberation Sans';font-size:16px;font-weight:normal;font-style:normal;letter-spacing:0px;color:#111;-webkit-text-stroke:0.25px #111;">8.2</div><div style="left:1257.82px;top:1015.00px;line-height:16px;font-family:'Liberation Sans';font-size:16px;font-weight:bold;font-style:normal;letter-spacing:0px;color:#111;transform:scaleX(0.8140);transform-origin:right 50%;">75 69 07</div><div style="left:1302.30px;top:1031.00px;line-height:16px;font-family:'Liberation Sans';font-size:16px;font-weight:bold;font-style:normal;letter-spacing:0px;color:#111;transform:scaleX(0.8140);transform-origin:right 50%;">08</div><div style="left:1302.30px;top:1048.00px;line-height:16px;font-family:'Liberation Sans';font-size:16px;font-weight:bold;font-style:normal;letter-spacing:0px;color:#111;transform:scaleX(0.8140);transform-origin:right 50%;">09</div><div style="left:1302.30px;top:1064.00px;line-height:16px;font-family:'Liberation Sans';font-size:16px;font-weight:bold;font-style:normal;letter-spacing:0px;color:#111;transform:scaleX(0.8140);transform-origin:right 50%;">10</div><div style="left:1303.18px;top:1081.00px;line-height:16px;font-family:'Liberation Sans';font-size:16px;font-weight:bold;font-style:normal;letter-spacing:0px;color:#111;transform:scaleX(0.8140);transform-origin:right 50%;">11</div><div style="left:1344.90px;top:1015.00px;line-height:16px;font-family:'Liberation Sans';font-size:16px;font-weight:normal;font-style:normal;letter-spacing:0px;color:#111;-webkit-text-stroke:0.25px #111;">65</div><div style="left:1344.90px;top:1031.00px;line-height:16px;font-family:'Liberation Sans';font-size:16px;font-weight:normal;font-style:normal;letter-spacing:0px;color:#111;-webkit-text-stroke:0.25px #111;">80</div><div style="left:1336.00px;top:1048.00px;line-height:16px;font-family:'Liberation Sans';font-size:16px;font-weight:normal;font-style:normal;letter-spacing:0px;color:#111;-webkit-text-stroke:0.25px #111;">100</div><div style="left:1336.00px;top:1064.00px;line-height:16px;font-family:'Liberation Sans';font-size:16px;font-weight:normal;font-style:normal;letter-spacing:0px;color:#111;-webkit-text-stroke:0.25px #111;">125</div><div style="left:1336.00px;top:1081.00px;line-height:16px;font-family:'Liberation Sans';font-size:16px;font-weight:normal;font-style:normal;letter-spacing:0px;color:#111;-webkit-text-stroke:0.25px #111;">150</div><div style="left:1373.50px;top:1015.00px;line-height:16px;font-family:'Liberation Sans';font-size:16px;font-weight:normal;font-style:normal;letter-spacing:0px;color:#111;-webkit-text-stroke:0.25px #111;">185</div><div style="left:1373.50px;top:1031.00px;line-height:16px;font-family:'Liberation Sans';font-size:16px;font-weight:normal;font-style:normal;letter-spacing:0px;color:#111;-webkit-text-stroke:0.25px #111;">200</div><div style="left:1373.50px;top:1048.00px;line-height:16px;font-family:'Liberation Sans';font-size:16px;font-weight:normal;font-style:normal;letter-spacing:0px;color:#111;-webkit-text-stroke:0.25px #111;">220</div><div style="left:1373.50px;top:1064.00px;line-height:16px;font-family:'Liberation Sans';font-size:16px;font-weight:normal;font-style:normal;letter-spacing:0px;color:#111;-webkit-text-stroke:0.25px #111;">250</div><div style="left:1373.50px;top:1081.00px;line-height:16px;font-family:'Liberation Sans';font-size:16px;font-weight:normal;font-style:normal;letter-spacing:0px;color:#111;-webkit-text-stroke:0.25px #111;">285</div><div style="left:1412.30px;top:1015.00px;line-height:16px;font-family:'Liberation Sans';font-size:16px;font-weight:normal;font-style:normal;letter-spacing:0px;color:#111;-webkit-text-stroke:0.25px #111;">230</div><div style="left:1412.30px;top:1031.00px;line-height:16px;font-family:'Liberation Sans';font-size:16px;font-weight:normal;font-style:normal;letter-spacing:0px;color:#111;-webkit-text-stroke:0.25px #111;">240</div><div style="left:1412.30px;top:1048.00px;line-height:16px;font-family:'Liberation Sans';font-size:16px;font-weight:normal;font-style:normal;letter-spacing:0px;color:#111;-webkit-text-stroke:0.25px #111;">305</div><div style="left:1412.30px;top:1064.00px;line-height:16px;font-family:'Liberation Sans';font-size:16px;font-weight:normal;font-style:normal;letter-spacing:0px;color:#111;-webkit-text-stroke:0.25px #111;">310</div><div style="left:1412.30px;top:1081.00px;line-height:16px;font-family:'Liberation Sans';font-size:16px;font-weight:normal;font-style:normal;letter-spacing:0px;color:#111;-webkit-text-stroke:0.25px #111;">410</div><div style="left:1449.46px;top:1015.00px;line-height:16px;font-family:'Liberation Sans';font-size:16px;font-weight:normal;font-style:normal;letter-spacing:0px;color:#111;-webkit-text-stroke:0.25px #111;">16.0</div><div style="left:1449.46px;top:1031.00px;line-height:16px;font-family:'Liberation Sans';font-size:16px;font-weight:normal;font-style:normal;letter-spacing:0px;color:#111;-webkit-text-stroke:0.25px #111;">18.0</div><div style="left:1449.46px;top:1048.00px;line-height:16px;font-family:'Liberation Sans';font-size:16px;font-weight:normal;font-style:normal;letter-spacing:0px;color:#111;-webkit-text-stroke:0.25px #111;">23.0</div><div style="left:1449.46px;top:1064.00px;line-height:16px;font-family:'Liberation Sans';font-size:16px;font-weight:normal;font-style:normal;letter-spacing:0px;color:#111;-webkit-text-stroke:0.25px #111;">38.0</div><div style="left:1449.46px;top:1081.00px;line-height:16px;font-family:'Liberation Sans';font-size:16px;font-weight:normal;font-style:normal;letter-spacing:0px;color:#111;-webkit-text-stroke:0.25px #111;">58.0</div><div style="left:1034.12px;top:1114.00px;line-height:16px;font-family:'Liberation Sans';font-size:16px;font-weight:bold;font-style:normal;letter-spacing:0px;color:#111;transform:scaleX(0.8140);transform-origin:right 50%;">75 69 06</div><div style="left:1117.40px;top:1114.00px;line-height:16px;font-family:'Liberation Sans';font-size:16px;font-weight:normal;font-style:normal;letter-spacing:0px;color:#111;-webkit-text-stroke:0.25px #111;">50</div><div style="left:1149.60px;top:1114.00px;line-height:16px;font-family:'Liberation Sans';font-size:16px;font-weight:normal;font-style:normal;letter-spacing:0px;color:#111;-webkit-text-stroke:0.25px #111;">165</div><div style="left:1187.60px;top:1114.00px;line-height:16px;font-family:'Liberation Sans';font-size:16px;font-weight:normal;font-style:normal;letter-spacing:0px;color:#111;-webkit-text-stroke:0.25px #111;">185</div><div style="left:1230.25px;top:1114.00px;line-height:16px;font-family:'Liberation Sans';font-size:16px;font-weight:normal;font-style:normal;letter-spacing:0px;color:#111;-webkit-text-stroke:0.25px #111;">9.3</div><div style="left:1552.30px;top:451.00px;line-height:16px;font-family:'Liberation Sans';font-size:16px;font-weight:normal;font-style:normal;letter-spacing:0px;color:#111;-webkit-text-stroke:0.25px #111;transform:scaleX(0.9896);transform-origin:left 50%;">with BSPP Threaded Ends</div><div style="left:1565.20px;top:470.00px;line-height:16px;font-family:'Liberation Sans';font-size:16px;font-weight:normal;font-style:normal;letter-spacing:0px;color:#111;-webkit-text-stroke:0.25px #111;transform:scaleX(0.9774);transform-origin:left 50%;">and Boro-silicate Glass</div><div style="left:1762.90px;top:451.00px;line-height:16px;font-family:'Liberation Sans';font-size:16px;font-weight:normal;font-style:normal;letter-spacing:0px;color:#111;-webkit-text-stroke:0.25px #111;transform:scaleX(0.9781);transform-origin:left 50%;">with Flanged Ends to DIN PN 16</div><div style="left:1795.10px;top:470.00px;line-height:16px;font-family:'Liberation Sans';font-size:16px;font-weight:normal;font-style:normal;letter-spacing:0px;color:#111;-webkit-text-stroke:0.25px #111;transform:scaleX(0.9774);transform-origin:left 50%;">and Boro-silicate Glass</div><div style="left:1551.50px;top:654.00px;line-height:16px;font-family:'Liberation Sans';font-size:16px;font-weight:normal;font-style:normal;letter-spacing:0px;color:#111;-webkit-text-stroke:0.25px #111;transform:scaleX(1.0234);transform-origin:left 50%;">Model</div><div style="left:1612.70px;top:647.00px;line-height:16px;font-family:'Liberation Sans';font-size:16px;font-weight:normal;font-style:normal;letter-spacing:0px;color:#111;-webkit-text-stroke:0.25px #111;transform:scaleX(1.0350);transform-origin:left 50%;">Material</div><div style="left:1612.70px;top:663.00px;line-height:16px;font-family:'Liberation Sans';font-size:16px;font-weight:normal;font-style:normal;letter-spacing:0px;color:#111;-webkit-text-stroke:0.25px #111;">of Body</div><div style="left:1690.40px;top:647.00px;line-height:16px;font-family:'Liberation Sans';font-size:16px;font-weight:normal;font-style:normal;letter-spacing:0px;color:#111;-webkit-text-stroke:0.25px #111;transform:scaleX(1.0441);transform-origin:left 50%;">Type of</div><div style="left:1690.40px;top:663.00px;line-height:16px;font-family:'Liberation Sans';font-size:16px;font-weight:normal;font-style:normal;letter-spacing:0px;color:#111;-webkit-text-stroke:0.25px #111;transform:scaleX(1.0277);transform-origin:left 50%;">End Fitting</div><div style="left:1801.80px;top:654.00px;line-height:16px;font-family:'Liberation Sans';font-size:16px;font-weight:normal;font-style:normal;letter-spacing:0px;color:#111;-webkit-text-stroke:0.25px #111;">Size</div><div style="left:1860.70px;top:654.00px;line-height:16px;font-family:'Liberation Sans';font-size:16px;font-weight:normal;font-style:normal;letter-spacing:0px;color:#111;-webkit-text-stroke:0.25px #111;transform:scaleX(0.8370);transform-origin:left 50%;">Pressure/Temperature</div><div style="left:1547.00px;top:709.00px;line-height:16px;font-family:'Liberation Sans';font-size:16px;font-weight:bold;font-style:normal;letter-spacing:0px;color:#111;transform:scaleX(1.0378);transform-origin:left 50%;">With BSPP threaded ends and boro-silicate glass</div><div style="left:1560.85px;top:748.00px;line-height:16px;font-family:'Liberation Sans';font-size:16px;font-weight:normal;font-style:normal;letter-spacing:0px;color:#111;-webkit-text-stroke:0.25px #111;">620</div><div style="left:1560.85px;top:773.00px;line-height:16px;font-family:'Liberation Sans';font-size:16px;font-weight:normal;font-style:normal;letter-spacing:0px;color:#111;-webkit-text-stroke:0.25px #111;">623</div><div style="left:1610.40px;top:748.00px;line-height:16px;font-family:'Liberation Sans';font-size:16px;font-weight:normal;font-style:normal;letter-spacing:0px;color:#111;-webkit-text-stroke:0.25px #111;transform:scaleX(1.0228);transform-origin:left 50%;">Cast Iron</div><div style="left:1610.40px;top:773.00px;line-height:16px;font-family:'Liberation Sans';font-size:16px;font-weight:normal;font-style:normal;letter-spacing:0px;color:#111;-webkit-text-stroke:0.25px #111;transform:scaleX(1.0177);transform-origin:left 50%;">Bronze</div><div style="left:1693.50px;top:758.00px;line-height:16px;font-family:'Liberation Sans';font-size:16px;font-weight:normal;font-style:normal;letter-spacing:0px;color:#111;-webkit-text-stroke:0.25px #111;">Threaded</div><div style="left:1784.80px;top:758.00px;line-height:16px;font-family:'Liberation Sans';font-size:16px;font-weight:normal;font-style:normal;letter-spacing:0px;color:#111;-webkit-text-stroke:0.25px #111;transform:scaleX(1.0191);transform-origin:left 50%;">1/2&quot; - 2&quot;</div><div style="left:1867.50px;top:758.00px;line-height:16px;font-family:'Liberation Sans';font-size:16px;font-weight:normal;font-style:normal;letter-spacing:0px;color:#111;-webkit-text-stroke:0.25px #111;transform:scaleX(0.9932);transform-origin:left 50%;">8 bar - 185°C</div><div style="left:1547.70px;top:810.00px;line-height:16px;font-family:'Liberation Sans';font-size:16px;font-weight:bold;font-style:normal;letter-spacing:0px;color:#111;transform:scaleX(1.0358);transform-origin:left 50%;">With flanged ends to DIN PN 16 and boro-silicate glass</div><div style="left:1560.65px;top:849.00px;line-height:16px;font-family:'Liberation Sans';font-size:16px;font-weight:normal;font-style:normal;letter-spacing:0px;color:#111;-webkit-text-stroke:0.25px #111;">621</div><div style="left:1555.70px;top:874.00px;line-height:16px;font-family:'Liberation Sans';font-size:16px;font-weight:normal;font-style:normal;letter-spacing:0px;color:#111;-webkit-text-stroke:0.25px #111;">3621</div><div style="left:1610.40px;top:849.00px;line-height:16px;font-family:'Liberation Sans';font-size:16px;font-weight:normal;font-style:normal;letter-spacing:0px;color:#111;-webkit-text-stroke:0.25px #111;transform:scaleX(1.0228);transform-origin:left 50%;">Cast Iron</div><div style="left:1610.00px;top:874.00px;line-height:16px;font-family:'Liberation Sans';font-size:16px;font-weight:normal;font-style:normal;letter-spacing:0px;color:#111;-webkit-text-stroke:0.25px #111;transform:scaleX(0.6236);transform-origin:left 50%;">Stainless Steel</div><div style="left:1690.40px;top:863.00px;line-height:16px;font-family:'Liberation Sans';font-size:16px;font-weight:normal;font-style:normal;letter-spacing:0px;color:#111;-webkit-text-stroke:0.25px #111;transform:scaleX(1.0185);transform-origin:left 50%;">Flanged</div><div style="left:1781.00px;top:863.00px;line-height:16px;font-family:'Liberation Sans';font-size:16px;font-weight:normal;font-style:normal;letter-spacing:0px;color:#111;-webkit-text-stroke:0.25px #111;transform:scaleX(0.9296);transform-origin:left 50%;">20-100mm</div><div style="left:1860.70px;top:863.00px;line-height:16px;font-family:'Liberation Sans';font-size:16px;font-weight:normal;font-style:normal;letter-spacing:0px;color:#111;-webkit-text-stroke:0.25px #111;transform:scaleX(0.9932);transform-origin:left 50%;">8 bar - 185°C</div><div style="left:2023.50px;top:273.00px;line-height:16px;font-family:'Liberation Sans';font-size:16px;font-weight:bold;font-style:normal;letter-spacing:0px;color:#111;transform:scaleX(1.0397);transform-origin:left 50%;">With BSPP Threaded Ends and Boro-silicate Glass</div><div style="left:2029.00px;top:320.00px;line-height:16px;font-family:'Liberation Sans';font-size:16px;font-weight:bold;font-style:normal;letter-spacing:0px;color:#111;transform:scaleX(1.0334);transform-origin:left 50%;">Model 620 - Cast Iron</div><div style="left:2037.80px;top:359.00px;line-height:16px;font-family:'Liberation Sans';font-size:16px;font-weight:normal;font-style:normal;letter-spacing:0px;color:#111;-webkit-text-stroke:0.25px #111;transform:scaleX(1.0209);transform-origin:left 50%;">CODE</div><div style="left:2111.45px;top:359.00px;line-height:16px;font-family:'Liberation Sans';font-size:16px;font-weight:normal;font-style:normal;letter-spacing:0px;color:#111;-webkit-text-stroke:0.25px #111;">d</div><div style="left:2139.70px;top:359.00px;line-height:16px;font-family:'Liberation Sans';font-size:16px;font-weight:normal;font-style:normal;letter-spacing:0px;color:#111;-webkit-text-stroke:0.25px #111;transform:scaleX(1.0039);transform-origin:left 50%;">Lmm</div><div style="left:2191.80px;top:350.00px;line-height:16px;font-family:'Liberation Sans';font-size:16px;font-weight:normal;font-style:normal;letter-spacing:0px;color:#111;-webkit-text-stroke:0.25px #111;transform:scaleX(1.0179);transform-origin:left 50%;">Weight</div><div style="left:2204.35px;top:366.00px;line-height:16px;font-family:'Liberation Sans';font-size:16px;font-weight:normal;font-style:normal;letter-spacing:0px;color:#111;-webkit-text-stroke:0.25px #111;">kgs</div><div style="left:2262.30px;top:359.00px;line-height:16px;font-family:'Liberation Sans';font-size:16px;font-weight:normal;font-style:normal;letter-spacing:0px;color:#111;-webkit-text-stroke:0.25px #111;transform:scaleX(1.0122);transform-origin:left 50%;">CODE</div><div style="left:2335.75px;top:359.00px;line-height:16px;font-family:'Liberation Sans';font-size:16px;font-weight:normal;font-style:normal;letter-spacing:0px;color:#111;-webkit-text-stroke:0.25px #111;">d</div><div style="left:2364.20px;top:359.00px;line-height:16px;font-family:'Liberation Sans';font-size:16px;font-weight:normal;font-style:normal;letter-spacing:0px;color:#111;-webkit-text-stroke:0.25px #111;transform:scaleX(0.9870);transform-origin:left 50%;">Lmm</div><div style="left:2415.90px;top:350.00px;line-height:16px;font-family:'Liberation Sans';font-size:16px;font-weight:normal;font-style:normal;letter-spacing:0px;color:#111;-webkit-text-stroke:0.25px #111;transform:scaleX(1.0138);transform-origin:left 50%;">Weight</div><div style="left:2428.25px;top:366.00px;line-height:16px;font-family:'Liberation Sans';font-size:16px;font-weight:normal;font-style:normal;letter-spacing:0px;color:#111;-webkit-text-stroke:0.25px #111;">kgs</div><div style="left:2022.72px;top:396.00px;line-height:16px;font-family:'Liberation Sans';font-size:16px;font-weight:bold;font-style:normal;letter-spacing:0px;color:#111;transform:scaleX(0.8140);transform-origin:right 50%;">75 69 21</div><div style="left:2067.20px;top:412.00px;line-height:16px;font-family:'Liberation Sans';font-size:16px;font-weight:bold;font-style:normal;letter-spacing:0px;color:#111;transform:scaleX(0.8140);transform-origin:right 50%;">22</div><div style="left:2067.20px;top:429.00px;line-height:16px;font-family:'Liberation Sans';font-size:16px;font-weight:bold;font-style:normal;letter-spacing:0px;color:#111;transform:scaleX(0.8140);transform-origin:right 50%;">23</div><div style="left:2103.84px;top:396.00px;line-height:16px;font-family:'Liberation Sans';font-size:16px;font-weight:normal;font-style:normal;letter-spacing:0px;color:#111;-webkit-text-stroke:0.25px #111;">1/2&quot;</div><div style="left:2103.84px;top:412.00px;line-height:16px;font-family:'Liberation Sans';font-size:16px;font-weight:normal;font-style:normal;letter-spacing:0px;color:#111;-webkit-text-stroke:0.25px #111;">3/4&quot;</div><div style="left:2110.51px;top:429.00px;line-height:16px;font-family:'Liberation Sans';font-size:16px;font-weight:normal;font-style:normal;letter-spacing:0px;color:#111;-webkit-text-stroke:0.25px #111;">1&quot;</div><div style="left:2144.85px;top:396.00px;line-height:16px;font-family:'Liberation Sans';font-size:16px;font-weight:normal;font-style:normal;letter-spacing:0px;color:#111;-webkit-text-stroke:0.25px #111;">105</div><div style="left:2144.85px;top:412.00px;line-height:16px;font-family:'Liberation Sans';font-size:16px;font-weight:normal;font-style:normal;letter-spacing:0px;color:#111;-webkit-text-stroke:0.25px #111;">105</div><div style="left:2145.44px;top:429.00px;line-height:16px;font-family:'Liberation Sans';font-size:16px;font-weight:normal;font-style:normal;letter-spacing:0px;color:#111;-webkit-text-stroke:0.25px #111;">110</div><div style="left:2203.68px;top:396.00px;line-height:16px;font-family:'Liberation Sans';font-size:16px;font-weight:normal;font-style:normal;letter-spacing:0px;color:#111;-webkit-text-stroke:0.25px #111;">1.5</div><div style="left:2203.68px;top:412.00px;line-height:16px;font-family:'Liberation Sans';font-size:16px;font-weight:normal;font-style:normal;letter-spacing:0px;color:#111;-webkit-text-stroke:0.25px #111;">1.6</div><div style="left:2203.68px;top:429.00px;line-height:16px;font-family:'Liberation Sans';font-size:16px;font-weight:normal;font-style:normal;letter-spacing:0px;color:#111;-webkit-text-stroke:0.25px #111;">1.8</div><div style="left:2247.22px;top:396.00px;line-height:16px;font-family:'Liberation Sans';font-size:16px;font-weight:bold;font-style:normal;letter-spacing:0px;color:#111;transform:scaleX(0.8140);transform-origin:right 50%;">75 69 24</div><div style="left:2291.70px;top:412.00px;line-height:16px;font-family:'Liberation Sans';font-size:16px;font-weight:bold;font-style:normal;letter-spacing:0px;color:#111;transform:scaleX(0.8140);transform-origin:right 50%;">25</div><div style="left:2291.70px;top:429.00px;line-height:16px;font-family:'Liberation Sans';font-size:16px;font-weight:bold;font-style:normal;letter-spacing:0px;color:#111;transform:scaleX(0.8140);transform-origin:right 50%;">26</div><div style="left:2321.22px;top:396.00px;line-height:16px;font-family:'Liberation Sans';font-size:16px;font-weight:normal;font-style:normal;letter-spacing:0px;color:#111;-webkit-text-stroke:0.25px #111;transform:scaleX(0.7400);transform-origin:center 50%;">1-1/4&quot;</div><div style="left:2321.22px;top:412.00px;line-height:16px;font-family:'Liberation Sans';font-size:16px;font-weight:normal;font-style:normal;letter-spacing:0px;color:#111;-webkit-text-stroke:0.25px #111;transform:scaleX(0.7400);transform-origin:center 50%;">1-1/2&quot;</div><div style="left:2335.01px;top:429.00px;line-height:16px;font-family:'Liberation Sans';font-size:16px;font-weight:normal;font-style:normal;letter-spacing:0px;color:#111;-webkit-text-stroke:0.25px #111;">2&quot;</div><div style="left:2368.75px;top:396.00px;line-height:16px;font-family:'Liberation Sans';font-size:16px;font-weight:normal;font-style:normal;letter-spacing:0px;color:#111;-webkit-text-stroke:0.25px #111;">120</div><div style="left:2368.75px;top:412.00px;line-height:16px;font-family:'Liberation Sans';font-size:16px;font-weight:normal;font-style:normal;letter-spacing:0px;color:#111;-webkit-text-stroke:0.25px #111;">140</div><div style="left:2368.75px;top:429.00px;line-height:16px;font-family:'Liberation Sans';font-size:16px;font-weight:normal;font-style:normal;letter-spacing:0px;color:#111;-webkit-text-stroke:0.25px #111;">160</div><div style="left:2425.68px;top:396.00px;line-height:16px;font-family:'Liberation Sans';font-size:16px;font-weight:normal;font-style:normal;letter-spacing:0px;color:#111;-webkit-text-stroke:0.25px #111;">2.0</div><div style="left:2425.68px;top:412.00px;line-height:16px;font-family:'Liberation Sans';font-size:16px;font-weight:normal;font-style:normal;letter-spacing:0px;color:#111;-webkit-text-stroke:0.25px #111;">3.2</div><div style="left:2425.68px;top:429.00px;line-height:16px;font-family:'Liberation Sans';font-size:16px;font-weight:normal;font-style:normal;letter-spacing:0px;color:#111;-webkit-text-stroke:0.25px #111;">3.5</div><div style="left:2030.30px;top:462.00px;line-height:16px;font-family:'Liberation Sans';font-size:16px;font-weight:bold;font-style:normal;letter-spacing:0px;color:#111;transform:scaleX(1.0335);transform-origin:left 50%;">Model 623 - Bronze</div><div style="left:2039.40px;top:502.00px;line-height:16px;font-family:'Liberation Sans';font-size:16px;font-weight:normal;font-style:normal;letter-spacing:0px;color:#111;-webkit-text-stroke:0.25px #111;transform:scaleX(1.0057);transform-origin:left 50%;">CODE</div><div style="left:2112.45px;top:502.00px;line-height:16px;font-family:'Liberation Sans';font-size:16px;font-weight:normal;font-style:normal;letter-spacing:0px;color:#111;-webkit-text-stroke:0.25px #111;">d</div><div style="left:2140.10px;top:502.00px;line-height:16px;font-family:'Liberation Sans';font-size:16px;font-weight:normal;font-style:normal;letter-spacing:0px;color:#111;-webkit-text-stroke:0.25px #111;transform:scaleX(1.0264);transform-origin:left 50%;">Lmm</div><div style="left:2192.70px;top:493.00px;line-height:16px;font-family:'Liberation Sans';font-size:16px;font-weight:normal;font-style:normal;letter-spacing:0px;color:#111;-webkit-text-stroke:0.25px #111;transform:scaleX(1.0300);transform-origin:left 50%;">Weight</div><div style="left:2205.55px;top:510.00px;line-height:16px;font-family:'Liberation Sans';font-size:16px;font-weight:normal;font-style:normal;letter-spacing:0px;color:#111;-webkit-text-stroke:0.25px #111;">kgs</div><div style="left:2264.00px;top:502.00px;line-height:16px;font-family:'Liberation Sans';font-size:16px;font-weight:normal;font-style:normal;letter-spacing:0px;color:#111;-webkit-text-stroke:0.25px #111;transform:scaleX(1.0057);transform-origin:left 50%;">CODE</div><div style="left:2336.75px;top:502.00px;line-height:16px;font-family:'Liberation Sans';font-size:16px;font-weight:normal;font-style:normal;letter-spacing:0px;color:#111;-webkit-text-stroke:0.25px #111;">d</div><div style="left:2365.10px;top:502.00px;line-height:16px;font-family:'Liberation Sans';font-size:16px;font-weight:normal;font-style:normal;letter-spacing:0px;color:#111;-webkit-text-stroke:0.25px #111;transform:scaleX(0.9954);transform-origin:left 50%;">Lmm</div><div style="left:2416.70px;top:493.00px;line-height:16px;font-family:'Liberation Sans';font-size:16px;font-weight:normal;font-style:normal;letter-spacing:0px;color:#111;-webkit-text-stroke:0.25px #111;transform:scaleX(1.0219);transform-origin:left 50%;">Weight</div><div style="left:2429.55px;top:510.00px;line-height:16px;font-family:'Liberation Sans';font-size:16px;font-weight:normal;font-style:normal;letter-spacing:0px;color:#111;-webkit-text-stroke:0.25px #111;">kgs</div><div style="left:2024.42px;top:539.00px;line-height:16px;font-family:'Liberation Sans';font-size:16px;font-weight:bold;font-style:normal;letter-spacing:0px;color:#111;transform:scaleX(0.8140);transform-origin:right 50%;">75 69 31</div><div style="left:2068.90px;top:556.00px;line-height:16px;font-family:'Liberation Sans';font-size:16px;font-weight:bold;font-style:normal;letter-spacing:0px;color:#111;transform:scaleX(0.8140);transform-origin:right 50%;">32</div><div style="left:2068.90px;top:572.00px;line-height:16px;font-family:'Liberation Sans';font-size:16px;font-weight:bold;font-style:normal;letter-spacing:0px;color:#111;transform:scaleX(0.8140);transform-origin:right 50%;">33</div><div style="left:2105.34px;top:539.00px;line-height:16px;font-family:'Liberation Sans';font-size:16px;font-weight:normal;font-style:normal;letter-spacing:0px;color:#111;-webkit-text-stroke:0.25px #111;">1/2&quot;</div><div style="left:2105.34px;top:556.00px;line-height:16px;font-family:'Liberation Sans';font-size:16px;font-weight:normal;font-style:normal;letter-spacing:0px;color:#111;-webkit-text-stroke:0.25px #111;">3/4&quot;</div><div style="left:2112.01px;top:572.00px;line-height:16px;font-family:'Liberation Sans';font-size:16px;font-weight:normal;font-style:normal;letter-spacing:0px;color:#111;-webkit-text-stroke:0.25px #111;">1&quot;</div><div style="left:2146.45px;top:539.00px;line-height:16px;font-family:'Liberation Sans';font-size:16px;font-weight:normal;font-style:normal;letter-spacing:0px;color:#111;-webkit-text-stroke:0.25px #111;">105</div><div style="left:2146.45px;top:556.00px;line-height:16px;font-family:'Liberation Sans';font-size:16px;font-weight:normal;font-style:normal;letter-spacing:0px;color:#111;-webkit-text-stroke:0.25px #111;">105</div><div style="left:2147.04px;top:572.00px;line-height:16px;font-family:'Liberation Sans';font-size:16px;font-weight:normal;font-style:normal;letter-spacing:0px;color:#111;-webkit-text-stroke:0.25px #111;">110</div><div style="left:2205.28px;top:539.00px;line-height:16px;font-family:'Liberation Sans';font-size:16px;font-weight:normal;font-style:normal;letter-spacing:0px;color:#111;-webkit-text-stroke:0.25px #111;">1.5</div><div style="left:2205.28px;top:556.00px;line-height:16px;font-family:'Liberation Sans';font-size:16px;font-weight:normal;font-style:normal;letter-spacing:0px;color:#111;-webkit-text-stroke:0.25px #111;">1.6</div><div style="left:2205.28px;top:572.00px;line-height:16px;font-family:'Liberation Sans';font-size:16px;font-weight:normal;font-style:normal;letter-spacing:0px;color:#111;-webkit-text-stroke:0.25px #111;">1.8</div><div style="left:2248.62px;top:539.00px;line-height:16px;font-family:'Liberation Sans';font-size:16px;font-weight:bold;font-style:normal;letter-spacing:0px;color:#111;transform:scaleX(0.8140);transform-origin:right 50%;">75 69 34</div><div style="left:2293.10px;top:556.00px;line-height:16px;font-family:'Liberation Sans';font-size:16px;font-weight:bold;font-style:normal;letter-spacing:0px;color:#111;transform:scaleX(0.8140);transform-origin:right 50%;">35</div><div style="left:2293.10px;top:572.00px;line-height:16px;font-family:'Liberation Sans';font-size:16px;font-weight:bold;font-style:normal;letter-spacing:0px;color:#111;transform:scaleX(0.8140);transform-origin:right 50%;">36</div><div style="left:2322.82px;top:539.00px;line-height:16px;font-family:'Liberation Sans';font-size:16px;font-weight:normal;font-style:normal;letter-spacing:0px;color:#111;-webkit-text-stroke:0.25px #111;transform:scaleX(0.7400);transform-origin:center 50%;">1-1/4&quot;</div><div style="left:2322.82px;top:556.00px;line-height:16px;font-family:'Liberation Sans';font-size:16px;font-weight:normal;font-style:normal;letter-spacing:0px;color:#111;-webkit-text-stroke:0.25px #111;transform:scaleX(0.7400);transform-origin:center 50%;">1-1/2&quot;</div><div style="left:2336.61px;top:572.00px;line-height:16px;font-family:'Liberation Sans';font-size:16px;font-weight:normal;font-style:normal;letter-spacing:0px;color:#111;-webkit-text-stroke:0.25px #111;">2&quot;</div><div style="left:2369.55px;top:539.00px;line-height:16px;font-family:'Liberation Sans';font-size:16px;font-weight:normal;font-style:normal;letter-spacing:0px;color:#111;-webkit-text-stroke:0.25px #111;">120</div><div style="left:2369.55px;top:556.00px;line-height:16px;font-family:'Liberation Sans';font-size:16px;font-weight:normal;font-style:normal;letter-spacing:0px;color:#111;-webkit-text-stroke:0.25px #111;">140</div><div style="left:2369.55px;top:572.00px;line-height:16px;font-family:'Liberation Sans';font-size:16px;font-weight:normal;font-style:normal;letter-spacing:0px;color:#111;-webkit-text-stroke:0.25px #111;">160</div><div style="left:2426.88px;top:539.00px;line-height:16px;font-family:'Liberation Sans';font-size:16px;font-weight:normal;font-style:normal;letter-spacing:0px;color:#111;-webkit-text-stroke:0.25px #111;">2.0</div><div style="left:2426.88px;top:556.00px;line-height:16px;font-family:'Liberation Sans';font-size:16px;font-weight:normal;font-style:normal;letter-spacing:0px;color:#111;-webkit-text-stroke:0.25px #111;">3.2</div><div style="left:2426.88px;top:572.00px;line-height:16px;font-family:'Liberation Sans';font-size:16px;font-weight:normal;font-style:normal;letter-spacing:0px;color:#111;-webkit-text-stroke:0.25px #111;">3.5</div><div style="left:2022.20px;top:657.00px;line-height:16px;font-family:'Liberation Sans';font-size:16px;font-weight:bold;font-style:normal;letter-spacing:0px;color:#111;transform:scaleX(1.0352);transform-origin:left 50%;">With Flanged Ends to DIN PN 16 and Boro-silicate Glass</div><div style="left:2026.10px;top:723.00px;line-height:16px;font-family:'Liberation Sans';font-size:16px;font-weight:bold;font-style:normal;letter-spacing:0px;color:#111;transform:scaleX(1.0334);transform-origin:left 50%;">Model 621 - Cast Iron</div><div style="left:2033.30px;top:765.00px;line-height:16px;font-family:'Liberation Sans';font-size:16px;font-weight:normal;font-style:normal;letter-spacing:0px;color:#111;-webkit-text-stroke:0.25px #111;transform:scaleX(1.0144);transform-origin:left 50%;">CODE</div><div style="left:2098.70px;top:765.00px;line-height:16px;font-family:'Liberation Sans';font-size:16px;font-weight:normal;font-style:normal;letter-spacing:0px;color:#111;-webkit-text-stroke:0.25px #111;transform:scaleX(0.9866);transform-origin:left 50%;">DN</div><div style="left:2138.30px;top:752.00px;line-height:16px;font-family:'Liberation Sans';font-size:16px;font-weight:normal;font-style:normal;letter-spacing:0px;color:#111;-webkit-text-stroke:0.25px #111;transform:scaleX(1.0211);transform-origin:left 50%;">Sizemm</div><div style="left:2143.66px;top:774.00px;line-height:16px;font-family:'Liberation Sans';font-size:16px;font-weight:normal;font-style:normal;letter-spacing:0px;color:#111;-webkit-text-stroke:0.25px #111;">A</div><div style="left:2182.05px;top:774.00px;line-height:16px;font-family:'Liberation Sans';font-size:16px;font-weight:normal;font-style:normal;letter-spacing:0px;color:#111;-webkit-text-stroke:0.25px #111;">L</div><div style="left:2210.30px;top:756.00px;line-height:15px;font-family:'Liberation Sans';font-size:15px;font-weight:normal;font-style:normal;letter-spacing:0px;color:#111;-webkit-text-stroke:0.25px #111;transform:scaleX(0.6743);transform-origin:left 50%;">Weight</div><div style="left:2214.53px;top:772.00px;line-height:15px;font-family:'Liberation Sans';font-size:15px;font-weight:normal;font-style:normal;letter-spacing:0px;color:#111;-webkit-text-stroke:0.25px #111;transform:scaleX(0.7200);transform-origin:center 50%;">kgs</div><div style="left:2257.80px;top:765.00px;line-height:16px;font-family:'Liberation Sans';font-size:16px;font-weight:normal;font-style:normal;letter-spacing:0px;color:#111;-webkit-text-stroke:0.25px #111;">CODE</div><div style="left:2322.20px;top:765.00px;line-height:16px;font-family:'Liberation Sans';font-size:16px;font-weight:normal;font-style:normal;letter-spacing:0px;color:#111;-webkit-text-stroke:0.25px #111;transform:scaleX(1.0126);transform-origin:left 50%;">DN</div><div style="left:2362.20px;top:752.00px;line-height:16px;font-family:'Liberation Sans';font-size:16px;font-weight:normal;font-style:normal;letter-spacing:0px;color:#111;-webkit-text-stroke:0.25px #111;transform:scaleX(1.0142);transform-origin:left 50%;">Sizemm</div><div style="left:2367.66px;top:774.00px;line-height:16px;font-family:'Liberation Sans';font-size:16px;font-weight:normal;font-style:normal;letter-spacing:0px;color:#111;-webkit-text-stroke:0.25px #111;">A</div><div style="left:2406.55px;top:774.00px;line-height:16px;font-family:'Liberation Sans';font-size:16px;font-weight:normal;font-style:normal;letter-spacing:0px;color:#111;-webkit-text-stroke:0.25px #111;">L</div><div style="left:2434.00px;top:756.00px;line-height:15px;font-family:'Liberation Sans';font-size:15px;font-weight:normal;font-style:normal;letter-spacing:0px;color:#111;-webkit-text-stroke:0.25px #111;transform:scaleX(0.6743);transform-origin:left 50%;">Weight</div><div style="left:2438.03px;top:772.00px;line-height:15px;font-family:'Liberation Sans';font-size:15px;font-weight:normal;font-style:normal;letter-spacing:0px;color:#111;-webkit-text-stroke:0.25px #111;transform:scaleX(0.7200);transform-origin:center 50%;">kgs</div><div style="left:2018.82px;top:802.00px;line-height:16px;font-family:'Liberation Sans';font-size:16px;font-weight:bold;font-style:normal;letter-spacing:0px;color:#111;transform:scaleX(0.8140);transform-origin:right 50%;">75 69 41</div><div style="left:2063.30px;top:819.00px;line-height:16px;font-family:'Liberation Sans';font-size:16px;font-weight:bold;font-style:normal;letter-spacing:0px;color:#111;transform:scaleX(0.8140);transform-origin:right 50%;">42</div><div style="left:2063.30px;top:835.00px;line-height:16px;font-family:'Liberation Sans';font-size:16px;font-weight:bold;font-style:normal;letter-spacing:0px;color:#111;transform:scaleX(0.8140);transform-origin:right 50%;">43</div><div style="left:2063.30px;top:852.00px;line-height:16px;font-family:'Liberation Sans';font-size:16px;font-weight:bold;font-style:normal;letter-spacing:0px;color:#111;transform:scaleX(0.8140);transform-origin:right 50%;">44</div><div style="left:2102.80px;top:802.00px;line-height:16px;font-family:'Liberation Sans';font-size:16px;font-weight:normal;font-style:normal;letter-spacing:0px;color:#111;-webkit-text-stroke:0.25px #111;">20</div><div style="left:2102.80px;top:819.00px;line-height:16px;font-family:'Liberation Sans';font-size:16px;font-weight:normal;font-style:normal;letter-spacing:0px;color:#111;-webkit-text-stroke:0.25px #111;">25</div><div style="left:2102.80px;top:835.00px;line-height:16px;font-family:'Liberation Sans';font-size:16px;font-weight:normal;font-style:normal;letter-spacing:0px;color:#111;-webkit-text-stroke:0.25px #111;">32</div><div style="left:2102.80px;top:852.00px;line-height:16px;font-family:'Liberation Sans';font-size:16px;font-weight:normal;font-style:normal;letter-spacing:0px;color:#111;-webkit-text-stroke:0.25px #111;">40</div><div style="left:2134.90px;top:802.00px;line-height:16px;font-family:'Liberation Sans';font-size:16px;font-weight:normal;font-style:normal;letter-spacing:0px;color:#111;-webkit-text-stroke:0.25px #111;">105</div><div style="left:2136.08px;top:819.00px;line-height:16px;font-family:'Liberation Sans';font-size:16px;font-weight:normal;font-style:normal;letter-spacing:0px;color:#111;-webkit-text-stroke:0.25px #111;">115</div><div style="left:2134.90px;top:835.00px;line-height:16px;font-family:'Liberation Sans';font-size:16px;font-weight:normal;font-style:normal;letter-spacing:0px;color:#111;-webkit-text-stroke:0.25px #111;">140</div><div style="left:2134.90px;top:852.00px;line-height:16px;font-family:'Liberation Sans';font-size:16px;font-weight:normal;font-style:normal;letter-spacing:0px;color:#111;-webkit-text-stroke:0.25px #111;">150</div><div style="left:2172.90px;top:802.00px;line-height:16px;font-family:'Liberation Sans';font-size:16px;font-weight:normal;font-style:normal;letter-spacing:0px;color:#111;-webkit-text-stroke:0.25px #111;">135</div><div style="left:2172.90px;top:819.00px;line-height:16px;font-family:'Liberation Sans';font-size:16px;font-weight:normal;font-style:normal;letter-spacing:0px;color:#111;-webkit-text-stroke:0.25px #111;">140</div><div style="left:2172.90px;top:835.00px;line-height:16px;font-family:'Liberation Sans';font-size:16px;font-weight:normal;font-style:normal;letter-spacing:0px;color:#111;-webkit-text-stroke:0.25px #111;">150</div><div style="left:2172.90px;top:852.00px;line-height:16px;font-family:'Liberation Sans';font-size:16px;font-weight:normal;font-style:normal;letter-spacing:0px;color:#111;-webkit-text-stroke:0.25px #111;">170</div><div style="left:2215.85px;top:802.00px;line-height:16px;font-family:'Liberation Sans';font-size:16px;font-weight:normal;font-style:normal;letter-spacing:0px;color:#111;-webkit-text-stroke:0.25px #111;">3.5</div><div style="left:2215.85px;top:819.00px;line-height:16px;font-family:'Liberation Sans';font-size:16px;font-weight:normal;font-style:normal;letter-spacing:0px;color:#111;-webkit-text-stroke:0.25px #111;">4.5</div><div style="left:2215.85px;top:835.00px;line-height:16px;font-family:'Liberation Sans';font-size:16px;font-weight:normal;font-style:normal;letter-spacing:0px;color:#111;-webkit-text-stroke:0.25px #111;">5.7</div><div style="left:2215.85px;top:852.00px;line-height:16px;font-family:'Liberation Sans';font-size:16px;font-weight:normal;font-style:normal;letter-spacing:0px;color:#111;-webkit-text-stroke:0.25px #111;">6.5</div><div style="left:2243.32px;top:802.00px;line-height:16px;font-family:'Liberation Sans';font-size:16px;font-weight:bold;font-style:normal;letter-spacing:0px;color:#111;transform:scaleX(0.8140);transform-origin:right 50%;">75 69 45</div><div style="left:2287.80px;top:819.00px;line-height:16px;font-family:'Liberation Sans';font-size:16px;font-weight:bold;font-style:normal;letter-spacing:0px;color:#111;transform:scaleX(0.8140);transform-origin:right 50%;">46</div><div style="left:2287.80px;top:835.00px;line-height:16px;font-family:'Liberation Sans';font-size:16px;font-weight:bold;font-style:normal;letter-spacing:0px;color:#111;transform:scaleX(0.8140);transform-origin:right 50%;">47</div><div style="left:2287.80px;top:852.00px;line-height:16px;font-family:'Liberation Sans';font-size:16px;font-weight:bold;font-style:normal;letter-spacing:0px;color:#111;transform:scaleX(0.8140);transform-origin:right 50%;">48</div><div style="left:2330.60px;top:802.00px;line-height:16px;font-family:'Liberation Sans';font-size:16px;font-weight:normal;font-style:normal;letter-spacing:0px;color:#111;-webkit-text-stroke:0.25px #111;">50</div><div style="left:2330.60px;top:819.00px;line-height:16px;font-family:'Liberation Sans';font-size:16px;font-weight:normal;font-style:normal;letter-spacing:0px;color:#111;-webkit-text-stroke:0.25px #111;">65</div><div style="left:2330.60px;top:835.00px;line-height:16px;font-family:'Liberation Sans';font-size:16px;font-weight:normal;font-style:normal;letter-spacing:0px;color:#111;-webkit-text-stroke:0.25px #111;">80</div><div style="left:2321.70px;top:852.00px;line-height:16px;font-family:'Liberation Sans';font-size:16px;font-weight:normal;font-style:normal;letter-spacing:0px;color:#111;-webkit-text-stroke:0.25px #111;">100</div><div style="left:2359.70px;top:802.00px;line-height:16px;font-family:'Liberation Sans';font-size:16px;font-weight:normal;font-style:normal;letter-spacing:0px;color:#111;-webkit-text-stroke:0.25px #111;">165</div><div style="left:2359.70px;top:819.00px;line-height:16px;font-family:'Liberation Sans';font-size:16px;font-weight:normal;font-style:normal;letter-spacing:0px;color:#111;-webkit-text-stroke:0.25px #111;">185</div><div style="left:2359.70px;top:835.00px;line-height:16px;font-family:'Liberation Sans';font-size:16px;font-weight:normal;font-style:normal;letter-spacing:0px;color:#111;-webkit-text-stroke:0.25px #111;">200</div><div style="left:2359.70px;top:852.00px;line-height:16px;font-family:'Liberation Sans';font-size:16px;font-weight:normal;font-style:normal;letter-spacing:0px;color:#111;-webkit-text-stroke:0.25px #111;">220</div><div style="left:2398.40px;top:802.00px;line-height:16px;font-family:'Liberation Sans';font-size:16px;font-weight:normal;font-style:normal;letter-spacing:0px;color:#111;-webkit-text-stroke:0.25px #111;">170</div><div style="left:2398.40px;top:819.00px;line-height:16px;font-family:'Liberation Sans';font-size:16px;font-weight:normal;font-style:normal;letter-spacing:0px;color:#111;-webkit-text-stroke:0.25px #111;">185</div><div style="left:2398.40px;top:835.00px;line-height:16px;font-family:'Liberation Sans';font-size:16px;font-weight:normal;font-style:normal;letter-spacing:0px;color:#111;-webkit-text-stroke:0.25px #111;">210</div><div style="left:2398.40px;top:852.00px;line-height:16px;font-family:'Liberation Sans';font-size:16px;font-weight:normal;font-style:normal;letter-spacing:0px;color:#111;-webkit-text-stroke:0.25px #111;">230</div><div style="left:2443.85px;top:802.00px;line-height:16px;font-family:'Liberation Sans';font-size:16px;font-weight:normal;font-style:normal;letter-spacing:0px;color:#111;-webkit-text-stroke:0.25px #111;">8.5</div><div style="left:2436.15px;top:819.00px;line-height:16px;font-family:'Liberation Sans';font-size:16px;font-weight:normal;font-style:normal;letter-spacing:0px;color:#111;-webkit-text-stroke:0.25px #111;">11.0</div><div style="left:2434.96px;top:835.00px;line-height:16px;font-family:'Liberation Sans';font-size:16px;font-weight:normal;font-style:normal;letter-spacing:0px;color:#111;-webkit-text-stroke:0.25px #111;">16.0</div><div style="left:2434.96px;top:852.00px;line-height:16px;font-family:'Liberation Sans';font-size:16px;font-weight:normal;font-style:normal;letter-spacing:0px;color:#111;-webkit-text-stroke:0.25px #111;">20.0</div><div style="left:2023.00px;top:891.00px;line-height:16px;font-family:'Liberation Sans';font-size:16px;font-weight:bold;font-style:normal;letter-spacing:0px;color:#111;transform:scaleX(1.0313);transform-origin:left 50%;">Model 3621 - Stainless Steel</div><div style="left:2032.30px;top:933.00px;line-height:16px;font-family:'Liberation Sans';font-size:16px;font-weight:normal;font-style:normal;letter-spacing:0px;color:#111;-webkit-text-stroke:0.25px #111;transform:scaleX(1.0144);transform-origin:left 50%;">CODE</div><div style="left:2097.10px;top:933.00px;line-height:16px;font-family:'Liberation Sans';font-size:16px;font-weight:normal;font-style:normal;letter-spacing:0px;color:#111;-webkit-text-stroke:0.25px #111;">DN</div><div style="left:2136.80px;top:921.00px;line-height:16px;font-family:'Liberation Sans';font-size:16px;font-weight:normal;font-style:normal;letter-spacing:0px;color:#111;-webkit-text-stroke:0.25px #111;transform:scaleX(1.0124);transform-origin:left 50%;">Sizemm</div><div style="left:2141.76px;top:943.00px;line-height:16px;font-family:'Liberation Sans';font-size:16px;font-weight:normal;font-style:normal;letter-spacing:0px;color:#111;-webkit-text-stroke:0.25px #111;">A</div><div style="left:2181.15px;top:943.00px;line-height:16px;font-family:'Liberation Sans';font-size:16px;font-weight:normal;font-style:normal;letter-spacing:0px;color:#111;-webkit-text-stroke:0.25px #111;">L</div><div style="left:2209.00px;top:925.00px;line-height:15px;font-family:'Liberation Sans';font-size:15px;font-weight:normal;font-style:normal;letter-spacing:0px;color:#111;-webkit-text-stroke:0.25px #111;transform:scaleX(0.6419);transform-origin:left 50%;">Weight</div><div style="left:2211.93px;top:941.00px;line-height:15px;font-family:'Liberation Sans';font-size:15px;font-weight:normal;font-style:normal;letter-spacing:0px;color:#111;-webkit-text-stroke:0.25px #111;transform:scaleX(0.7200);transform-origin:center 50%;">kgs</div><div style="left:2255.40px;top:933.00px;line-height:16px;font-family:'Liberation Sans';font-size:16px;font-weight:normal;font-style:normal;letter-spacing:0px;color:#111;-webkit-text-stroke:0.25px #111;transform:scaleX(1.0101);transform-origin:left 50%;">CODE</div><div style="left:2320.60px;top:933.00px;line-height:16px;font-family:'Liberation Sans';font-size:16px;font-weight:normal;font-style:normal;letter-spacing:0px;color:#111;-webkit-text-stroke:0.25px #111;transform:scaleX(0.9736);transform-origin:left 50%;">DN</div><div style="left:2359.90px;top:921.00px;line-height:16px;font-family:'Liberation Sans';font-size:16px;font-weight:normal;font-style:normal;letter-spacing:0px;color:#111;-webkit-text-stroke:0.25px #111;transform:scaleX(1.0090);transform-origin:left 50%;">Sizemm</div><div style="left:2364.66px;top:943.00px;line-height:16px;font-family:'Liberation Sans';font-size:16px;font-weight:normal;font-style:normal;letter-spacing:0px;color:#111;-webkit-text-stroke:0.25px #111;">A</div><div style="left:2404.25px;top:943.00px;line-height:16px;font-family:'Liberation Sans';font-size:16px;font-weight:normal;font-style:normal;letter-spacing:0px;color:#111;-webkit-text-stroke:0.25px #111;">L</div><div style="left:2431.10px;top:925.00px;line-height:15px;font-family:'Liberation Sans';font-size:15px;font-weight:normal;font-style:normal;letter-spacing:0px;color:#111;-webkit-text-stroke:0.25px #111;transform:scaleX(0.6096);transform-origin:left 50%;">Weight</div><div style="left:2433.53px;top:941.00px;line-height:15px;font-family:'Liberation Sans';font-size:15px;font-weight:normal;font-style:normal;letter-spacing:0px;color:#111;-webkit-text-stroke:0.25px #111;transform:scaleX(0.7200);transform-origin:center 50%;">kgs</div><div style="left:2017.92px;top:971.00px;line-height:16px;font-family:'Liberation Sans';font-size:16px;font-weight:bold;font-style:normal;letter-spacing:0px;color:#111;transform:scaleX(0.8140);transform-origin:right 50%;">75 69 51</div><div style="left:2062.40px;top:988.00px;line-height:16px;font-family:'Liberation Sans';font-size:16px;font-weight:bold;font-style:normal;letter-spacing:0px;color:#111;transform:scaleX(0.8140);transform-origin:right 50%;">52</div><div style="left:2062.40px;top:1004.00px;line-height:16px;font-family:'Liberation Sans';font-size:16px;font-weight:bold;font-style:normal;letter-spacing:0px;color:#111;transform:scaleX(0.8140);transform-origin:right 50%;">53</div><div style="left:2062.40px;top:1021.00px;line-height:16px;font-family:'Liberation Sans';font-size:16px;font-weight:bold;font-style:normal;letter-spacing:0px;color:#111;transform:scaleX(0.8140);transform-origin:right 50%;">54</div><div style="left:2100.80px;top:971.00px;line-height:16px;font-family:'Liberation Sans';font-size:16px;font-weight:normal;font-style:normal;letter-spacing:0px;color:#111;-webkit-text-stroke:0.25px #111;">20</div><div style="left:2100.80px;top:988.00px;line-height:16px;font-family:'Liberation Sans';font-size:16px;font-weight:normal;font-style:normal;letter-spacing:0px;color:#111;-webkit-text-stroke:0.25px #111;">25</div><div style="left:2100.80px;top:1004.00px;line-height:16px;font-family:'Liberation Sans';font-size:16px;font-weight:normal;font-style:normal;letter-spacing:0px;color:#111;-webkit-text-stroke:0.25px #111;">32</div><div style="left:2100.80px;top:1021.00px;line-height:16px;font-family:'Liberation Sans';font-size:16px;font-weight:normal;font-style:normal;letter-spacing:0px;color:#111;-webkit-text-stroke:0.25px #111;">40</div><div style="left:2132.90px;top:971.00px;line-height:16px;font-family:'Liberation Sans';font-size:16px;font-weight:normal;font-style:normal;letter-spacing:0px;color:#111;-webkit-text-stroke:0.25px #111;">105</div><div style="left:2134.08px;top:988.00px;line-height:16px;font-family:'Liberation Sans';font-size:16px;font-weight:normal;font-style:normal;letter-spacing:0px;color:#111;-webkit-text-stroke:0.25px #111;">115</div><div style="left:2132.90px;top:1004.00px;line-height:16px;font-family:'Liberation Sans';font-size:16px;font-weight:normal;font-style:normal;letter-spacing:0px;color:#111;-webkit-text-stroke:0.25px #111;">140</div><div style="left:2132.90px;top:1021.00px;line-height:16px;font-family:'Liberation Sans';font-size:16px;font-weight:normal;font-style:normal;letter-spacing:0px;color:#111;-webkit-text-stroke:0.25px #111;">150</div><div style="left:2171.00px;top:971.00px;line-height:16px;font-family:'Liberation Sans';font-size:16px;font-weight:normal;font-style:normal;letter-spacing:0px;color:#111;-webkit-text-stroke:0.25px #111;">135</div><div style="left:2171.00px;top:988.00px;line-height:16px;font-family:'Liberation Sans';font-size:16px;font-weight:normal;font-style:normal;letter-spacing:0px;color:#111;-webkit-text-stroke:0.25px #111;">140</div><div style="left:2171.00px;top:1004.00px;line-height:16px;font-family:'Liberation Sans';font-size:16px;font-weight:normal;font-style:normal;letter-spacing:0px;color:#111;-webkit-text-stroke:0.25px #111;">150</div><div style="left:2171.00px;top:1021.00px;line-height:16px;font-family:'Liberation Sans';font-size:16px;font-weight:normal;font-style:normal;letter-spacing:0px;color:#111;-webkit-text-stroke:0.25px #111;">170</div><div style="left:2213.45px;top:971.00px;line-height:16px;font-family:'Liberation Sans';font-size:16px;font-weight:normal;font-style:normal;letter-spacing:0px;color:#111;-webkit-text-stroke:0.25px #111;">3.5</div><div style="left:2213.45px;top:988.00px;line-height:16px;font-family:'Liberation Sans';font-size:16px;font-weight:normal;font-style:normal;letter-spacing:0px;color:#111;-webkit-text-stroke:0.25px #111;">4.5</div><div style="left:2213.45px;top:1004.00px;line-height:16px;font-family:'Liberation Sans';font-size:16px;font-weight:normal;font-style:normal;letter-spacing:0px;color:#111;-webkit-text-stroke:0.25px #111;">5.7</div><div style="left:2213.45px;top:1021.00px;line-height:16px;font-family:'Liberation Sans';font-size:16px;font-weight:normal;font-style:normal;letter-spacing:0px;color:#111;-webkit-text-stroke:0.25px #111;">6.5</div><div style="left:2241.22px;top:971.00px;line-height:16px;font-family:'Liberation Sans';font-size:16px;font-weight:bold;font-style:normal;letter-spacing:0px;color:#111;transform:scaleX(0.8140);transform-origin:right 50%;">75 69 55</div><div style="left:2285.70px;top:988.00px;line-height:16px;font-family:'Liberation Sans';font-size:16px;font-weight:bold;font-style:normal;letter-spacing:0px;color:#111;transform:scaleX(0.8140);transform-origin:right 50%;">56</div><div style="left:2285.70px;top:1004.00px;line-height:16px;font-family:'Liberation Sans';font-size:16px;font-weight:bold;font-style:normal;letter-spacing:0px;color:#111;transform:scaleX(0.8140);transform-origin:right 50%;">57</div><div style="left:2285.70px;top:1021.00px;line-height:16px;font-family:'Liberation Sans';font-size:16px;font-weight:bold;font-style:normal;letter-spacing:0px;color:#111;transform:scaleX(0.8140);transform-origin:right 50%;">58</div><div style="left:2328.20px;top:971.00px;line-height:16px;font-family:'Liberation Sans';font-size:16px;font-weight:normal;font-style:normal;letter-spacing:0px;color:#111;-webkit-text-stroke:0.25px #111;">50</div><div style="left:2328.20px;top:988.00px;line-height:16px;font-family:'Liberation Sans';font-size:16px;font-weight:normal;font-style:normal;letter-spacing:0px;color:#111;-webkit-text-stroke:0.25px #111;">65</div><div style="left:2328.20px;top:1004.00px;line-height:16px;font-family:'Liberation Sans';font-size:16px;font-weight:normal;font-style:normal;letter-spacing:0px;color:#111;-webkit-text-stroke:0.25px #111;">80</div><div style="left:2319.30px;top:1021.00px;line-height:16px;font-family:'Liberation Sans';font-size:16px;font-weight:normal;font-style:normal;letter-spacing:0px;color:#111;-webkit-text-stroke:0.25px #111;">100</div><div style="left:2357.40px;top:971.00px;line-height:16px;font-family:'Liberation Sans';font-size:16px;font-weight:normal;font-style:normal;letter-spacing:0px;color:#111;-webkit-text-stroke:0.25px #111;">165</div><div style="left:2357.40px;top:988.00px;line-height:16px;font-family:'Liberation Sans';font-size:16px;font-weight:normal;font-style:normal;letter-spacing:0px;color:#111;-webkit-text-stroke:0.25px #111;">185</div><div style="left:2357.40px;top:1004.00px;line-height:16px;font-family:'Liberation Sans';font-size:16px;font-weight:normal;font-style:normal;letter-spacing:0px;color:#111;-webkit-text-stroke:0.25px #111;">200</div><div style="left:2357.40px;top:1021.00px;line-height:16px;font-family:'Liberation Sans';font-size:16px;font-weight:normal;font-style:normal;letter-spacing:0px;color:#111;-webkit-text-stroke:0.25px #111;">220</div><div style="left:2395.40px;top:971.00px;line-height:16px;font-family:'Liberation Sans';font-size:16px;font-weight:normal;font-style:normal;letter-spacing:0px;color:#111;-webkit-text-stroke:0.25px #111;">170</div><div style="left:2395.40px;top:988.00px;line-height:16px;font-family:'Liberation Sans';font-size:16px;font-weight:normal;font-style:normal;letter-spacing:0px;color:#111;-webkit-text-stroke:0.25px #111;">185</div><div style="left:2395.40px;top:1004.00px;line-height:16px;font-family:'Liberation Sans';font-size:16px;font-weight:normal;font-style:normal;letter-spacing:0px;color:#111;-webkit-text-stroke:0.25px #111;">210</div><div style="left:2395.40px;top:1021.00px;line-height:16px;font-family:'Liberation Sans';font-size:16px;font-weight:normal;font-style:normal;letter-spacing:0px;color:#111;-webkit-text-stroke:0.25px #111;">230</div><div style="left:2437.55px;top:971.00px;line-height:16px;font-family:'Liberation Sans';font-size:16px;font-weight:normal;font-style:normal;letter-spacing:0px;color:#111;-webkit-text-stroke:0.25px #111;">8.5</div><div style="left:2429.85px;top:988.00px;line-height:16px;font-family:'Liberation Sans';font-size:16px;font-weight:normal;font-style:normal;letter-spacing:0px;color:#111;-webkit-text-stroke:0.25px #111;">11.0</div><div style="left:2428.66px;top:1004.00px;line-height:16px;font-family:'Liberation Sans';font-size:16px;font-weight:normal;font-style:normal;letter-spacing:0px;color:#111;-webkit-text-stroke:0.25px #111;">16.0</div><div style="left:2428.66px;top:1021.00px;line-height:16px;font-family:'Liberation Sans';font-size:16px;font-weight:normal;font-style:normal;letter-spacing:0px;color:#111;-webkit-text-stroke:0.25px #111;">20.0</div><div style="left:740.40px;top:495.00px;line-height:12px;font-family:'Liberation Sans';font-size:12px;font-weight:normal;font-style:normal;letter-spacing:0px;color:#111;-webkit-text-stroke:0.25px #111;transform:scaleX(0.9785);transform-origin:left 50%;">625</div><div style="left:813.60px;top:495.00px;line-height:12px;font-family:'Liberation Sans';font-size:12px;font-weight:normal;font-style:normal;letter-spacing:0px;color:#111;-webkit-text-stroke:0.25px #111;">630</div><div style="left:886.00px;top:498.00px;line-height:12px;font-family:'Liberation Sans';font-size:12px;font-weight:normal;font-style:normal;letter-spacing:0px;color:#111;-webkit-text-stroke:0.25px #111;">626</div><div style="left:812.99px;top:257.00px;line-height:12px;font-family:'Liberation Sans';font-size:12px;font-weight:bold;font-style:normal;letter-spacing:0px;color:#111;transform:scaleX(0.9500);transform-origin:center 50%;">E</div><div style="left:897.33px;top:315.00px;line-height:12px;font-family:'Liberation Sans';font-size:12px;font-weight:bold;font-style:normal;letter-spacing:0px;color:#111;transform:scaleX(0.9514);transform-origin:center 50%;">DN</div><div style="left:812.53px;top:365.00px;line-height:12px;font-family:'Liberation Sans';font-size:12px;font-weight:bold;font-style:normal;letter-spacing:0px;color:#111;">L</div><div style="left:1070.50px;top:453.00px;line-height:12px;font-family:'Liberation Sans';font-size:12px;font-weight:normal;font-style:normal;letter-spacing:0px;color:#111;-webkit-text-stroke:0.25px #111;transform:scaleX(1.0187);transform-origin:left 50%;">635/636</div><div style="left:1159.30px;top:453.00px;line-height:12px;font-family:'Liberation Sans';font-size:12px;font-weight:normal;font-style:normal;letter-spacing:0px;color:#111;-webkit-text-stroke:0.25px #111;transform:scaleX(0.9735);transform-origin:left 50%;">628</div><div style="left:1267.33px;top:253.00px;line-height:11px;font-family:'Liberation Sans';font-size:11px;font-weight:bold;font-style:normal;letter-spacing:0px;color:#111;">E</div><div style="left:1335.65px;top:326.00px;line-height:11px;font-family:'Liberation Sans';font-size:11px;font-weight:bold;font-style:normal;letter-spacing:0px;color:#111;">DN</div><div style="left:1265.63px;top:405.00px;line-height:11px;font-family:'Liberation Sans';font-size:11px;font-weight:bold;font-style:normal;letter-spacing:0px;color:#111;">L</div><div style="left:1223.80px;top:415.00px;line-height:15px;font-family:'Liberation Sans';font-size:15px;font-weight:normal;font-style:normal;letter-spacing:0px;color:#111;-webkit-text-stroke:0.25px #111;transform:scaleX(1.0043);transform-origin:left 50%;">Double-window</div><div style="left:1713.92px;top:349.00px;line-height:10px;font-family:'Liberation Sans';font-size:10px;font-weight:normal;font-style:normal;letter-spacing:0px;color:#333;">d</div><div style="left:1636.49px;top:412.00px;line-height:9px;font-family:'Liberation Sans';font-size:9px;font-weight:normal;font-style:normal;letter-spacing:0px;color:#333;">L</div><div style="left:1927.57px;top:349.00px;line-height:10px;font-family:'Liberation Sans';font-size:10px;font-weight:normal;font-style:normal;letter-spacing:0px;color:#333;transform:scaleX(0.8579);transform-origin:center 50%;">DN</div><div style="left:1948.66px;top:349.00px;line-height:10px;font-family:'Liberation Sans';font-size:10px;font-weight:normal;font-style:normal;letter-spacing:0px;color:#333;">A</div><div style="left:1856.49px;top:427.00px;line-height:9px;font-family:'Liberation Sans';font-size:9px;font-weight:normal;font-style:normal;letter-spacing:0px;color:#333;">L</div>
<div style="left:1099px;top:772px;width:0;height:0;"><div style="left:0;top:-34px;font-family:'Liberation Serif';font-weight:bold;font-size:40px;line-height:40px;letter-spacing:4px;color:rgba(135,135,135,0.42);transform:rotate(-50.5deg);transform-origin:0 34px;">B2B THAI</div></div>
</div></body></html>
